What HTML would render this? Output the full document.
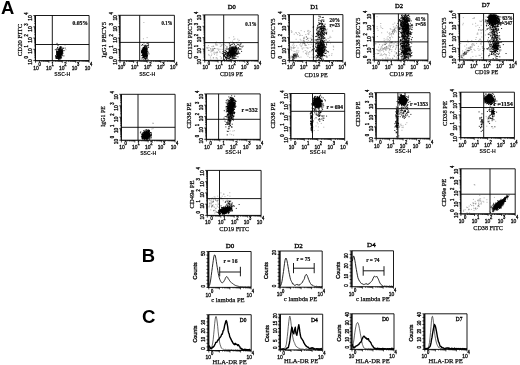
<!DOCTYPE html>
<html lang="en">
<head>
<meta charset="utf-8">
<title>Figure: flow cytometry panels A, B, C</title>
<style>
html,body{margin:0;padding:0;background:#fff}
body{width:520px;height:365px;overflow:hidden}
svg{display:block}
text{fill:#111}
.s{font-family:"Liberation Sans", Arial, Helvetica, sans-serif;stroke:#111;stroke-width:.36}
.sb{font-family:"Liberation Sans", Arial, Helvetica, sans-serif;font-weight:700;fill:#000}
.r{font-family:"Liberation Serif", "Times New Roman", Times, serif;stroke:#111;stroke-width:.25}
.t{font-family:"Liberation Serif", "Times New Roman", Times, serif;stroke:#000;stroke-width:.32;fill:#000}
.rb{font-family:"Liberation Serif", "Times New Roman", Times, serif;font-weight:700;stroke:#111;stroke-width:.22}
.ln{stroke:#000;stroke-width:.9;fill:none}
.tk{stroke:#000;stroke-width:.7;fill:none}
</style>
</head>
<body>
<svg width="520" height="365" viewBox="0 0 520 365">
<rect width="520" height="365" fill="#fff"/>
<g>
<text x="1" y="13.9" class="sb" font-size="18.4">A</text>
<text x="141.8" y="261.9" class="sb" font-size="18.4">B</text>
<text x="142" y="323.4" class="sb" font-size="18.6">C</text>
<path d="M60.2 47.6h.1M62.8 50.9h.1M65 45.2h.1M55.1 44.4h.1M64.5 50.7h.1M63 53.5h.1M60 48.9h.1M65.9 49.7h.1" stroke="#000" stroke-width=".7" stroke-linecap="square" fill="none" stroke-opacity=".4"/>
<path d="M61.8 53.2h.1M58.6 58.4h.1M59.3 55.8h.1M59.9 52.5h.1M58.2 56.7h.1M59.3 56.9h.1M59.3 53.2h.1M56.8 54.9h.1M60.8 48.1h.1M60.2 56.4h.1M58.4 53.6h.1M59.1 49.5h.1M60 49.8h.1M58.9 54.3h.1M58.9 56.7h.1M57.2 55.5h.1M60.1 55.3h.1M59.5 51.8h.1M59.7 51.1h.1M57.1 58h.1M61.7 54.5h.1M59.5 54.4h.1M58.7 58.1h.1M62.2 50.7h.1M59.2 53.6h.1M57.2 58.3h.1M58.7 59.5h.1M56 56.4h.1M60.8 57.9h.1M58.7 53.4h.1M58.2 56h.1M60.9 53.3h.1M56.9 51.9h.1M60.1 54.8h.1M56.3 58.5h.1M58.3 54.7h.1M57.6 55.4h.1M61.4 56.9h.1M61.9 50.1h.1M58.8 51.1h.1M60.5 52.3h.1M59 51.8h.1M60.1 57.5h.1M58.2 56h.1M56.8 53.8h.1M56.7 54.5h.1M62.6 51.3h.1M59.7 52.5h.1M58.5 55.8h.1M62.1 54.7h.1M59.6 55h.1M59.4 52.3h.1M59.7 51.5h.1M59.1 56.2h.1M58.9 54.7h.1M57.2 51.6h.1M60 57.1h.1M59.2 56.6h.1M61 53.1h.1M58.8 54.2h.1M56.5 56.7h.1M59.2 53h.1M61.8 49.9h.1M58.7 55.7h.1M58 51.7h.1M57.6 56.5h.1M57.8 51.8h.1M58.9 54.6h.1M57.6 55.2h.1M61.5 57.9h.1M58.9 52.2h.1M59.5 51h.1M61.4 51.9h.1M61.5 50.6h.1M59 53.3h.1M59.8 55.4h.1M60.4 55.9h.1M59 58.9h.1M56.7 54.2h.1M60.6 58.8h.1M59.9 53.8h.1M58 49.6h.1M59 54.5h.1M58.4 55.2h.1M58.9 49.1h.1M61.2 53.8h.1M61.5 52.9h.1M60.3 52.1h.1M60.1 55.7h.1M60.3 56.6h.1M59.3 53.4h.1M59.2 55.2h.1M58.3 53.5h.1M59.2 52.7h.1M62.6 53h.1M60.6 55.2h.1M58.8 53.5h.1M58.6 49.5h.1M58 56.7h.1M59.8 50.3h.1M59.9 54.6h.1M60 54.2h.1M58.5 52.1h.1M61.4 49.9h.1M59.5 57.4h.1M61.8 53.2h.1M58.6 56.3h.1M58.9 57.1h.1M59.7 54.2h.1M60.8 53h.1M60.1 51.8h.1M57.5 47.9h.1M59.6 50.7h.1M59.3 54.4h.1M58.7 54.5h.1M58.4 56.1h.1M61.8 52.9h.1M58.7 55.3h.1M58.1 57.2h.1M60.2 51.9h.1M59.5 53.8h.1M59.2 50.7h.1M60.4 56.4h.1M60 54.3h.1M59.8 55.5h.1M60.7 57.7h.1M59.7 57.1h.1M58.4 54.9h.1M58.8 56.8h.1M58.5 51.5h.1M59.6 55.5h.1M57.7 55.8h.1M56.6 52h.1M59.4 57.8h.1M57.4 53.9h.1M56.5 57.8h.1M59.8 53.3h.1M58.3 57.6h.1M60 57.5h.1M58.5 53h.1M57.7 51.7h.1M57.5 55.2h.1M58.6 57.1h.1M58.9 53.9h.1M58.1 53.7h.1M58.9 56h.1M57.1 48.9h.1M59.3 52.9h.1M56.7 52.6h.1M59 55.5h.1M60.3 52.2h.1M60.9 51h.1M61.8 52.4h.1M57 52.2h.1M60.4 54h.1M61 52h.1M60.7 52.9h.1M58 53.5h.1M59.9 56.5h.1M62 52.9h.1M57.1 57.1h.1M60 55.4h.1M60.9 51.7h.1M58.3 56.6h.1M60.1 55h.1M57.7 56.2h.1M58.1 54.2h.1M58.1 54.2h.1M59.6 56.4h.1M60.7 51.8h.1M57.9 56.7h.1M59.1 53.8h.1M60.7 55.8h.1M60.1 55.2h.1M57.4 58.3h.1M60.3 47.1h.1M58.6 53.5h.1M59.9 51.8h.1M59.7 54.1h.1M61.1 51.9h.1M59.5 52.9h.1M56.6 57.7h.1M60.4 47h.1M58.9 54h.1M61 54.5h.1M59.7 54.4h.1M58.2 54.3h.1M60.9 50.4h.1M58.1 52.9h.1M56.3 58h.1M62.3 55.7h.1M56.5 56.3h.1M60.2 52h.1M60.7 54.1h.1M59.5 53.9h.1M56.9 57.3h.1M60.8 54.1h.1M57.2 54.2h.1M57.4 56.1h.1M58.8 52h.1M60.4 56h.1M59.7 57.3h.1M60.5 51h.1M58.7 56h.1M59.1 52.3h.1M57.7 58.1h.1M58.8 57.1h.1M60.2 53.6h.1M58.9 57.3h.1M60 53.2h.1M58.5 53.5h.1M58.4 53.7h.1M59.4 54.2h.1M59 53.9h.1M60.2 54.5h.1M59.6 52.9h.1M61.8 55.1h.1M59 57.3h.1M59 53.5h.1M57.8 51.9h.1M59.3 56.4h.1M60.3 56.9h.1M58.2 54.8h.1M59.2 51.4h.1M60.3 54.7h.1M59.1 58.5h.1M58.5 50.4h.1M60.7 55h.1M59.4 53.7h.1M59.9 52.2h.1M61 54.9h.1M61 50.5h.1M58.8 55.6h.1M58.5 58.3h.1M59.7 54.8h.1M59.1 52.5h.1M56.5 51.7h.1M61.1 50.4h.1M59.3 50h.1M60.4 58h.1M57.6 54.9h.1M61.2 51h.1M58.4 51.8h.1M59.1 52h.1M57.3 54.9h.1M59.1 51.5h.1M59 58.9h.1M59 52.9h.1M59.9 52.3h.1M59.4 55.3h.1M60.7 57.4h.1M58.6 58.2h.1M57.9 54.2h.1M59.3 55.2h.1M60.2 54.5h.1M61.1 54.9h.1M60.5 54.6h.1M56.7 53.6h.1M59.8 51.2h.1M61.4 53.9h.1M59.4 51.6h.1M58.6 58.4h.1M59.7 54.5h.1M58.6 52.4h.1M60.2 53.3h.1M58.5 52.7h.1M59.3 55h.1M61.7 54.1h.1M56.4 49.2h.1M55.5 56.3h.1M60.3 54.3h.1M59.2 50h.1M60 53.5h.1M60.6 47.4h.1M59.2 57.5h.1M61.4 50.7h.1M57.6 53.1h.1M59.7 56.4h.1M57.8 52.8h.1M57.1 55.7h.1M61 48.1h.1M60.9 49.8h.1M55.3 49.7h.1M57.1 52.9h.1M60.2 55.6h.1M62 52h.1M58.1 56.2h.1M59.2 49.1h.1M56.5 50.9h.1M65.1 48.1h.1M60.6 53.9h.1M61.6 52.7h.1M61 51.6h.1M61.7 53.5h.1M60.9 51.2h.1M58.9 52.7h.1M61.2 56.1h.1M59.8 50.3h.1M62.5 51.6h.1M58 58.7h.1M58.4 53.3h.1M61.1 54.1h.1M62.4 48.9h.1M59.9 59h.1M58 45.4h.1M59.3 48.6h.1M58.5 49.3h.1M63.8 55.9h.1M61.6 52.6h.1M62.4 50.1h.1M60.3 47.7h.1M58.4 54.3h.1M62.2 51.5h.1M63.2 48.2h.1M60.9 46.6h.1M59.5 48.6h.1M62 52h.1M58.8 53.9h.1M61.3 51.8h.1M58 52.6h.1M57.5 47.4h.1M60.8 52h.1M60.3 48.5h.1M63.8 50.5h.1M59 54.3h.1M59.7 50.1h.1M57.1 50.1h.1M55.5 57.8h.1M55.7 55.5h.1M60.6 49.7h.1M57 43.4h.1M62.1 51h.1M62.7 53h.1M59 56.6h.1M63.2 48.3h.1M60.1 49.9h.1M62.1 49.7h.1M59.1 55.5h.1M61.7 47.3h.1M57.5 53h.1M61 48.5h.1M58.6 53.8h.1M59.3 47.2h.1M61 53h.1M60 50.5h.1" stroke="#000" stroke-width=".8" stroke-linecap="square" fill="none"/>
<path d="M35.5 15.5H89.1V60.6H35.5Z M52.3 15.5V60.6 M35.5 44.5H89.1" class="ln"/>
<path d="M35.5 60.6v2.2M35.5 60.6h-2.2M39.5 60.6v1.2M35.5 57.2h-1.2M41.9 60.6v1.2M35.5 55.2h-1.2M43.6 60.6v1.2M35.5 53.8h-1.2M44.9 60.6v1.2M35.5 52.7h-1.2M45.9 60.6v1.2M35.5 51.8h-1.2M46.8 60.6v1.2M35.5 51.1h-1.2M47.6 60.6v1.2M35.5 50.4h-1.2M48.3 60.6v1.2M35.5 49.8h-1.2M48.9 60.6v2.2M35.5 49.3h-2.2M52.9 60.6v1.2M35.5 45.9h-1.2M55.3 60.6v1.2M35.5 43.9h-1.2M57 60.6v1.2M35.5 42.5h-1.2M58.3 60.6v1.2M35.5 41.4h-1.2M59.3 60.6v1.2M35.5 40.6h-1.2M60.2 60.6v1.2M35.5 39.8h-1.2M61 60.6v1.2M35.5 39.1h-1.2M61.7 60.6v1.2M35.5 38.6h-1.2M62.3 60.6v2.2M35.5 38h-2.2M66.3 60.6v1.2M35.5 34.7h-1.2M68.7 60.6v1.2M35.5 32.7h-1.2M70.4 60.6v1.2M35.5 31.3h-1.2M71.7 60.6v1.2M35.5 30.2h-1.2M72.7 60.6v1.2M35.5 29.3h-1.2M73.6 60.6v1.2M35.5 28.5h-1.2M74.4 60.6v1.2M35.5 27.9h-1.2M75.1 60.6v1.2M35.5 27.3h-1.2M75.7 60.6v2.2M35.5 26.8h-2.2M79.7 60.6v1.2M35.5 23.4h-1.2M82.1 60.6v1.2M35.5 21.4h-1.2M83.8 60.6v1.2M35.5 20h-1.2M85.1 60.6v1.2M35.5 18.9h-1.2M86.1 60.6v1.2M35.5 18h-1.2M87 60.6v1.2M35.5 17.2h-1.2M87.8 60.6v1.2M35.5 16.6h-1.2M88.5 60.6v1.2M35.5 16h-1.2M89.1 60.6v2.2M35.5 15.5h-2.2" class="tk"/>
<path d="M35.3 15.5V61" stroke="#000" stroke-width="1.3" fill="none" stroke-opacity=".6"/>
<path d="M34.9 60.9H89.1" stroke="#000" stroke-width="1.2" fill="none" stroke-opacity=".45"/>
<text x="33.3" y="69.5" class="s" font-size="6.1" textLength="5.5" lengthAdjust="spacingAndGlyphs">10</text>
<text x="38.6" y="65.8" class="s" font-size="4.6" textLength="2.3" lengthAdjust="spacingAndGlyphs">0</text>
<g transform="translate(32.1 60.6) rotate(-90)">
<text x="-4.1" y="0" class="s" font-size="6.1" textLength="5.4" lengthAdjust="spacingAndGlyphs">10</text>
<text x="2" y="-3.7" class="s" font-size="4.6" textLength="2.3" lengthAdjust="spacingAndGlyphs">0</text>
</g>
<text x="46.1" y="69.5" class="s" font-size="6.1" textLength="5.5" lengthAdjust="spacingAndGlyphs">10</text>
<text x="51.4" y="65.8" class="s" font-size="4.6" textLength="2.3" lengthAdjust="spacingAndGlyphs">1</text>
<g transform="translate(32.1 49.3) rotate(-90)">
<text x="-4.4" y="0" class="s" font-size="6.1" textLength="5.4" lengthAdjust="spacingAndGlyphs">10</text>
<text x="1.7" y="-3.7" class="s" font-size="4.6" textLength="2.3" lengthAdjust="spacingAndGlyphs">1</text>
</g>
<text x="59" y="69.5" class="s" font-size="6.1" textLength="5.5" lengthAdjust="spacingAndGlyphs">10</text>
<text x="64.3" y="65.8" class="s" font-size="4.6" textLength="2.3" lengthAdjust="spacingAndGlyphs">2</text>
<g transform="translate(32.1 38) rotate(-90)">
<text x="-4.7" y="0" class="s" font-size="6.1" textLength="5.4" lengthAdjust="spacingAndGlyphs">10</text>
<text x="1.4" y="-3.7" class="s" font-size="4.6" textLength="2.3" lengthAdjust="spacingAndGlyphs">2</text>
</g>
<text x="71.8" y="69.5" class="s" font-size="6.1" textLength="5.5" lengthAdjust="spacingAndGlyphs">10</text>
<text x="77.1" y="65.8" class="s" font-size="4.6" textLength="2.3" lengthAdjust="spacingAndGlyphs">3</text>
<g transform="translate(32.1 26.8) rotate(-90)">
<text x="-5" y="0" class="s" font-size="6.1" textLength="5.4" lengthAdjust="spacingAndGlyphs">10</text>
<text x="1.1" y="-3.7" class="s" font-size="4.6" textLength="2.3" lengthAdjust="spacingAndGlyphs">3</text>
</g>
<text x="84.7" y="69.5" class="s" font-size="6.1" textLength="5.5" lengthAdjust="spacingAndGlyphs">10</text>
<text x="90" y="65.8" class="s" font-size="4.6" textLength="2.3" lengthAdjust="spacingAndGlyphs">4</text>
<g transform="translate(32.1 15.5) rotate(-90)">
<text x="-5.3" y="0" class="s" font-size="6.1" textLength="5.4" lengthAdjust="spacingAndGlyphs">10</text>
<text x=".8" y="-3.7" class="s" font-size="4.6" textLength="2.3" lengthAdjust="spacingAndGlyphs">4</text>
</g>
<text x="62.3" y="75.8" class="sb" font-size="5.9" text-anchor="middle" textLength="16" lengthAdjust="spacingAndGlyphs">SSC-H</text>
<text x="22.2" y="40" class="r" font-size="6.2" text-anchor="middle" textLength="32.5" lengthAdjust="spacingAndGlyphs" transform="rotate(-90 22.2 40)">CD20 FITC</text>
<text x="72.5" y="25.2" class="rb" font-size="5.4" textLength="15.4" lengthAdjust="spacingAndGlyphs">0.05%</text>
<path d="M143.4 38.8h.1M144.1 47.7h.1M145.4 48.5h.1M147.9 44.9h.1M147.6 45.5h.1M147.1 37.6h.1M142.8 51h.1M148.8 42.8h.1M143.8 22.5h.1" stroke="#000" stroke-width=".7" stroke-linecap="square" fill="none" stroke-opacity=".4"/>
<path d="M144 54.3h.1M142.8 49h.1M144.3 54.2h.1M146.6 54.3h.1M142.1 51.2h.1M143.9 50.1h.1M142 52.1h.1M144.7 48.8h.1M145.8 53.3h.1M142.9 53.2h.1M144 49.5h.1M146.4 52.4h.1M144.5 55.4h.1M142.9 55.4h.1M142.8 55.2h.1M141.9 51.9h.1M145.6 51.3h.1M143.6 51.2h.1M146 54h.1M145.8 59.1h.1M143.7 56.4h.1M143.9 56.9h.1M145.7 56.2h.1M144.8 47.6h.1M145 51.7h.1M142.4 51h.1M145.8 55.9h.1M143.4 57.2h.1M141.5 50.4h.1M143.8 52.4h.1M145.2 53.9h.1M147.4 50.9h.1M144.1 50.5h.1M142.8 50.3h.1M147.5 54.9h.1M144.8 49.7h.1M144.2 55.6h.1M143.1 52.6h.1M143.2 54.5h.1M146.6 56.8h.1M144.2 50.4h.1M143.9 49.9h.1M143.9 53.5h.1M146.7 49.3h.1M143.8 50.2h.1M145.4 52h.1M145 52.8h.1M144.9 48.7h.1M143.4 51.2h.1M145.5 54h.1M146.8 56.2h.1M144.5 46.6h.1M143.4 56.1h.1M142.9 54.9h.1M144.9 49.2h.1M144.2 48h.1M144.5 53.5h.1M144.6 51.1h.1M142.6 52.7h.1M145.7 54.8h.1M144.9 51.2h.1M144.5 52.8h.1M144.9 53.7h.1M145.9 54.9h.1M144.7 57.4h.1M143.5 57.2h.1M146.2 53h.1M144 51.6h.1M143.6 59.2h.1M142.5 54.1h.1M144.6 53.5h.1M143.2 49.1h.1M143.9 54.5h.1M145.2 50.1h.1M144.6 51h.1M146 48.4h.1M145 50.8h.1M144.1 52.5h.1M144.2 48h.1M143.9 49.7h.1M145.5 52.1h.1M144.6 48.7h.1M144 48.7h.1M145.7 49.9h.1M144.7 48.2h.1M144 54.1h.1M142.6 49.4h.1M145.2 54.5h.1M144.9 55h.1M144.7 48.8h.1M144 52.4h.1M143.5 50.9h.1M144.3 49h.1M144.9 51.3h.1M144.4 51.6h.1M144.4 54.4h.1M144 55.3h.1M145.1 49.1h.1M144.9 51.1h.1M143.6 53.8h.1M145.6 55.7h.1M145.7 45.2h.1M145.7 56h.1M144.4 51.8h.1M144.3 56.7h.1M143 51.1h.1M145.6 49.9h.1M141.7 52.4h.1M144.1 55.7h.1M144.1 52.4h.1M145.8 45.5h.1M144.6 54.3h.1M143.3 47.6h.1M142.7 49.5h.1M143.6 48.9h.1M144.7 47h.1M144.7 48.7h.1M144.3 49.4h.1M143.7 50.5h.1M144.3 52.1h.1M145.9 51.3h.1M143.1 48h.1M144.6 51.8h.1M146.8 55.1h.1M145.3 55h.1M144 52.7h.1M145.5 54.1h.1M143.6 54.9h.1M144.6 56.2h.1M146.7 57.2h.1M147.2 51.4h.1M142.3 51.5h.1M145.5 56.6h.1M147.2 56.8h.1M143.9 56.8h.1M144.9 45.5h.1M146.6 51.7h.1M143.9 42.9h.1M145.2 54.4h.1M144.5 52.5h.1M142 52.5h.1M145.1 51.9h.1M144.4 56.1h.1M145.9 51.4h.1M147.4 55.3h.1M145.5 53.9h.1M144.1 53.3h.1M145.2 53.6h.1M144.9 52.6h.1M146 49.1h.1M142.7 54.4h.1M143 54.4h.1M141.8 51.9h.1M145.4 54.4h.1M144.6 54.9h.1M143.7 48.6h.1M143.6 51.9h.1M143.8 51h.1M143.3 49.7h.1M144.2 53.2h.1M143.9 49.9h.1M146.5 51h.1M145 53h.1M143.5 53.3h.1M143.8 53.2h.1M146.2 58.8h.1M145.2 50.8h.1M145 53h.1M145.6 48.8h.1M146.7 53.7h.1M143 55.6h.1M143.6 55.8h.1M142.3 50.5h.1M145.3 51.5h.1M144.1 56h.1M143.7 52h.1M143.6 55.1h.1M145.5 49.5h.1M144.4 56.3h.1M143.9 55.3h.1M146.3 53.6h.1M143.2 50h.1M142.9 51.8h.1M148.1 52.7h.1M144.1 53.1h.1M143.9 52h.1M143.6 51.7h.1M144.4 52.9h.1M145.7 56.3h.1M145.6 46.5h.1M145.3 48.3h.1M144.2 47.8h.1M142.6 50.3h.1M145 47.3h.1M146.7 53.9h.1M146 52.6h.1M144.4 51.6h.1M145.7 50.3h.1M144.1 52.8h.1M144.5 52.8h.1M142.9 53.3h.1M144.2 50.2h.1M144.8 54.2h.1M144.4 48h.1M145.6 55.9h.1M147.1 43.4h.1M146.4 50.6h.1M144.2 48.8h.1M143.6 54.6h.1M143.7 48h.1M143.3 57.6h.1M144.6 47.8h.1M145.2 58.2h.1M144.8 53.6h.1M144.9 52.4h.1M144.8 53.6h.1M144.4 58.7h.1M143.6 54.9h.1M146.9 45.8h.1M146 55.8h.1M143.4 53h.1M143.4 47.6h.1M143.8 54.5h.1M144.6 48.8h.1M146.3 52.8h.1M146 53h.1M146 50.4h.1M146.1 54.2h.1M146.1 49.3h.1M145.6 52.9h.1M145.2 50.7h.1M144.4 51.8h.1M142.2 57.9h.1M144.4 52.6h.1M147 49.1h.1M143.9 52h.1M143.8 50.1h.1M146 52.4h.1M144.7 52.8h.1M144 52.5h.1M146.7 52.5h.1M145.4 50.7h.1M145.6 53.6h.1M143.8 55.4h.1M145.3 50.5h.1M145.1 52.1h.1M145.6 52.5h.1M146.2 55.9h.1M146.1 55.4h.1M144.8 50.2h.1M145.1 53.2h.1M142.2 52.8h.1M143.2 55.8h.1M145 50.9h.1M146.2 51h.1M146.8 55.1h.1M144.4 53.9h.1M142.4 57.3h.1M145.8 51.4h.1M144.7 52.1h.1M145.8 47.4h.1M145.3 59.1h.1M146.4 46.4h.1M146.2 53.4h.1M146.6 48.6h.1M144.1 54h.1M146.9 55.8h.1M144 45.3h.1M145.2 51.6h.1M148.5 44.8h.1M145.7 58.7h.1M142.8 50.6h.1M147.8 45.6h.1M146.9 49.4h.1M147.2 58.3h.1M145.4 59h.1M145.7 58.1h.1M144.6 49h.1M143.7 51.8h.1M147.9 59.7h.1M144.3 49.3h.1M144.1 51h.1M144.2 48.3h.1M148.5 47.4h.1M146.7 57.8h.1M144.3 55.3h.1M144.9 54.5h.1M146 55.1h.1M146.7 57h.1M141.9 59.1h.1M146.7 52.5h.1M144.6 51h.1M143.7 48h.1M144.3 57.3h.1M146.5 50.2h.1M148.3 45.9h.1M145.3 51.3h.1M146.1 52.6h.1M143.5 56.2h.1M145.9 56.9h.1M146.6 49.3h.1M142.2 49h.1M144 51.1h.1M146.5 47.2h.1M141.7 52h.1M144.3 54.5h.1M146.1 52.7h.1M141.8 45.4h.1M144.2 47.3h.1M145.1 58.2h.1M146.7 48h.1M142.6 55.7h.1M147.1 55.3h.1M145.6 51.1h.1M147.3 48.1h.1M147.2 53.4h.1M145.6 48.6h.1M145.9 51.7h.1M141.7 53h.1M142.4 49.3h.1M143.1 51.5h.1M144.3 51.1h.1M146.8 47.1h.1M141.6 51.7h.1M144.4 49.7h.1M142.5 44.5h.1M142 51h.1M147.8 51.3h.1M145.2 49.8h.1M148.1 43.4h.1M147.2 55.9h.1M143.2 55.5h.1M141.5 55.4h.1M148.9 53.9h.1M144.2 47h.1M142.8 53h.1M146.3 48.4h.1M143.7 50.2h.1M144.3 55.4h.1" stroke="#000" stroke-width=".8" stroke-linecap="square" fill="none"/>
<path d="M120 15.3H174.4V60.7H120Z M139.7 15.3V60.7 M120 42.4H174.4" class="ln"/>
<path d="M120 60.7v2.2M120 60.7h-2.2M124.1 60.7v1.2M120 57.3h-1.2M126.5 60.7v1.2M120 55.3h-1.2M128.2 60.7v1.2M120 53.9h-1.2M129.5 60.7v1.2M120 52.8h-1.2M130.6 60.7v1.2M120 51.9h-1.2M131.5 60.7v1.2M120 51.1h-1.2M132.3 60.7v1.2M120 50.4h-1.2M133 60.7v1.2M120 49.9h-1.2M133.6 60.7v2.2M120 49.4h-2.2M137.7 60.7v1.2M120 45.9h-1.2M140.1 60.7v1.2M120 43.9h-1.2M141.8 60.7v1.2M120 42.5h-1.2M143.1 60.7v1.2M120 41.4h-1.2M144.2 60.7v1.2M120 40.5h-1.2M145.1 60.7v1.2M120 39.8h-1.2M145.9 60.7v1.2M120 39.1h-1.2M146.6 60.7v1.2M120 38.5h-1.2M147.2 60.7v2.2M120 38h-2.2M151.3 60.7v1.2M120 34.6h-1.2M153.7 60.7v1.2M120 32.6h-1.2M155.4 60.7v1.2M120 31.2h-1.2M156.7 60.7v1.2M120 30.1h-1.2M157.8 60.7v1.2M120 29.2h-1.2M158.7 60.7v1.2M120 28.4h-1.2M159.5 60.7v1.2M120 27.7h-1.2M160.2 60.7v1.2M120 27.2h-1.2M160.8 60.7v2.2M120 26.6h-2.2M164.9 60.7v1.2M120 23.2h-1.2M167.3 60.7v1.2M120 21.2h-1.2M169 60.7v1.2M120 19.8h-1.2M170.3 60.7v1.2M120 18.7h-1.2M171.4 60.7v1.2M120 17.8h-1.2M172.3 60.7v1.2M120 17.1h-1.2M173.1 60.7v1.2M120 16.4h-1.2M173.8 60.7v1.2M120 15.8h-1.2M174.4 60.7v2.2M120 15.3h-2.2" class="tk"/>
<path d="M119.8 15.3V61.1" stroke="#000" stroke-width="1.3" fill="none" stroke-opacity=".6"/>
<path d="M119.4 61H174.4" stroke="#000" stroke-width="1.2" fill="none" stroke-opacity=".45"/>
<text x="117.8" y="69.3" class="s" font-size="6.1" textLength="5.5" lengthAdjust="spacingAndGlyphs">10</text>
<text x="123.1" y="65.6" class="s" font-size="4.6" textLength="2.3" lengthAdjust="spacingAndGlyphs">0</text>
<g transform="translate(116.6 60.7) rotate(-90)">
<text x="-4.1" y="0" class="s" font-size="6.1" textLength="5.4" lengthAdjust="spacingAndGlyphs">10</text>
<text x="2" y="-3.7" class="s" font-size="4.6" textLength="2.3" lengthAdjust="spacingAndGlyphs">0</text>
</g>
<text x="130.9" y="69.3" class="s" font-size="6.1" textLength="5.5" lengthAdjust="spacingAndGlyphs">10</text>
<text x="136.2" y="65.6" class="s" font-size="4.6" textLength="2.3" lengthAdjust="spacingAndGlyphs">1</text>
<g transform="translate(116.6 49.4) rotate(-90)">
<text x="-4.4" y="0" class="s" font-size="6.1" textLength="5.4" lengthAdjust="spacingAndGlyphs">10</text>
<text x="1.7" y="-3.7" class="s" font-size="4.6" textLength="2.3" lengthAdjust="spacingAndGlyphs">1</text>
</g>
<text x="143.9" y="69.3" class="s" font-size="6.1" textLength="5.5" lengthAdjust="spacingAndGlyphs">10</text>
<text x="149.2" y="65.6" class="s" font-size="4.6" textLength="2.3" lengthAdjust="spacingAndGlyphs">2</text>
<g transform="translate(116.6 38) rotate(-90)">
<text x="-4.7" y="0" class="s" font-size="6.1" textLength="5.4" lengthAdjust="spacingAndGlyphs">10</text>
<text x="1.4" y="-3.7" class="s" font-size="4.6" textLength="2.3" lengthAdjust="spacingAndGlyphs">2</text>
</g>
<text x="157" y="69.3" class="s" font-size="6.1" textLength="5.5" lengthAdjust="spacingAndGlyphs">10</text>
<text x="162.2" y="65.6" class="s" font-size="4.6" textLength="2.3" lengthAdjust="spacingAndGlyphs">3</text>
<g transform="translate(116.6 26.6) rotate(-90)">
<text x="-5" y="0" class="s" font-size="6.1" textLength="5.4" lengthAdjust="spacingAndGlyphs">10</text>
<text x="1.1" y="-3.7" class="s" font-size="4.6" textLength="2.3" lengthAdjust="spacingAndGlyphs">3</text>
</g>
<text x="170" y="69.3" class="s" font-size="6.1" textLength="5.5" lengthAdjust="spacingAndGlyphs">10</text>
<text x="175.3" y="65.6" class="s" font-size="4.6" textLength="2.3" lengthAdjust="spacingAndGlyphs">4</text>
<g transform="translate(116.6 15.3) rotate(-90)">
<text x="-5.3" y="0" class="s" font-size="6.1" textLength="5.4" lengthAdjust="spacingAndGlyphs">10</text>
<text x=".8" y="-3.7" class="s" font-size="4.6" textLength="2.3" lengthAdjust="spacingAndGlyphs">4</text>
</g>
<text x="147.2" y="75.6" class="sb" font-size="5.9" text-anchor="middle" textLength="16" lengthAdjust="spacingAndGlyphs">SSC-H</text>
<text x="105.8" y="39.8" class="r" font-size="6.2" text-anchor="middle" textLength="36" lengthAdjust="spacingAndGlyphs" transform="rotate(-90 105.8 39.8)">IgG1 PECY5</text>
<text x="161.5" y="25.1" class="rb" font-size="5.4" textLength="11" lengthAdjust="spacingAndGlyphs">0.1%</text>
<path d="M215.9 44h.1M212.2 48.3h.1M216.8 55h.1M216.8 53.1h.1M208.5 50.3h.1M208.4 45.6h.1M220.1 43.8h.1M213.5 49.6h.1M208.7 54.4h.1M207.4 47.4h.1M213.5 57.9h.1M221.2 53.2h.1M209.7 50.5h.1M223.9 55.5h.1M206.4 47.9h.1M216.7 57.8h.1M218.6 49.1h.1M215.6 43.1h.1M210.7 59.1h.1M211.7 51.2h.1M216 57.9h.1M222.1 44.8h.1M213.6 46.3h.1M212.2 51h.1M213.2 57.8h.1M224 44.5h.1M210.8 51.9h.1M209.1 55.5h.1M222.1 49.4h.1M208.3 50.3h.1M221.1 58.4h.1M217.3 51.9h.1M223.2 54.4h.1M211.7 54.1h.1M221.4 57.8h.1M207.6 48.6h.1M220.1 52h.1M211.9 46.5h.1M214.3 48.5h.1M220.3 56.6h.1M217.4 58.9h.1M214.2 48.4h.1M211.3 55.6h.1M219.6 51.9h.1M214.4 54.4h.1M210.4 49h.1M213.1 48.8h.1M220.3 46.4h.1M210.6 48.7h.1M214 53.2h.1M212 49.9h.1M216.9 44.7h.1M214.5 48.4h.1M225.5 45.6h.1M216.4 42.1h.1M213.2 46.1h.1M216.3 52.3h.1M217.4 48.9h.1M213.5 50.4h.1M208.9 47.6h.1M210.4 57.1h.1M215.3 52.9h.1M218.6 50.3h.1M216.9 45.3h.1M214 52.1h.1M217.3 52.4h.1M212 50.2h.1M215.7 48.6h.1M221.6 45.1h.1M220 49.3h.1M221.2 46h.1M212.6 49.9h.1M215.5 44.9h.1M228.4 42.6h.1M239.3 40.4h.1M233.8 39.4h.1M229.2 37.8h.1M233.6 36.8h.1M234.8 38.9h.1M237.7 39.2h.1M238.2 41.1h.1M230.7 42h.1M236.1 42.4h.1M239.6 42.9h.1M232.5 41.2h.1" stroke="#000" stroke-width=".7" stroke-linecap="square" fill="none" stroke-opacity=".4"/>
<path d="M235 52.9h.1M229.6 45.8h.1M231.9 47.3h.1M228.7 54.4h.1M231.4 52.5h.1M232.1 55.5h.1M232.8 52.9h.1M236.1 47.3h.1M233.5 52.9h.1M232.8 50.2h.1M232.2 51.9h.1M237.9 48.7h.1M230.4 54.3h.1M235.5 47.1h.1M226.4 51.8h.1M229.6 47.4h.1M233.3 58.2h.1M231.6 50h.1M240.8 46.4h.1M239.6 46.1h.1M227.7 52.7h.1M229 52.7h.1M231.7 54.5h.1M237.1 50.9h.1M235.4 52.1h.1M233 50.5h.1M228 54.1h.1M229.7 57.1h.1M224.3 55.9h.1M227.6 55.4h.1M233.3 46.3h.1M234.4 53.1h.1M228.3 54.9h.1M232.4 56.1h.1M236.8 42.8h.1M232.6 52.5h.1M231.2 52.6h.1M233.9 52.1h.1M233.6 50.1h.1M232.3 53.1h.1M230.6 55.2h.1M230.9 53.2h.1M232.4 51.6h.1M230.5 52.6h.1M236 49.8h.1M234.7 51.6h.1M235.3 49.2h.1M238 44.4h.1M236.7 54.4h.1M236.2 45.8h.1M233.2 51.7h.1M231.6 49.1h.1M238.8 48.9h.1M230.2 50.6h.1M230.3 53.2h.1M229.6 51.2h.1M232.7 48.6h.1M233.3 52.9h.1M235.1 55h.1M231.5 53.8h.1M227.1 55h.1M233 49.1h.1M234.9 51.1h.1M232.2 53.7h.1M231.7 50.8h.1M233.7 54.3h.1M236.3 50.6h.1M231.9 53.6h.1M228 52.8h.1M230.5 51.8h.1M231.6 53.3h.1M226.9 55.8h.1M234.3 52.5h.1M229.9 50.5h.1M233.6 49.8h.1M232.7 52.2h.1M231.2 47.6h.1M236.8 53.4h.1M230.5 54.1h.1M230.2 53.4h.1M233 50.1h.1M234.5 53.8h.1M232.1 51.7h.1M229.3 59.1h.1M234.1 52.7h.1M233.9 47.5h.1M238.1 51.9h.1M231.5 51.2h.1M232.7 50.7h.1M230.5 52.5h.1M227.8 53.9h.1M232.3 53.1h.1M234.6 53.6h.1M229.2 55h.1M230.1 51.2h.1M228.7 50.1h.1M236 48.5h.1M230.3 54.3h.1M233.8 54.2h.1M229.6 58.6h.1M232.3 48.5h.1M230.3 53.4h.1M225.3 54.7h.1M232.3 51.2h.1M233.6 52.2h.1M226.1 54.3h.1M231.6 51.9h.1M230.8 51.1h.1M229 54.9h.1M231.4 55.7h.1M226.5 59.5h.1M232.8 50.6h.1M235.5 48h.1M228.4 53.3h.1M231.9 50.1h.1M236.2 53.6h.1M232.5 50h.1M230.6 53.3h.1M229.5 49.7h.1M232.6 51.2h.1M231.7 53.1h.1M233.9 56h.1M227.7 52.3h.1M235.2 52.1h.1M230.9 47h.1M234 48.2h.1M230 51h.1M228.3 52.6h.1M230.5 54.4h.1M229.3 55.4h.1M231 48.3h.1M234 53.1h.1M235.2 47.9h.1M232.7 57.4h.1M230.5 54h.1M230.8 53.4h.1M233.8 51.2h.1M235.4 50.9h.1M231.2 52.8h.1M231.7 50.6h.1M229.9 55.5h.1M232.7 52.9h.1M234.9 53.4h.1M223.7 55.8h.1M232.8 54h.1M230.5 51h.1M233 50h.1M231.8 51.3h.1M233.2 54.7h.1M228.1 57.6h.1M238.3 47.5h.1M232.4 47.6h.1M231.1 48.9h.1M236.5 47.7h.1M234 49.4h.1M234.5 50.9h.1M235.5 53.9h.1M226.1 58.1h.1M236.9 48.6h.1M231.1 54.4h.1M232.9 54.6h.1M234.8 55.3h.1M230 52.8h.1M233 49.9h.1M234.3 53.6h.1M232 56.8h.1M233.5 50.3h.1M228.6 58.8h.1M228.8 53.1h.1M233.2 47.5h.1M243 46.1h.1M232.9 51.1h.1M231.7 54.1h.1M231.9 47.7h.1M235 58.1h.1M234.2 58.2h.1M228.8 51.8h.1M235 45.9h.1M232 52h.1M234.5 52.6h.1M226.3 58.7h.1M227.6 56.4h.1M233.8 51.1h.1M226.9 49h.1M233.2 53.4h.1M233.1 54.4h.1M232.5 51.3h.1M233.1 52.7h.1M232.9 52.6h.1M233.4 51.2h.1M230.9 49.6h.1M232 53.4h.1M240.6 44.7h.1M235.4 55h.1M233.9 49.1h.1M233.2 53.3h.1M230 51.2h.1M232.8 53.2h.1M231.4 52.1h.1M234.8 52.7h.1M229.4 51.3h.1M225.2 50.7h.1M230.5 52.3h.1M234.1 50.5h.1M239.2 45.1h.1M235.1 49.2h.1M229.3 48.8h.1M231.5 53h.1M229.3 52.5h.1M231.6 52.7h.1M227.3 54.9h.1M233.4 52.9h.1M232.7 53.9h.1M231.6 52.2h.1M233.1 50.3h.1M238 52.4h.1M232.4 55.2h.1M231 44.6h.1M234.6 50.9h.1M227.3 53.5h.1M234.3 49.8h.1M229.9 56.9h.1M229.7 51.9h.1M232.4 54.7h.1M236.9 48.8h.1M229.9 52.1h.1M234.9 53.3h.1M233.2 49.8h.1M228.1 53.6h.1M234.8 48.1h.1M229.7 50.9h.1M227.8 56.3h.1M229.8 55h.1M230 50h.1M233.8 48.3h.1M236.4 48.7h.1M232.7 49.6h.1M230 54.7h.1M229.7 51.2h.1M232.8 51.1h.1M226.2 57.4h.1M225.8 57.9h.1M229.5 52.9h.1M233.9 55.4h.1M232.6 51.7h.1M232.2 51.7h.1M231.5 52.6h.1M225.8 54.2h.1M231.2 54.3h.1M227 55.4h.1M234.5 49.1h.1M232.1 52.9h.1M231.8 50.9h.1M233.3 50.2h.1M233 51.6h.1M232.8 55h.1M233.1 52.7h.1M230.4 56.7h.1M228.2 58.5h.1M233.1 51.9h.1M236.3 48.9h.1M235 48.9h.1M231.5 53.4h.1M233.9 54.1h.1M230.8 57.4h.1M233.2 48.2h.1M230.3 55.8h.1M232.5 55.2h.1M237.9 56.8h.1M234.3 52h.1M236.4 50.4h.1M229.9 49h.1M230.1 51h.1M232 49.3h.1M233.7 48.8h.1M231.5 50.1h.1M235 46.8h.1M230.5 52.8h.1M236 51.8h.1M234.9 53.4h.1M228.9 53.5h.1M233.8 54.7h.1M231.5 55.7h.1M235.1 46.8h.1M230.5 52.3h.1M233 48.5h.1M227.3 57.9h.1M232.2 55.1h.1M230.9 50.9h.1M237.6 53.4h.1M240 49h.1M230.6 52.8h.1M230.8 49.3h.1M231.4 52.1h.1M233.8 58.3h.1M228.4 52.3h.1M233.9 43h.1M230.4 59.6h.1M235.9 53.2h.1M237.2 49.5h.1M238.7 53.7h.1M230.8 50.1h.1M225.8 50.8h.1M224.4 59.7h.1M230.2 51.9h.1M225.5 57.6h.1M224.5 55.9h.1M230 57.3h.1M227.3 55.3h.1M234.4 44.4h.1M239.6 53.3h.1M230.5 51.9h.1M232.8 56.5h.1M224.9 56.2h.1M232.2 58.8h.1M228.5 53.2h.1M226.9 47h.1M223.7 54.9h.1M238.2 53.1h.1M224.7 54.5h.1M226.4 53.4h.1M231.5 59.2h.1M232.7 52.4h.1M232.7 57.1h.1M232 53.9h.1M227.8 49.1h.1M234.7 48.6h.1M232.3 51.9h.1M225.4 56.8h.1M238.2 47.9h.1M230.1 48.4h.1M235.5 48h.1M225.4 53.5h.1M226.5 51.7h.1M229.1 52h.1M235.8 53h.1M224.7 52.6h.1M232.2 53.1h.1M233.7 55.2h.1M232.4 52.7h.1M229.2 48.9h.1M240.9 43.4h.1M231.4 52.1h.1M236.2 51.4h.1M226 49h.1M231 48.3h.1M231.9 53.1h.1M232.1 44.5h.1M230.1 47.1h.1M228.1 54.4h.1M229.2 55.5h.1M227.7 58.7h.1M235.2 55.7h.1M240.9 49.1h.1M235.9 58.5h.1M234.2 56.2h.1M234.6 49.1h.1M234.1 54.1h.1M230.5 45.5h.1M230.2 52.6h.1M233 43.1h.1M239.2 49.1h.1M234.9 56.3h.1M238.4 51.1h.1M232.7 53h.1M233.3 53.2h.1M233.8 51.5h.1M225.9 57.5h.1M223.9 56h.1M241.5 51.4h.1M232.6 48.7h.1M226.6 57.4h.1M233.1 58.3h.1M230.4 56.4h.1M232.4 54.3h.1M229.8 57.8h.1M229.4 43.9h.1M234.7 58.4h.1M233 56h.1M236.8 53.5h.1M227.2 52.8h.1M236.1 52.8h.1M232 55.7h.1M232.5 47.3h.1M237 54.5h.1M231.2 53.9h.1M232.8 58.8h.1M234.4 55.1h.1M234.5 51.8h.1M235.2 52.4h.1M237.2 54h.1M234 53.2h.1M229.9 56.2h.1M242.1 47h.1M231.7 48.5h.1M233.4 50.6h.1M228.7 48.9h.1M222.7 53.5h.1M228.6 55.9h.1M232.1 46.9h.1M234.1 47.8h.1M232 56.2h.1M235.2 50.1h.1M236 51.9h.1M236 47.1h.1M231.9 49.3h.1M232.2 52.1h.1M228.2 56.4h.1M237.9 44.7h.1M226.6 57h.1M231.6 57.1h.1M232.8 55.8h.1M222.9 51.7h.1M235 52h.1M232.8 49.4h.1M230.5 55.2h.1M225.4 52.7h.1M232.7 48.1h.1M232.3 51.5h.1M236.1 56h.1M233.9 57.2h.1M224.8 52.4h.1M236.5 49.9h.1M235.2 48.7h.1" stroke="#000" stroke-width=".8" stroke-linecap="square" fill="none"/>
<path d="M204.7 14.9H258.2V60.4H204.7Z M223.7 14.9V60.4 M204.7 42.6H258.2" class="ln"/>
<path d="M204.7 60.4v2.2M204.7 60.4h-2.2M208.7 60.4v1.2M204.7 57h-1.2M211.1 60.4v1.2M204.7 55h-1.2M212.8 60.4v1.2M204.7 53.6h-1.2M214 60.4v1.2M204.7 52.4h-1.2M215.1 60.4v1.2M204.7 51.5h-1.2M216 60.4v1.2M204.7 50.8h-1.2M216.8 60.4v1.2M204.7 50.1h-1.2M217.5 60.4v1.2M204.7 49.5h-1.2M218.1 60.4v2.2M204.7 49h-2.2M222.1 60.4v1.2M204.7 45.6h-1.2M224.5 60.4v1.2M204.7 43.6h-1.2M226.1 60.4v1.2M204.7 42.2h-1.2M227.4 60.4v1.2M204.7 41.1h-1.2M228.5 60.4v1.2M204.7 40.2h-1.2M229.4 60.4v1.2M204.7 39.4h-1.2M230.2 60.4v1.2M204.7 38.8h-1.2M230.8 60.4v1.2M204.7 38.2h-1.2M231.4 60.4v2.2M204.7 37.6h-2.2M235.5 60.4v1.2M204.7 34.2h-1.2M237.8 60.4v1.2M204.7 32.2h-1.2M239.5 60.4v1.2M204.7 30.8h-1.2M240.8 60.4v1.2M204.7 29.7h-1.2M241.9 60.4v1.2M204.7 28.8h-1.2M242.8 60.4v1.2M204.7 28h-1.2M243.5 60.4v1.2M204.7 27.4h-1.2M244.2 60.4v1.2M204.7 26.8h-1.2M244.8 60.4v2.2M204.7 26.3h-2.2M248.9 60.4v1.2M204.7 22.9h-1.2M251.2 60.4v1.2M204.7 20.8h-1.2M252.9 60.4v1.2M204.7 19.4h-1.2M254.2 60.4v1.2M204.7 18.3h-1.2M255.2 60.4v1.2M204.7 17.4h-1.2M256.1 60.4v1.2M204.7 16.7h-1.2M256.9 60.4v1.2M204.7 16h-1.2M257.6 60.4v1.2M204.7 15.4h-1.2M258.2 60.4v2.2M204.7 14.9h-2.2" class="tk"/>
<path d="M204.5 14.9V60.8" stroke="#000" stroke-width="1.3" fill="none" stroke-opacity=".6"/>
<path d="M204.1 60.7H258.2" stroke="#000" stroke-width="1.2" fill="none" stroke-opacity=".45"/>
<text x="202.5" y="69.1" class="s" font-size="6.1" textLength="5.5" lengthAdjust="spacingAndGlyphs">10</text>
<text x="207.8" y="65.4" class="s" font-size="4.6" textLength="2.3" lengthAdjust="spacingAndGlyphs">0</text>
<g transform="translate(201.3 60.4) rotate(-90)">
<text x="-4.1" y="0" class="s" font-size="6.1" textLength="5.4" lengthAdjust="spacingAndGlyphs">10</text>
<text x="2" y="-3.7" class="s" font-size="4.6" textLength="2.3" lengthAdjust="spacingAndGlyphs">0</text>
</g>
<text x="215.3" y="69.1" class="s" font-size="6.1" textLength="5.5" lengthAdjust="spacingAndGlyphs">10</text>
<text x="220.6" y="65.4" class="s" font-size="4.6" textLength="2.3" lengthAdjust="spacingAndGlyphs">1</text>
<g transform="translate(201.3 49) rotate(-90)">
<text x="-4.4" y="0" class="s" font-size="6.1" textLength="5.4" lengthAdjust="spacingAndGlyphs">10</text>
<text x="1.7" y="-3.7" class="s" font-size="4.6" textLength="2.3" lengthAdjust="spacingAndGlyphs">1</text>
</g>
<text x="228.2" y="69.1" class="s" font-size="6.1" textLength="5.5" lengthAdjust="spacingAndGlyphs">10</text>
<text x="233.4" y="65.4" class="s" font-size="4.6" textLength="2.3" lengthAdjust="spacingAndGlyphs">2</text>
<g transform="translate(201.3 37.6) rotate(-90)">
<text x="-4.7" y="0" class="s" font-size="6.1" textLength="5.4" lengthAdjust="spacingAndGlyphs">10</text>
<text x="1.4" y="-3.7" class="s" font-size="4.6" textLength="2.3" lengthAdjust="spacingAndGlyphs">2</text>
</g>
<text x="241" y="69.1" class="s" font-size="6.1" textLength="5.5" lengthAdjust="spacingAndGlyphs">10</text>
<text x="246.3" y="65.4" class="s" font-size="4.6" textLength="2.3" lengthAdjust="spacingAndGlyphs">3</text>
<g transform="translate(201.3 26.3) rotate(-90)">
<text x="-5" y="0" class="s" font-size="6.1" textLength="5.4" lengthAdjust="spacingAndGlyphs">10</text>
<text x="1.1" y="-3.7" class="s" font-size="4.6" textLength="2.3" lengthAdjust="spacingAndGlyphs">3</text>
</g>
<text x="253.8" y="69.1" class="s" font-size="6.1" textLength="5.5" lengthAdjust="spacingAndGlyphs">10</text>
<text x="259.1" y="65.4" class="s" font-size="4.6" textLength="2.3" lengthAdjust="spacingAndGlyphs">4</text>
<g transform="translate(201.3 14.9) rotate(-90)">
<text x="-5.3" y="0" class="s" font-size="6.1" textLength="5.4" lengthAdjust="spacingAndGlyphs">10</text>
<text x=".8" y="-3.7" class="s" font-size="4.6" textLength="2.3" lengthAdjust="spacingAndGlyphs">4</text>
</g>
<text x="231.4" y="76.4" class="r" font-size="6.2" text-anchor="middle" textLength="23" lengthAdjust="spacingAndGlyphs">CD19 PE</text>
<text x="191.6" y="38.6" class="r" font-size="6.2" text-anchor="middle" textLength="40.5" lengthAdjust="spacingAndGlyphs" transform="rotate(-90 191.6 38.6)">CD138 PECY5</text>
<text x="231.8" y="9.1" class="t" font-size="6.6" text-anchor="middle">D0</text>
<text x="245.2" y="25.8" class="rb" font-size="5.4" textLength="11.3" lengthAdjust="spacingAndGlyphs">0.1%</text>
<path d="M293.3 56.9h.1M295.5 53.5h.1M296.4 57.8h.1M296.7 56.9h.1M295.7 57.7h.1M292.5 56.9h.1M296.9 55.3h.1M297.1 53.1h.1M290.4 57.9h.1M293.3 59h.1M293.8 51.2h.1M292.9 59.9h.1M296.7 54.1h.1M295.5 56.8h.1M294.6 54.6h.1M291.9 56.6h.1M290.1 58.9h.1M292.5 56.4h.1M292.6 56.8h.1M291.2 55.9h.1M293.6 55.5h.1M295.2 55.3h.1M293.4 57.4h.1M294 59.4h.1M294.3 56.3h.1M294.3 53.9h.1M297 54.4h.1M292.8 54.1h.1M302.3 49.1h.1M312.4 39.7h.1M299.1 57.5h.1M293.9 47.7h.1M305.6 53.4h.1M309.6 57.6h.1M309 32.6h.1M296.2 52.9h.1M310.7 42.2h.1M293.5 44h.1M293.5 46.8h.1M307.6 47.9h.1M306.6 54.6h.1M302.2 35.5h.1M306.2 47.7h.1M296.9 50.3h.1M311.7 40.4h.1M299.5 33.6h.1M307.9 56.2h.1M310.4 31.5h.1M302 48.1h.1M290.6 47.1h.1M307.9 48.3h.1M311.9 57.2h.1M295.6 58.1h.1M312.6 36.4h.1M291.7 50.6h.1M306.9 53.1h.1M311.1 44.4h.1M312 50.3h.1M291.3 30.7h.1M311.4 42.7h.1M307.1 42.2h.1M309.7 52.1h.1M303.7 38.2h.1M295.6 56.7h.1M305.2 50.5h.1M306.9 51.3h.1M296.7 57.1h.1M302.3 44.9h.1M308.7 44.6h.1M308 30.4h.1M298.8 32.5h.1M306.3 53h.1M310.3 47.6h.1M309.7 51.6h.1M292.2 42.6h.1M297.6 34.6h.1M296.4 33.2h.1M300.9 57.1h.1M294.9 51.4h.1M294.2 34.2h.1M307.5 38.3h.1M300.4 35.1h.1M296.1 39.3h.1M293.8 47.9h.1M298.2 42.1h.1M308.6 54.2h.1M304.4 31.7h.1M308.9 31h.1M308.4 52.8h.1M312.8 54.3h.1M291.3 49h.1M306.4 36.7h.1M295 47.4h.1M295.8 32.5h.1M292.3 45.1h.1M307.5 42.9h.1M291.5 32.2h.1M303.2 51.8h.1M294.6 56.8h.1M307.7 33.8h.1M297.8 55.3h.1M292 31.9h.1M311.5 50.9h.1M295.8 54.3h.1M299.9 44.8h.1M294.6 53.5h.1M295.2 57.1h.1M300.7 46h.1M291.5 47.3h.1M290.7 56.8h.1M303.8 38.2h.1M298.8 50.9h.1M312 50.6h.1M312.1 49.3h.1M290.7 49.2h.1M304.2 37.2h.1M296.4 56h.1M292.2 48h.1M307 39.5h.1M299.6 35.6h.1M296.7 51.1h.1M301.1 30.6h.1M294.1 45.4h.1M302.9 43.2h.1M313.7 33.8h.1M303.3 41.1h.1M317.1 36.3h.1M304.4 41.9h.1M301.5 46.2h.1M305.7 34.6h.1M317 31.7h.1M304.3 41.1h.1M307.6 38.4h.1M293.7 42.9h.1M307.9 38.3h.1M298.2 52.3h.1M304.4 43.4h.1M311.8 35.3h.1M303.8 40.2h.1M308.6 34.6h.1M303.9 43.5h.1M303.3 40.3h.1M306.4 39.5h.1M310.4 41.3h.1M305.5 44.9h.1M304.9 44.2h.1M300.2 39.3h.1M296.6 45.8h.1M305.6 45.6h.1M304.1 38.3h.1M306.3 45.4h.1M310.2 38.2h.1M309.1 42.4h.1M300.6 43.5h.1M306.3 36.8h.1M306.4 37.3h.1M303.8 47.9h.1M293.7 48.6h.1M301 40.3h.1M304.5 45.1h.1M308.7 33.7h.1M303.4 42.4h.1M298 48h.1M311.7 38.2h.1M304.8 43.5h.1M302.7 43.2h.1M307.6 31.3h.1M308.4 40.4h.1M324.4 27.1h.1M327.3 29.1h.1M332.6 31h.1M331.2 27.3h.1M333.3 46.1h.1M324.3 25.3h.1M331.9 53.7h.1M329.3 40.5h.1M333.4 49.6h.1M331.6 55.3h.1M329.2 55.4h.1M330.5 43h.1M333.6 47h.1M324.9 28.5h.1M326.1 31.8h.1M328.1 38.5h.1M327 32.1h.1M329.6 37.8h.1M330 36.3h.1M330.8 37.4h.1M324.1 34.6h.1M332.7 26.4h.1M325.9 47.1h.1M324.9 27.2h.1M332.1 25.1h.1" stroke="#000" stroke-width=".7" stroke-linecap="square" fill="none" stroke-opacity=".4"/>
<path d="M326.1 47.3h.1M321.1 48.7h.1M322.4 49h.1M321.6 48.1h.1M321.9 46.9h.1M319.5 54.8h.1M319 48.1h.1M322.1 45.6h.1M319.5 46.7h.1M322.8 52.4h.1M322.5 41.5h.1M319.7 52.4h.1M321.6 53.3h.1M320.9 55.5h.1M320.4 48.7h.1M323.3 47.2h.1M320.8 51.1h.1M321.3 51h.1M316.3 55.7h.1M322.1 50.7h.1M317.4 48.8h.1M319.8 45.1h.1M324.4 49.6h.1M324.8 50.8h.1M319.8 55.2h.1M317.8 50.9h.1M321.7 55.9h.1M319.8 55.4h.1M321.5 47.4h.1M317.6 45.9h.1M323.3 47.9h.1M324.3 49.5h.1M317.4 47.2h.1M319 53.3h.1M319.1 53.2h.1M322.4 55.3h.1M316.2 51.6h.1M321.2 48.7h.1M320.2 52.1h.1M318.9 46.9h.1M322.4 51.1h.1M316.3 47.4h.1M317.6 55.1h.1M318.9 39.8h.1M322.4 53.9h.1M319.9 54h.1M318.8 50.3h.1M321.9 51.8h.1M319.6 51.3h.1M319.3 55.7h.1M320.1 57.1h.1M321.5 50.5h.1M326.9 57h.1M318.3 47.9h.1M321.4 52.2h.1M320.4 52.3h.1M320.2 45.5h.1M324.3 51.8h.1M322.5 47.8h.1M322.3 53.7h.1M319.7 46.9h.1M318.8 43.4h.1M321.5 45.3h.1M320.1 50.6h.1M319.5 51.7h.1M322.3 51.9h.1M318 47.4h.1M319.1 53.7h.1M322.6 48.3h.1M320.6 49.6h.1M322.3 54.4h.1M318.8 49.9h.1M322.4 43h.1M319.2 53.4h.1M323.9 50.5h.1M322.6 49h.1M321.9 55.6h.1M324.3 48h.1M321.6 53.1h.1M319.4 51h.1M321.6 43.3h.1M323.6 51.3h.1M321.2 51.9h.1M323.5 54.9h.1M318.8 48.8h.1M317.9 48h.1M317.6 56.1h.1M322.6 48.8h.1M316.3 51.6h.1M316.7 50.3h.1M317.6 52h.1M321.4 45.1h.1M321.9 48.3h.1M319 50.3h.1M322.7 50.9h.1M321.6 54.9h.1M323.6 52.5h.1M323 52.8h.1M319.3 50.3h.1M321.3 55.5h.1M320.5 48.1h.1M321.9 50.1h.1M321.3 44.5h.1M320.9 46.3h.1M322.5 53.9h.1M321 50.3h.1M322.6 43.1h.1M321 50.3h.1M320.5 49.5h.1M323 45.9h.1M323.1 51.8h.1M323.7 49.4h.1M322.3 50.5h.1M320.4 54.2h.1M321.3 48h.1M321.2 54.8h.1M316.8 49.4h.1M318.3 49.4h.1M324.4 55.6h.1M320.7 52h.1M314.3 48.8h.1M320.6 50h.1M321.2 51.3h.1M318.1 44.7h.1M326.1 53.1h.1M323.5 50.5h.1M322.7 45.3h.1M320.4 46.7h.1M322 53.9h.1M322.8 45.4h.1M322 59h.1M319.3 46.2h.1M321.3 51.3h.1M321.2 40.3h.1M321.5 50.2h.1M318.5 48.4h.1M321.5 52.4h.1M320.9 51.2h.1M321.4 49.1h.1M321.3 59h.1M317.5 53.5h.1M322.8 47.5h.1M322.6 51.8h.1M317.8 38.9h.1M320.6 48.1h.1M318.9 55.4h.1M319.8 48.2h.1M323.1 50.9h.1M322 45.8h.1M325.4 53.5h.1M321 50.8h.1M318.2 50.3h.1M321.1 54.1h.1M315.2 56.9h.1M324.9 53.5h.1M321.4 43.4h.1M321.8 51.9h.1M321.1 51.4h.1M318.8 45.7h.1M320.5 43.9h.1M319 48.7h.1M319.6 49.1h.1M321.5 50h.1M318 47.4h.1M324.5 50.9h.1M318.3 51.5h.1M322.6 49.1h.1M319.2 51.8h.1M317.8 47.9h.1M321.6 44h.1M321 50.2h.1M320.1 53.8h.1M319.2 41.8h.1M321.6 48.2h.1M319.5 46.8h.1M320.7 51.3h.1M323.1 46.7h.1M317.6 50.8h.1M319.3 54.2h.1M319 47.3h.1M318.8 50h.1M317.5 56.7h.1M319.9 53.8h.1M320.9 43.8h.1M320.3 58.6h.1M316.9 47.6h.1M322.1 51.5h.1M322.2 48.6h.1M320.7 48.5h.1M318.2 47.5h.1M318.6 52.8h.1M325 47.2h.1M324.5 45.3h.1M321.6 48h.1M318.4 50.3h.1M323.4 42.3h.1M320.9 53.5h.1M324.3 47.4h.1M319.2 53.2h.1M321.6 55.8h.1M320 51.6h.1M322.2 52.4h.1M319.1 48.5h.1M322.6 47.6h.1M319.6 42.7h.1M318.5 49.5h.1M321.8 48.1h.1M321 40.8h.1M315.7 51.4h.1M320.4 56.4h.1M320.7 51.9h.1M320.9 55h.1M325.2 49.2h.1M319 46.3h.1M320.5 50.6h.1M316.6 48.9h.1M317.2 45.8h.1M319.2 54.5h.1M320.2 51h.1M320 47.7h.1M322 51.1h.1M322.2 49.7h.1M322.8 52.8h.1M320.1 56.7h.1M321.6 47.9h.1M318.9 45.6h.1M321.3 55.9h.1M321.6 59.9h.1M319.3 47.9h.1M313.1 46.7h.1M319 45.6h.1M326.4 50.3h.1M320.3 50.8h.1M319 49.3h.1M320.7 53.7h.1M323.1 47.1h.1M321.3 48h.1M320 45.3h.1M317.6 55.9h.1M319.8 54.7h.1M317.8 55.6h.1M321.3 47h.1M324 55.7h.1M322.9 51.5h.1M319.1 53.2h.1M318.2 52.7h.1M317.3 49.1h.1M321.5 49.7h.1M321.8 44.2h.1M322.3 48.2h.1M321.3 49.5h.1M317.7 45.8h.1M316.1 50.8h.1M323 55.5h.1M318.6 48.4h.1M324.8 46.6h.1M315.6 47h.1M317.9 51.2h.1M318.3 57.4h.1M321.1 51.1h.1M322 50.6h.1M319.2 45.5h.1M321.8 51.7h.1M317.5 52.9h.1M319.3 48.8h.1M317.7 50.3h.1M319.2 47.8h.1M319 53.4h.1M321.2 55.7h.1M328.4 51.9h.1M317.3 52.4h.1M320 50.6h.1M322 47.9h.1M320.6 47.3h.1M323.7 48.8h.1M318.1 50.9h.1M322.2 50.4h.1M318.7 54.5h.1M322.3 53.4h.1M320.8 56.4h.1M321 53.5h.1M319.1 49.5h.1M316.2 50.8h.1M317.9 44h.1M322.1 57.1h.1M319.8 48.1h.1M322.1 48.8h.1M317.4 57.7h.1M321.9 46.2h.1M322.8 48h.1M315.4 50.2h.1M321.2 48.1h.1M324.9 50.8h.1M318.7 51.4h.1M322.7 53h.1M320.5 50h.1M322.4 53.2h.1M319.6 49.1h.1M322.6 56h.1M324.3 35.1h.1M315.6 46.1h.1M320.1 52.4h.1M321.3 39.1h.1M315.1 40h.1M311.6 39.8h.1M321.7 34.1h.1M318.8 54.6h.1M323.1 44.7h.1M320.7 38.7h.1M320.7 41.8h.1M319.7 47.4h.1M321.1 43.8h.1M318.1 39.9h.1M319.2 49.6h.1M323.1 39.9h.1M320 43.3h.1M322.3 47.2h.1M320.7 41h.1M319.8 46.5h.1M317.9 41.5h.1M318.3 43.1h.1M321.9 50.7h.1M316.1 40h.1M321.6 38.1h.1M321.9 45h.1M318.9 43.5h.1M315.9 43.5h.1M320.3 45.6h.1M321.1 51.9h.1M319.2 59h.1M318.7 59.8h.1M323.5 46.2h.1M320.4 58.4h.1M319.5 57.5h.1M323.3 41.4h.1M320.7 42.3h.1M318.7 45h.1M323.4 59.2h.1M319.7 44.6h.1M323.5 43.9h.1M318.8 55.2h.1M321.7 44.3h.1M324.4 44.5h.1M322.1 49.7h.1M322.3 46.7h.1M322.1 28.8h.1M323.3 36.8h.1M321 50.3h.1M322.1 35.5h.1M320.1 53.9h.1M326.5 44.9h.1M318.2 47.2h.1M323.2 47.4h.1M317.9 33h.1M322.4 40.5h.1M324.7 38.1h.1M317.5 47.1h.1M326 56h.1M317.9 43.9h.1M318.3 45.9h.1M321.7 31.9h.1M317.5 42.8h.1M323.7 43.7h.1M322.2 44.1h.1M312.7 49.6h.1M316.5 55.2h.1M318.6 45.3h.1M322 48.2h.1M317.6 34.6h.1M318.6 49.7h.1M322.6 45.7h.1M317.8 33.3h.1M321.6 47.8h.1M316.7 40.9h.1M323.7 52.5h.1M325 48.7h.1M317.4 46.1h.1M313.7 57.4h.1M315.8 44.4h.1M323.6 43.4h.1M319 45.7h.1M323.8 46.3h.1M316.8 39.6h.1M317.9 49.5h.1M320.4 48.5h.1M323.9 41.9h.1M320.1 34.8h.1M317.7 54h.1M321.6 54.8h.1M321 52h.1M322.2 52.6h.1M320.2 58.3h.1M318.9 48.2h.1M320.8 57.3h.1M313.4 45.1h.1M321.5 40.1h.1M324.4 46.3h.1M322.4 44.1h.1M317.9 49.7h.1M316.2 58.9h.1M324.6 49.2h.1M319.2 53.6h.1M321.4 58.9h.1M319 47.1h.1M320.8 41.8h.1M319.2 39h.1M326.4 33.8h.1M321.9 32.6h.1M321.7 54.6h.1M323.5 36.3h.1M323.4 44.7h.1M323.8 45.6h.1M322.4 55.6h.1M319 37h.1M325.5 46.9h.1M320.3 48.6h.1M318.3 56.4h.1M323.4 44.9h.1M322.7 48.4h.1M320.6 44.6h.1M320.9 54.2h.1M322.5 53.1h.1M326.4 43.9h.1M320.5 50.4h.1M317 36.3h.1M319 47.1h.1M322.2 40.4h.1M320.1 43.7h.1M318.8 53.7h.1M322.9 48.1h.1M320.1 45.7h.1M321.6 44.3h.1M318.8 51.9h.1M318.9 45.4h.1M319.7 53.5h.1M316.7 57.4h.1M321.7 51.1h.1M320.5 44h.1M319.2 52h.1M321 41.9h.1M321.1 34.4h.1M318.5 54.7h.1M318.3 56h.1M320.3 32.4h.1M313.1 27.2h.1M319.4 29.8h.1M322.7 37h.1M320.2 17.1h.1M324.5 40.8h.1M319.2 34.9h.1M322.4 33.1h.1M321.7 23.9h.1M321.8 28.4h.1M317.8 27h.1M320.9 36.5h.1M321.8 36.2h.1M320.2 40.1h.1M318 31.9h.1M320 16.3h.1M318.9 24.2h.1M322 28.6h.1M323.5 33.8h.1M321.9 20.1h.1M322 29.8h.1M320.7 31.8h.1M321.6 26.8h.1M316.5 29.9h.1M321.3 48.3h.1M323.3 31.1h.1M319.9 46h.1M322.8 33h.1M317.5 25.9h.1M321.2 35.4h.1M320.7 28.2h.1M322.3 30.7h.1M326.5 33.8h.1M313.5 26.8h.1M317.6 39.6h.1M319.5 32h.1M321.4 28.3h.1M319.6 23.3h.1M319.5 31.3h.1M317.3 28.3h.1M317.8 25.3h.1M319 45h.1M324.8 30h.1M319.2 37.7h.1M327.8 42h.1M323.7 34.1h.1M320.4 35.7h.1M323.1 34.8h.1M323.6 38.2h.1M318.2 35.3h.1M317.2 34.8h.1M324.7 32.1h.1M318.8 27.4h.1M323.2 27.8h.1M322.8 26.3h.1M317.1 32.5h.1M322.7 40.8h.1M322.5 24h.1M324.2 26.5h.1M321 23.7h.1M322.2 30.6h.1M322 38.6h.1M320.6 28.5h.1M325.1 33.3h.1M324.8 29.9h.1M322 34.6h.1M323.9 26.4h.1M318.8 18.9h.1M319.6 34.4h.1M323.5 30.2h.1M320.6 44.4h.1M320.2 26.7h.1M321.5 29.8h.1M317.3 28.2h.1M321.5 31.7h.1M322.3 17.5h.1M320.4 41.1h.1M318.4 35.7h.1M325.4 29.3h.1M322.2 28.3h.1M318.7 34.8h.1M319.7 33.7h.1M317.2 27.9h.1M316.9 29.8h.1M316.5 33.5h.1M319.1 27.8h.1M322.1 28.6h.1M322.9 27.8h.1M320.8 28.3h.1M323.6 21.4h.1M322.5 24h.1M318.4 33.7h.1M319.1 36.8h.1M321.8 30.6h.1M323.7 20h.1M317.8 34h.1M316.4 43.5h.1M326 40h.1M320.5 29.5h.1M323.5 28.4h.1M321.2 27.8h.1M317.8 43.9h.1M324.5 32.8h.1M322.3 24.2h.1M324.7 38.1h.1M322.6 37.2h.1M318.8 16.1h.1M321.1 26.4h.1M323.6 38.5h.1M319.5 37.8h.1M321.6 21.9h.1M324 31h.1M318.2 37.6h.1M320.3 33.6h.1M321.6 23.3h.1M323.5 29.7h.1M321 36h.1M319.5 34.7h.1M322.6 24h.1M319.7 48.4h.1M322.2 32.8h.1M322.1 20h.1M320.7 28.7h.1M324.1 26.1h.1M318.1 30.8h.1M322.5 49h.1M320.8 32.6h.1M320.5 33.9h.1M321.4 36.8h.1M324.1 32.7h.1M320.9 26.8h.1M320.5 41.2h.1M318.2 35h.1M320.8 42.6h.1M321.2 38.8h.1M318.9 24.3h.1M320.5 27.9h.1M322.4 28.3h.1M324.6 28.4h.1M320.6 34.6h.1M326.1 30h.1M323.7 25.4h.1M323.4 42.1h.1M322.7 41.3h.1M321.5 31.6h.1M319.8 23.5h.1M321.2 26.7h.1M321.5 25.8h.1M321.7 24.7h.1M325 24.2h.1M326.2 33.1h.1M322.6 33.5h.1M323.8 34.5h.1M319.7 24.5h.1M316.6 33.5h.1M321.1 46h.1M322 33.1h.1M324.8 28.5h.1M327.2 51.4h.1M322 33.6h.1M324.5 26.7h.1M324.1 37.8h.1M321.9 26.1h.1M323.4 28.7h.1M322.3 38.8h.1M325.1 26.9h.1M318.9 20.5h.1M315.9 36.6h.1M321.7 37.5h.1M323.7 21.2h.1M324 28.8h.1M320.1 39.4h.1M322.7 33.2h.1M319.9 37.5h.1M323.1 30.5h.1M319.7 26.8h.1M318.9 27.3h.1M323.7 29.2h.1M318.4 32.8h.1M323.3 17.4h.1M321.7 31.5h.1M315.9 36.4h.1M324.3 26.6h.1M318.5 31.6h.1M320.4 23.6h.1M321.2 21.4h.1M326.3 32.7h.1M321.4 31h.1M323.6 27.8h.1M321.1 22h.1M322.7 32h.1M318.1 31.1h.1M321.5 29.6h.1M320 30.6h.1M319 28.8h.1M322.2 35.3h.1M323.9 34.4h.1M322.6 44.5h.1M320.7 41.7h.1M323.2 31.1h.1M318.8 22.4h.1M322.2 36h.1M322.7 27h.1M321.2 42.5h.1M320.8 20.5h.1M293.8 55.1h.1M297.3 54.2h.1M294.6 56h.1M295.8 56.1h.1M295.7 54.6h.1M293.7 56.7h.1M296 55.7h.1M293 58.7h.1M294 57.7h.1M298.3 56.2h.1M294.2 58.3h.1M295.2 55.3h.1M292.7 59.3h.1M296.9 56.1h.1M293 56.2h.1M293.3 57.6h.1M293.5 55h.1M292.9 60h.1M292.1 57.7h.1M294 54.2h.1M293.7 54.9h.1M294.4 55.7h.1" stroke="#000" stroke-width=".8" stroke-linecap="square" fill="none"/>
<path d="M289.3 14.6H342.9V60.6H289.3Z M313.4 14.6V60.6 M289.3 42.3H342.9" class="ln"/>
<path d="M289.3 60.6v2.2M289.3 60.6h-2.2M293.3 60.6v1.2M289.3 57.1h-1.2M295.7 60.6v1.2M289.3 55.1h-1.2M297.4 60.6v1.2M289.3 53.7h-1.2M298.7 60.6v1.2M289.3 52.6h-1.2M299.7 60.6v1.2M289.3 51.7h-1.2M300.6 60.6v1.2M289.3 50.9h-1.2M301.4 60.6v1.2M289.3 50.2h-1.2M302.1 60.6v1.2M289.3 49.6h-1.2M302.7 60.6v2.2M289.3 49.1h-2.2M306.7 60.6v1.2M289.3 45.6h-1.2M309.1 60.6v1.2M289.3 43.6h-1.2M310.8 60.6v1.2M289.3 42.2h-1.2M312.1 60.6v1.2M289.3 41.1h-1.2M313.1 60.6v1.2M289.3 40.2h-1.2M314 60.6v1.2M289.3 39.4h-1.2M314.8 60.6v1.2M289.3 38.7h-1.2M315.5 60.6v1.2M289.3 38.1h-1.2M316.1 60.6v2.2M289.3 37.6h-2.2M320.1 60.6v1.2M289.3 34.1h-1.2M322.5 60.6v1.2M289.3 32.1h-1.2M324.2 60.6v1.2M289.3 30.7h-1.2M325.5 60.6v1.2M289.3 29.6h-1.2M326.5 60.6v1.2M289.3 28.7h-1.2M327.4 60.6v1.2M289.3 27.9h-1.2M328.2 60.6v1.2M289.3 27.2h-1.2M328.9 60.6v1.2M289.3 26.6h-1.2M329.5 60.6v2.2M289.3 26.1h-2.2M333.5 60.6v1.2M289.3 22.6h-1.2M335.9 60.6v1.2M289.3 20.6h-1.2M337.6 60.6v1.2M289.3 19.2h-1.2M338.9 60.6v1.2M289.3 18.1h-1.2M339.9 60.6v1.2M289.3 17.2h-1.2M340.8 60.6v1.2M289.3 16.4h-1.2M341.6 60.6v1.2M289.3 15.7h-1.2M342.3 60.6v1.2M289.3 15.1h-1.2M342.9 60.6v2.2M289.3 14.6h-2.2" class="tk"/>
<path d="M289.1 14.6V61" stroke="#000" stroke-width="1.3" fill="none" stroke-opacity=".6"/>
<path d="M288.7 60.9H342.9" stroke="#000" stroke-width="1.2" fill="none" stroke-opacity=".45"/>
<text x="287.1" y="69.2" class="s" font-size="6.1" textLength="5.5" lengthAdjust="spacingAndGlyphs">10</text>
<text x="292.4" y="65.5" class="s" font-size="4.6" textLength="2.3" lengthAdjust="spacingAndGlyphs">0</text>
<g transform="translate(285.9 60.6) rotate(-90)">
<text x="-4.1" y="0" class="s" font-size="6.1" textLength="5.4" lengthAdjust="spacingAndGlyphs">10</text>
<text x="2" y="-3.7" class="s" font-size="4.6" textLength="2.3" lengthAdjust="spacingAndGlyphs">0</text>
</g>
<text x="299.9" y="69.2" class="s" font-size="6.1" textLength="5.5" lengthAdjust="spacingAndGlyphs">10</text>
<text x="305.2" y="65.5" class="s" font-size="4.6" textLength="2.3" lengthAdjust="spacingAndGlyphs">1</text>
<g transform="translate(285.9 49.1) rotate(-90)">
<text x="-4.4" y="0" class="s" font-size="6.1" textLength="5.4" lengthAdjust="spacingAndGlyphs">10</text>
<text x="1.7" y="-3.7" class="s" font-size="4.6" textLength="2.3" lengthAdjust="spacingAndGlyphs">1</text>
</g>
<text x="312.8" y="69.2" class="s" font-size="6.1" textLength="5.5" lengthAdjust="spacingAndGlyphs">10</text>
<text x="318.1" y="65.5" class="s" font-size="4.6" textLength="2.3" lengthAdjust="spacingAndGlyphs">2</text>
<g transform="translate(285.9 37.6) rotate(-90)">
<text x="-4.7" y="0" class="s" font-size="6.1" textLength="5.4" lengthAdjust="spacingAndGlyphs">10</text>
<text x="1.4" y="-3.7" class="s" font-size="4.6" textLength="2.3" lengthAdjust="spacingAndGlyphs">2</text>
</g>
<text x="325.6" y="69.2" class="s" font-size="6.1" textLength="5.5" lengthAdjust="spacingAndGlyphs">10</text>
<text x="330.9" y="65.5" class="s" font-size="4.6" textLength="2.3" lengthAdjust="spacingAndGlyphs">3</text>
<g transform="translate(285.9 26.1) rotate(-90)">
<text x="-5" y="0" class="s" font-size="6.1" textLength="5.4" lengthAdjust="spacingAndGlyphs">10</text>
<text x="1.1" y="-3.7" class="s" font-size="4.6" textLength="2.3" lengthAdjust="spacingAndGlyphs">3</text>
</g>
<text x="338.5" y="69.2" class="s" font-size="6.1" textLength="5.5" lengthAdjust="spacingAndGlyphs">10</text>
<text x="343.8" y="65.5" class="s" font-size="4.6" textLength="2.3" lengthAdjust="spacingAndGlyphs">4</text>
<g transform="translate(285.9 14.6) rotate(-90)">
<text x="-5.3" y="0" class="s" font-size="6.1" textLength="5.4" lengthAdjust="spacingAndGlyphs">10</text>
<text x=".8" y="-3.7" class="s" font-size="4.6" textLength="2.3" lengthAdjust="spacingAndGlyphs">4</text>
</g>
<text x="316.1" y="76.5" class="r" font-size="6.2" text-anchor="middle" textLength="23" lengthAdjust="spacingAndGlyphs">CD19 PE</text>
<text x="274.8" y="38.6" class="r" font-size="6.2" text-anchor="middle" textLength="40.5" lengthAdjust="spacingAndGlyphs" transform="rotate(-90 274.8 38.6)">CD138 PECY5</text>
<text x="314.3" y="8.5" class="t" font-size="6.6" text-anchor="middle">D1</text>
<text x="329.6" y="21.6" class="rb" font-size="5.4" textLength="10.2" lengthAdjust="spacingAndGlyphs">20%</text>
<text x="329.4" y="27.3" class="rb" font-size="5.4" textLength="10.6" lengthAdjust="spacingAndGlyphs">r=23</text>
<path d="M378.5 47.2h.1M380.4 49h.1M386.9 46.7h.1M382.1 55.6h.1M381.1 54.8h.1M396.7 45.4h.1M381 48.8h.1M396 54h.1M391.8 42.7h.1M382.7 45.4h.1M375.8 43.8h.1M379.8 50.1h.1M388.6 52.2h.1M396.3 57.1h.1M387.7 57.7h.1M392.7 58.2h.1M386.3 43.4h.1M391.6 51.4h.1M376.8 49.5h.1M389.3 55.3h.1M382.7 58.6h.1M394.4 56.5h.1M375.8 53.6h.1M378.7 53.5h.1M395.4 49.4h.1M379.5 44.6h.1M390.1 58.6h.1M397 43.9h.1M389.5 49h.1M385.8 59h.1M385.1 44.4h.1M394.8 51.8h.1M376 58.2h.1M396.2 47.5h.1M390.2 46.2h.1M395.1 42.2h.1M391.3 42.5h.1M385.7 57.8h.1M391.8 49.7h.1M393.6 46.4h.1M375.6 43.8h.1M383.3 54.6h.1M394.1 55.4h.1M392.5 58.4h.1M389.9 46.2h.1M395.7 48.7h.1M378.1 42.2h.1M397.9 43.5h.1M393 45.9h.1M395.9 42.1h.1M397.1 58.9h.1M377.4 50.2h.1M386.1 55.9h.1M380.3 50h.1M390 42.4h.1M389.3 50.2h.1M380 51.8h.1M398 53.9h.1M377.6 53.7h.1M389.6 53.2h.1M382.3 45h.1M392.7 47.5h.1M382.3 49.2h.1M383.5 51.7h.1M387.9 58.6h.1M385.5 44.5h.1M385.2 54.5h.1M386.8 49.1h.1M380.1 55.4h.1M396.3 46.1h.1M381.2 53.9h.1M400.1 40.1h.1M385.5 49.8h.1M390.9 43.6h.1M378.1 53.4h.1M390.4 47.2h.1M390.1 45.6h.1M383.3 48.5h.1M390.1 49.6h.1M384.8 49.3h.1M388.4 45.9h.1M383 50.1h.1M383.3 49.1h.1M378.7 50.2h.1M388.7 48.1h.1M384.8 48.1h.1M381.8 46.6h.1M395.9 45.2h.1M386.2 46.9h.1M385.2 43.9h.1M381.7 50.5h.1M391.6 42.2h.1M387 48h.1M381.1 47.2h.1M384.6 47.6h.1M389.5 40.5h.1M386.7 43.1h.1M393 43.9h.1M392.2 42.3h.1M399.2 44.7h.1M382.2 48h.1M385.8 48.6h.1M384.6 44.7h.1M384.6 53.7h.1M386.5 47.8h.1M384 44.2h.1M391.4 45.3h.1M378.7 50.9h.1M386.4 54.7h.1M389.8 49.1h.1M392.1 41.6h.1M386 50.3h.1M388 48.3h.1M386.4 46.6h.1M389.1 45h.1M385.1 47.7h.1M390.4 42.1h.1M394.2 43.8h.1M398.5 38.5h.1M384.1 48.8h.1M391.4 33.6h.1M390.2 28.7h.1M398.6 26.6h.1M393.4 26.9h.1M394.6 31.1h.1M401 20.8h.1M392.4 31.6h.1M390.3 38h.1M387.1 38.1h.1M388 36.5h.1M394.5 31.2h.1M388.1 39.4h.1M386 39.8h.1M392.6 30.9h.1M392.3 31.4h.1M397.8 26.8h.1M387.9 40.2h.1M395.7 30.8h.1M385.2 42.5h.1M396.5 25.3h.1M393.4 33.7h.1M389.5 43.8h.1M396.4 32h.1M393 29.6h.1M394.4 32.5h.1M392.6 32.5h.1M396.1 27.9h.1M394.6 29.6h.1M389.5 34.9h.1M389.7 32.7h.1M389.9 37.7h.1M395 27.1h.1M394.5 29h.1M393.4 30.8h.1M391.8 34.2h.1M390.7 34.3h.1M393.6 31.2h.1M395.1 28.4h.1M395 30.4h.1M397.7 27.1h.1M398 29.6h.1M391.4 36h.1M400.5 20.9h.1M397.3 28.1h.1M393.5 34.1h.1M393.7 30h.1M394.3 29.2h.1M390.9 29.3h.1M390.4 39.7h.1M392.7 33.2h.1M384.1 38.8h.1M389.7 37.8h.1M377.4 36.5h.1M377 16.7h.1M392.6 37.2h.1M377.1 26.7h.1M397.7 41.4h.1M380.6 26h.1M387.4 32.1h.1M384.2 40.7h.1M389.1 33.6h.1M378 30.3h.1M393 24.3h.1M381.6 32.8h.1M381.1 27.7h.1M396.6 25.8h.1M382.6 28.5h.1M377.2 28.6h.1M380.7 23.5h.1M394.7 23h.1" stroke="#000" stroke-width=".7" stroke-linecap="square" fill="none" stroke-opacity=".4"/>
<path d="M405.8 39.8h.1M405.4 41.3h.1M404.9 33.1h.1M402.7 23.6h.1M402.8 29.2h.1M408.1 25.6h.1M406.9 29.1h.1M406.2 29.1h.1M403.2 31.2h.1M404.3 18.8h.1M402 30.1h.1M400.9 21.2h.1M404 23.7h.1M403.7 31.4h.1M402.1 22.7h.1M402.2 27.9h.1M406 28.1h.1M404 26.5h.1M401.3 17.3h.1M410 29.2h.1M401 27.1h.1M405.6 41.5h.1M402.7 18.6h.1M406.8 33.3h.1M405.3 22.9h.1M407.6 23.8h.1M405 37.9h.1M403.3 25h.1M408.6 31.5h.1M405 26.8h.1M404.6 19.6h.1M404.8 24.4h.1M403.4 22.9h.1M406 24.4h.1M409.2 39h.1M408.7 29.2h.1M406.7 39.1h.1M406.9 28.6h.1M403.6 32.2h.1M408.7 36.9h.1M405.7 20.2h.1M400.8 28.3h.1M406.6 25h.1M402.9 23.5h.1M405.8 23.9h.1M406.7 26.7h.1M404.4 34.2h.1M405.8 31.4h.1M408.4 28h.1M401.8 34.4h.1M404.8 26.3h.1M404.5 28.5h.1M410.1 28.2h.1M407.5 36h.1M406.4 27.2h.1M404.9 35.7h.1M400.5 24.8h.1M401.9 30.9h.1M404.3 26.8h.1M405.5 24.3h.1M404.1 29.7h.1M405.4 30.1h.1M406.8 19.8h.1M403.4 32.7h.1M404.1 24.3h.1M402.8 26.8h.1M400.2 25.9h.1M406.9 32.1h.1M400.2 20.6h.1M403.9 23h.1M407.7 24.9h.1M402.9 16.8h.1M403.7 26.3h.1M405 17.5h.1M408.2 24.6h.1M406.5 32.1h.1M403.4 35.1h.1M401.7 36.1h.1M401.4 24.5h.1M405.8 19.4h.1M399.8 29.5h.1M403.6 37h.1M406.5 19.9h.1M402.1 35.6h.1M404.3 25.1h.1M406.8 26.6h.1M401.8 39.2h.1M405.2 31.1h.1M404.9 33.5h.1M405.3 28.9h.1M403 18.6h.1M404.7 23.4h.1M403 19h.1M409.7 20.4h.1M405.2 31.5h.1M410.2 36.3h.1M404.4 18.6h.1M408.6 25.4h.1M404.2 24.6h.1M407.8 46.7h.1M404.1 31h.1M403.4 28.6h.1M407.5 28.1h.1M406.1 17.8h.1M408.1 29.6h.1M404.4 28.1h.1M403.9 26.3h.1M402.3 29.1h.1M404.3 21.9h.1M403.6 27.3h.1M402.8 31.2h.1M403.3 24.7h.1M404.3 43.8h.1M407.4 26.8h.1M403.7 36.8h.1M407.5 20.9h.1M408.3 18.1h.1M404.3 25.7h.1M404.4 35.1h.1M400.7 39.7h.1M401.3 23.3h.1M404.9 27.6h.1M408.4 27.6h.1M409.5 21.4h.1M407 22.5h.1M403.9 25h.1M406.3 25.6h.1M401.5 33.5h.1M402.2 29.4h.1M405.1 28.6h.1M408.5 35.7h.1M410.3 23.3h.1M405.6 23.4h.1M406 26.7h.1M401.1 22h.1M403.5 21.8h.1M408.7 21.3h.1M407.8 21.3h.1M407.1 18.8h.1M406.1 21.7h.1M409 20.5h.1M404.5 20.8h.1M404.6 16.5h.1M411.8 32.6h.1M403 28.1h.1M406.1 25.6h.1M404.2 18.3h.1M408.7 30.4h.1M404.4 24.2h.1M404.2 25.2h.1M404.3 26.5h.1M407 25.1h.1M402.7 32.8h.1M401.5 20.3h.1M404.8 21.3h.1M404.2 27h.1M406.4 24.5h.1M404.2 29.8h.1M403.6 32.4h.1M405.8 35.6h.1M406.1 32.6h.1M407.5 24h.1M405.2 24.8h.1M400.7 23.3h.1M405 34h.1M405.1 24.3h.1M404.8 20h.1M406.4 18.7h.1M404.4 31.2h.1M407.7 19.8h.1M408.4 30.9h.1M402.4 28.3h.1M399.4 31.3h.1M402.8 32.9h.1M411.9 29.6h.1M404.5 28.7h.1M404.8 26.4h.1M405.7 20.5h.1M405.4 28.6h.1M410.1 31.6h.1M408 26.3h.1M405.8 20.7h.1M406.8 30.5h.1M406.6 25.8h.1M402.5 26.1h.1M407.8 23.5h.1M403.6 17.8h.1M407 19h.1M405.5 28.7h.1M407.3 37.4h.1M408.6 38.4h.1M406.5 24.8h.1M404 29.2h.1M404.4 25.5h.1M406.5 27.1h.1M404.1 29h.1M404.2 32.4h.1M404.9 18.1h.1M404.3 38.5h.1M406.4 25.2h.1M404.1 19.2h.1M405.4 42.3h.1M403.4 19.9h.1M401 25.8h.1M407.1 21h.1M407.5 34.4h.1M407.1 28.5h.1M405.9 15h.1M402.4 37h.1M408 40.8h.1M400.4 32.1h.1M405 20.6h.1M406.9 34.3h.1M402.5 41.5h.1M409 27.9h.1M403.7 23.5h.1M408.2 36.4h.1M404.7 16.8h.1M406.8 24.1h.1M405 25.7h.1M410.9 27h.1M406.2 33.8h.1M407.7 25.1h.1M406.9 18.4h.1M405.7 16.3h.1M404.6 25.1h.1M406.2 29.3h.1M407.6 32.8h.1M407.4 30.4h.1M406.5 16.4h.1M404.9 30.1h.1M407 21.4h.1M402.9 35.2h.1M405.2 24h.1M400.4 24.1h.1M403.6 22.2h.1M404.9 33h.1M401.9 25.3h.1M402.5 45.4h.1M407.5 34.3h.1M406.5 17.9h.1M407.9 25.9h.1M408.1 33.4h.1M406.9 31.7h.1M407.2 30.4h.1M406 27.9h.1M408.4 15.3h.1M401.7 15.6h.1M404.9 31.8h.1M407.8 21.7h.1M407.4 26.3h.1M405.5 30.6h.1M404.9 29.9h.1M402.7 22h.1M408.1 23.7h.1M404.4 34.1h.1M405.8 24.2h.1M401.5 25.7h.1M399.2 28.1h.1M409.3 38.3h.1M399.9 29h.1M404.1 22.3h.1M406.7 34.1h.1M405.8 19.6h.1M405.5 21.3h.1M405.3 17.4h.1M403 24.5h.1M408 20.8h.1M407.7 27.9h.1M406.2 21.4h.1M399.8 27.9h.1M409.4 29.1h.1M405.2 28.8h.1M406.6 28.7h.1M410 26.6h.1M408.5 20.3h.1M407.9 28.5h.1M406.8 16.2h.1M404 28.4h.1M405.7 25.7h.1M401.1 25.7h.1M401.6 26.1h.1M405.8 30h.1M408.8 19.2h.1M403 28.2h.1M408.2 33.6h.1M405.7 31.5h.1M409.7 33.7h.1M404.5 24.1h.1M412.5 25.4h.1M406.5 39.1h.1M404.8 29.5h.1M406 27.8h.1M401 33h.1M406.2 19.9h.1M404.6 25.1h.1M406.6 29.1h.1M404.6 25.6h.1M398.8 36.6h.1M399.1 29.1h.1M403.8 32.2h.1M402.3 20.2h.1M407.5 25.9h.1M402.7 25.8h.1M406.4 29.6h.1M404.9 29.4h.1M409.1 26h.1M405.5 30.1h.1M405.8 40.7h.1M402.9 26.2h.1M406.2 21.5h.1M406.9 34.5h.1M405 36.4h.1M407 27.3h.1M402.8 32.8h.1M406.3 29.4h.1M404.6 24.8h.1M408.3 41.5h.1M406.9 27.7h.1M403.8 38.9h.1M403.1 24.8h.1M405.3 24.2h.1M403.6 22.4h.1M404.4 17.9h.1M402.6 22.1h.1M407.2 33.8h.1M405.7 15.4h.1M406 26.8h.1M407.3 33.9h.1M399.8 27.9h.1M405.4 29.7h.1M404.7 28.5h.1M407 29.8h.1M406.6 36.6h.1M408.4 28.6h.1M400.8 22.3h.1M402.8 24.1h.1M408.2 25.2h.1M408.8 30.9h.1M403.4 18h.1M408 17.4h.1M407.4 17.1h.1M402 32.4h.1M403.9 19.8h.1M406.1 27.1h.1M405.1 18.2h.1M409.7 25.7h.1M406.8 22.7h.1M407.5 21.1h.1M403.7 34h.1M402.4 26.9h.1M403.9 19.6h.1M408.7 42.9h.1M409.8 19.7h.1M403.4 18.1h.1M399.3 37.5h.1M408.4 27.7h.1M402.3 28.6h.1M407.5 33.9h.1M408.4 27.1h.1M402.1 31.3h.1M403.2 38h.1M407 28.1h.1M408.6 31.9h.1M404 27.8h.1M402.8 27.3h.1M406.1 36.3h.1M408.4 30.4h.1M402.6 28.3h.1M408.1 20.1h.1M405.8 21.6h.1M403.3 26.2h.1M405.3 29h.1M406.5 27.5h.1M407.8 25.2h.1M406 28.8h.1M405.3 28.8h.1M401.3 32.6h.1M406.5 33.5h.1M405.8 40h.1M405.3 34.3h.1M405.6 23.4h.1M407.6 20.1h.1M404.4 25.9h.1M402.4 35.7h.1M407.5 28.3h.1M406.3 27.7h.1M404.7 42.9h.1M405.1 15.2h.1M402.6 21.8h.1M408.4 26.4h.1M402.1 28.4h.1M408.5 32.3h.1M402.2 15h.1M403.6 26.9h.1M404.3 21.5h.1M407.4 31.9h.1M405.8 28.8h.1M404.2 33.8h.1M402.3 17.5h.1M407.7 18.3h.1M405.4 21h.1M406.3 22.7h.1M404.8 21h.1M404.1 17.2h.1M406.9 21.9h.1M408 32.8h.1M405.8 22.5h.1M401.9 17h.1M407.1 27.1h.1M405.4 14.6h.1M404.7 28.4h.1M397.8 23.4h.1M403.2 37.9h.1M405.7 29.6h.1M403.8 20.4h.1M405.9 32.1h.1M406.7 26.7h.1M405.2 30.5h.1M406.3 22.7h.1M406.2 22.7h.1M404.7 34.8h.1M400.7 18.3h.1M402.3 28.3h.1M407.2 24.6h.1M404.7 16.1h.1M401 21.9h.1M404.8 29.6h.1M405.4 24.4h.1M406.8 24.6h.1M406.3 25.3h.1M406.2 26.4h.1M403.4 28h.1M401.2 25.2h.1M403.8 15.5h.1M408.6 24.3h.1M401.6 26.4h.1M407.4 37.2h.1M401.6 18.7h.1M402.1 36.7h.1M405.5 22h.1M403.3 36.9h.1M402.5 23.7h.1M407.3 15.5h.1M401.7 22.6h.1M406.5 29h.1M406.1 20.2h.1M407.1 27.3h.1M399.7 19.9h.1M407.4 36.9h.1M402.4 21.6h.1M404.6 39.3h.1M404.1 38.2h.1M402.8 19.3h.1M403.1 29.3h.1M403.5 22.4h.1M405.6 35.9h.1M407 27.9h.1M404.5 38.4h.1M407.1 24.4h.1M405.6 23.6h.1M408 20.2h.1M402 26.6h.1M405.5 28.5h.1M405.1 26.1h.1M405.5 27.7h.1M406 30.9h.1M407.1 25.1h.1M405.5 21.2h.1M406.4 18.6h.1M404.5 21.7h.1M404.8 23.3h.1M403.7 32.8h.1M407.8 32.1h.1M407.1 20.6h.1M408.3 29.9h.1M404.1 19.4h.1M404.8 31.5h.1M407.8 32.6h.1M401.7 24.5h.1M407 27.4h.1M406 25h.1M404.4 18.4h.1M404.5 26.6h.1M403.2 25.8h.1M403.9 31h.1M403.3 30.1h.1M402.4 34.4h.1M404.3 29.7h.1M403.1 17.8h.1M406.9 31.2h.1M407.7 17.4h.1M404.8 20.8h.1M404.4 26.3h.1M406.7 20h.1M404.9 23.1h.1M410 32.9h.1M398.9 21.6h.1M399.6 19.5h.1M402.5 16.8h.1M406.3 45.6h.1M407.1 22.7h.1M404.1 26.1h.1M405.2 26.2h.1M404.5 33.6h.1M406.4 21.9h.1M402.9 52.7h.1M404.4 38.8h.1M403.3 41.5h.1M401.4 50.9h.1M400.1 49.2h.1M404.3 44.4h.1M409.6 48.3h.1M404 49.5h.1M404.5 50.9h.1M400.7 49h.1M407.8 40.2h.1M403.2 58.7h.1M402.3 52h.1M406.6 40.8h.1M405.9 45.6h.1M402.3 47.7h.1M406.3 50.3h.1M410 54.3h.1M407.9 48.1h.1M405.9 46.5h.1M403.9 43.9h.1M405.3 48.6h.1M406.9 50h.1M404.9 52.3h.1M406.9 36.9h.1M408.4 44.3h.1M401.3 52.3h.1M406 59.4h.1M407 54.9h.1M404.8 36.2h.1M403.7 38.2h.1M409.9 52.8h.1M405.3 49.8h.1M405.3 49.9h.1M404.7 43.3h.1M404.7 56.6h.1M405.3 50.2h.1M401.2 46.1h.1M400.9 37.3h.1M403.7 42.6h.1M404.6 58.5h.1M403.9 50.1h.1M407.6 54.3h.1M405.4 52.9h.1M407.6 48.6h.1M406.2 54.5h.1M399.1 51.4h.1M406.9 48.4h.1M409.7 47.6h.1M406 45.3h.1M405.4 51.2h.1M402.2 48.4h.1M406.2 56h.1M402.5 47.7h.1M400.5 44.2h.1M406.2 38.6h.1M407.9 54h.1M405 49.3h.1M403.6 36.5h.1M410.1 55h.1M406.6 45.6h.1M404.5 53.6h.1M404.7 51.7h.1M405.9 53.7h.1M408.7 50.2h.1M404 47.9h.1M403 55.8h.1M406.4 47.8h.1M405.2 56.4h.1M401.3 46h.1M405.1 50.4h.1M404.6 45.1h.1M404.3 55h.1M405.9 45.6h.1M406.2 44.7h.1M410.3 55.1h.1M407.3 51.5h.1M407.9 49h.1M404.2 43.7h.1M405.5 49.2h.1M403.6 51.8h.1M403.5 53.4h.1M407.9 45.3h.1M411.8 52.4h.1M407.5 38.4h.1M406.7 49.8h.1M407 44.1h.1M407.8 53.7h.1M405.3 47h.1M407.3 50.4h.1M410.1 51.4h.1M405.7 36.2h.1M400.7 41.3h.1M407.8 55.4h.1M406.1 45.5h.1M403.2 56h.1M403.1 45.2h.1M396.4 53h.1M403.3 44.7h.1M404.9 52h.1M407 53.3h.1M405.4 54.7h.1M402.7 45.1h.1M404.3 41.8h.1M405.6 52.7h.1M407.2 50.7h.1M406.3 53.3h.1M408 42.3h.1M400 53.8h.1M406.1 48.4h.1M406.4 43.1h.1M402.8 46.7h.1M406.1 54.8h.1M404 50.4h.1M402 50.3h.1M401.8 49.9h.1M407.1 47.1h.1M407.2 56.6h.1M408.7 49.6h.1M407.7 41h.1M406.9 41h.1M402.5 46.2h.1M405 47.2h.1M404.8 53.8h.1M411.3 34.1h.1M403.1 54h.1M401.9 56.4h.1M402.7 46.7h.1M408.5 56.8h.1M403.7 45.5h.1M407.7 48.5h.1M404.1 46.6h.1M408.5 58.9h.1M401.1 56.3h.1M404.3 56h.1M407.3 42.8h.1M404.9 50.1h.1M403 42.8h.1M409.7 50.4h.1M401.5 52.8h.1M403.1 57.6h.1M408.8 48.7h.1M410.5 50.9h.1M405.6 48.7h.1M402 43.2h.1M401.9 59.4h.1M403.1 51.8h.1M405.3 58.1h.1M409.4 54.5h.1M408.2 42h.1M408.3 45.8h.1M404.2 53.6h.1M407.7 54.6h.1M407.9 53.6h.1M408 49.6h.1M405.5 54.7h.1M404.4 43.7h.1M408.8 48.1h.1M410.1 42.6h.1M405 55.4h.1M406.6 51.8h.1M408.7 53.7h.1M410 48h.1M410.7 34.4h.1M405.7 44.8h.1M409.3 50.4h.1M402.2 49.8h.1M399.3 55h.1M404.4 56.2h.1M406.6 46.2h.1M401.3 54.2h.1M405.2 39.2h.1M406.1 53.5h.1M405.5 36.9h.1M406.4 52.5h.1M408.8 35.9h.1M404.9 52.5h.1M404.3 59h.1M407.2 48.5h.1M408.7 53.7h.1M404.4 56.2h.1M409.5 33.3h.1M407.7 37.9h.1M404.5 49.6h.1M405.5 42.9h.1M403.4 47.1h.1M411.3 53.4h.1M398.2 45.5h.1M402.1 52.9h.1M404.1 51.7h.1M407.1 48.6h.1M403.6 38h.1M406.8 59.2h.1M404.4 47.1h.1M406.3 57.6h.1M408.2 48.8h.1M408.4 46.2h.1M401.2 45.6h.1M403.5 51.2h.1M406.9 51.8h.1M403.4 59.3h.1M407.3 49.4h.1M405.9 42.3h.1M406.9 50.3h.1M408.2 53.2h.1M404.5 39.3h.1M408.5 49.7h.1M406.1 57.6h.1M406.4 46.9h.1M408.6 39.9h.1M401 54.3h.1M402.4 48.5h.1M408.1 50.7h.1M406 56.9h.1M404 53h.1M402.7 45.5h.1M400.8 47.7h.1M406.5 49.3h.1M405.6 49.8h.1M406.7 56.9h.1M408.2 43.5h.1M406.4 52.2h.1M409.5 48.9h.1M404.5 37.1h.1M409.9 54.3h.1M406.8 50.7h.1M404.1 41.9h.1M406.1 38.9h.1M411.8 55.6h.1M403.9 50.3h.1M404.4 48.4h.1M406.1 54.2h.1M405.8 45.8h.1M410.9 46.6h.1M405 55.6h.1M407.5 42.8h.1M404.2 56.8h.1M402.5 51.6h.1M405.2 57.8h.1M404.9 38.4h.1M407.5 57.7h.1M409.3 49.2h.1M404.3 53.7h.1M408.7 44.8h.1M402.7 43.5h.1M410.5 56.9h.1M401.4 52.7h.1M404.1 53.2h.1M406.3 54h.1M404.5 53.5h.1M402.4 40.1h.1M407.6 47.9h.1M402.7 47.7h.1M401.4 58h.1M408.5 44.4h.1M407.9 40.7h.1M407 54.2h.1M408.5 53.4h.1M405 58.3h.1M405.4 42.7h.1M402.6 51.1h.1M404.8 57.8h.1M404.9 51.6h.1M404.9 47.3h.1M404.8 45h.1M398.6 58.3h.1M405.5 30.1h.1M406.3 56.6h.1M409 54.1h.1M407.7 45.6h.1M403.8 54.6h.1M404.7 49.1h.1M402.9 41.9h.1M404.5 48.1h.1M403.8 53.4h.1M408.6 50.1h.1M406.6 45.1h.1M407.2 54h.1M404.4 54.4h.1M405 57.3h.1M406.9 51.1h.1M403.2 59h.1M407 45.3h.1M408 47h.1M403.9 40.9h.1M405.5 49.3h.1M403.1 50h.1M410.2 49.5h.1M406.8 41.7h.1M408.6 55.9h.1M404.9 39.1h.1M403.1 43.8h.1M405.3 31.3h.1M409.4 56h.1M410.1 54.5h.1M407.8 48.3h.1M405.5 51.6h.1M406.7 41.9h.1M408.6 42.8h.1M402.7 43.5h.1M408.1 51.5h.1M403.3 47.1h.1M406.3 50.6h.1M407.7 42.9h.1M406.4 41.1h.1M405.9 52.1h.1M409.3 51.3h.1M404.5 52.2h.1M404.7 45.6h.1M403 51.2h.1M406.2 39.9h.1M407.8 42.7h.1M405.3 51.5h.1M400.3 43.6h.1M406.9 41.9h.1M407.4 43.7h.1M405 46.9h.1M405.7 51.4h.1M403.5 48.5h.1M405.9 48.9h.1M402.4 56.1h.1M397.9 55.5h.1M403 52.3h.1M409.6 49.7h.1M409 40.3h.1M404.7 53.2h.1M409.7 53.1h.1M409.1 54.3h.1M410.8 55.5h.1M406.9 46.9h.1M405.9 49h.1M403.5 52.8h.1M406 56.8h.1M402.8 43.5h.1M408.6 41h.1M405 49.1h.1M410.1 49.1h.1M404.6 52.7h.1M403.4 46.3h.1M403.3 53.3h.1M409.3 50h.1M400.4 24.3h.1M411.3 25.2h.1M412.2 37.5h.1M407.8 26.1h.1M404.7 37.3h.1M403.4 30.6h.1M401.2 43.8h.1M401.5 15.3h.1M403.2 19.4h.1M404.1 34.3h.1M407.8 52.2h.1M410.5 33.3h.1M405.4 29.2h.1M408.8 38.4h.1M405 15.4h.1M407.2 43.8h.1M403.9 45.3h.1M406.9 42.6h.1M404.4 36.7h.1M403.1 40.8h.1M411.2 20.9h.1M406.9 29.9h.1M404.5 47.5h.1M406.6 37.5h.1M403.4 35.4h.1M404.4 20.4h.1M404.8 36.6h.1M400.3 40h.1M405.4 42.5h.1M407.4 33.4h.1M405.5 20.1h.1M409.5 46.8h.1M403.2 18.7h.1M409.7 18.7h.1M409.2 44.5h.1M406.7 30.1h.1M411.1 25.6h.1M403.3 35.9h.1M405.5 27.6h.1M403.4 31.2h.1M404.9 51.5h.1M407.3 28.3h.1M408.1 19h.1M403.7 32.8h.1M405.6 48.3h.1M405.6 32.7h.1M403.8 29.2h.1M405.9 17.3h.1M398.8 33.9h.1M402.1 46.8h.1M404.3 32.2h.1M404.7 22.7h.1M408.1 52.9h.1M404.1 46.6h.1M411.6 43.1h.1M401.1 32.7h.1M412.1 24.4h.1M402.8 50.4h.1M402.1 36.4h.1M403.5 30.6h.1M403.9 33.2h.1M405 40.5h.1M404.4 46.5h.1M407.4 35.2h.1M408.5 30.5h.1M402.4 20.8h.1M410 31.9h.1M406.8 32.7h.1M405.9 39.6h.1M408.7 35.2h.1M405.6 28.5h.1M410.7 33.9h.1M401.9 43.5h.1M410 34.1h.1M404.4 33.1h.1M408.4 32.2h.1M404.4 31.1h.1M411.5 39.8h.1M407.2 43.4h.1M408.4 31.7h.1M402.4 33h.1M401 40.4h.1M406.7 45.2h.1M411 53.1h.1M406.5 18.3h.1M401.1 46.4h.1M411.6 29.2h.1M404.3 43.5h.1M408.5 47.3h.1M403.2 59.2h.1M403.6 29h.1M406.9 48.6h.1M402.6 36.2h.1M404.6 26.3h.1M400.5 21h.1M409.5 16.8h.1M405.2 35.2h.1M405.3 21.3h.1M399.6 20.6h.1M405.5 25.2h.1M407.9 28.6h.1M408.6 42h.1M407.8 29.6h.1M405.5 23.4h.1M406.3 42.7h.1M407.9 39h.1M405 43.2h.1M405 26.7h.1M407 50.8h.1M404.9 42.4h.1M406.2 30.6h.1M402.7 46.1h.1M410.7 56.2h.1M407.9 32.4h.1M402.7 35h.1M402.6 29h.1M404.1 31.9h.1M403.7 45.7h.1M402.5 38h.1M406.4 21.9h.1M402.6 26.3h.1M410.7 50.4h.1M404.5 36.2h.1M406.7 44.3h.1M401.3 43h.1M402 45.9h.1M402.3 45.9h.1M408.7 57.8h.1M408 26.9h.1M404.9 18.8h.1M402.8 42.1h.1M408.7 14.9h.1M402.7 38.7h.1M407.7 31.8h.1M405.3 36.7h.1M405.1 19h.1M408.4 15.6h.1M408.4 35h.1M407.4 34.8h.1M400.3 40.4h.1M406 51h.1M402.3 28.5h.1M400.6 44.3h.1M404.9 47h.1M408.2 33.9h.1M401.4 22.5h.1M406.7 46.5h.1M404.7 46.9h.1M405.5 42.5h.1M406.9 26.1h.1M403.7 22h.1M406.1 50.9h.1M410.6 50.7h.1M407.6 22.3h.1M407.9 38.7h.1M402.6 52.2h.1M403.9 52.6h.1M401.3 23.5h.1M408.6 33.1h.1M408.9 34.6h.1M407 21.2h.1M408.2 58h.1M404.4 40.8h.1M409.6 48.8h.1M404.4 41.4h.1M409 45.2h.1M401.9 36.3h.1M402.8 39.5h.1M411.2 39.3h.1M408.9 18.6h.1M410.8 32.6h.1M411.2 25h.1M404.7 53.7h.1M412.3 27.2h.1M410.2 34h.1M409.1 33.4h.1M406.8 33h.1M404.6 57.7h.1M403.3 54.6h.1M401.1 40.7h.1" stroke="#000" stroke-width=".8" stroke-linecap="square" fill="none"/>
<path d="M374.3 13.8H427.9V60.1H374.3Z M398.4 13.8V60.1 M374.3 41.9H427.9" class="ln"/>
<path d="M374.3 60.1v2.2M374.3 60.1h-2.2M378.3 60.1v1.2M374.3 56.6h-1.2M380.7 60.1v1.2M374.3 54.6h-1.2M382.4 60.1v1.2M374.3 53.1h-1.2M383.7 60.1v1.2M374.3 52h-1.2M384.7 60.1v1.2M374.3 51.1h-1.2M385.6 60.1v1.2M374.3 50.3h-1.2M386.4 60.1v1.2M374.3 49.6h-1.2M387.1 60.1v1.2M374.3 49.1h-1.2M387.7 60.1v2.2M374.3 48.5h-2.2M391.7 60.1v1.2M374.3 45h-1.2M394.1 60.1v1.2M374.3 43h-1.2M395.8 60.1v1.2M374.3 41.6h-1.2M397.1 60.1v1.2M374.3 40.4h-1.2M398.1 60.1v1.2M374.3 39.5h-1.2M399 60.1v1.2M374.3 38.7h-1.2M399.8 60.1v1.2M374.3 38.1h-1.2M400.5 60.1v1.2M374.3 37.5h-1.2M401.1 60.1v2.2M374.3 37h-2.2M405.1 60.1v1.2M374.3 33.5h-1.2M407.5 60.1v1.2M374.3 31.4h-1.2M409.2 60.1v1.2M374.3 30h-1.2M410.5 60.1v1.2M374.3 28.9h-1.2M411.5 60.1v1.2M374.3 27.9h-1.2M412.4 60.1v1.2M374.3 27.2h-1.2M413.2 60.1v1.2M374.3 26.5h-1.2M413.9 60.1v1.2M374.3 25.9h-1.2M414.5 60.1v2.2M374.3 25.4h-2.2M418.5 60.1v1.2M374.3 21.9h-1.2M420.9 60.1v1.2M374.3 19.9h-1.2M422.6 60.1v1.2M374.3 18.4h-1.2M423.9 60.1v1.2M374.3 17.3h-1.2M424.9 60.1v1.2M374.3 16.4h-1.2M425.8 60.1v1.2M374.3 15.6h-1.2M426.6 60.1v1.2M374.3 14.9h-1.2M427.3 60.1v1.2M374.3 14.3h-1.2M427.9 60.1v2.2M374.3 13.8h-2.2" class="tk"/>
<path d="M374.1 13.8V60.5" stroke="#000" stroke-width="1.3" fill="none" stroke-opacity=".6"/>
<path d="M373.7 60.4H427.9" stroke="#000" stroke-width="1.2" fill="none" stroke-opacity=".45"/>
<text x="372.1" y="68.8" class="s" font-size="6.1" textLength="5.5" lengthAdjust="spacingAndGlyphs">10</text>
<text x="377.4" y="65.1" class="s" font-size="4.6" textLength="2.3" lengthAdjust="spacingAndGlyphs">0</text>
<g transform="translate(370.9 60.1) rotate(-90)">
<text x="-4.1" y="0" class="s" font-size="6.1" textLength="5.4" lengthAdjust="spacingAndGlyphs">10</text>
<text x="2" y="-3.7" class="s" font-size="4.6" textLength="2.3" lengthAdjust="spacingAndGlyphs">0</text>
</g>
<text x="384.9" y="68.8" class="s" font-size="6.1" textLength="5.5" lengthAdjust="spacingAndGlyphs">10</text>
<text x="390.2" y="65.1" class="s" font-size="4.6" textLength="2.3" lengthAdjust="spacingAndGlyphs">1</text>
<g transform="translate(370.9 48.5) rotate(-90)">
<text x="-4.4" y="0" class="s" font-size="6.1" textLength="5.4" lengthAdjust="spacingAndGlyphs">10</text>
<text x="1.7" y="-3.7" class="s" font-size="4.6" textLength="2.3" lengthAdjust="spacingAndGlyphs">1</text>
</g>
<text x="397.8" y="68.8" class="s" font-size="6.1" textLength="5.5" lengthAdjust="spacingAndGlyphs">10</text>
<text x="403.1" y="65.1" class="s" font-size="4.6" textLength="2.3" lengthAdjust="spacingAndGlyphs">2</text>
<g transform="translate(370.9 37) rotate(-90)">
<text x="-4.7" y="0" class="s" font-size="6.1" textLength="5.4" lengthAdjust="spacingAndGlyphs">10</text>
<text x="1.4" y="-3.7" class="s" font-size="4.6" textLength="2.3" lengthAdjust="spacingAndGlyphs">2</text>
</g>
<text x="410.6" y="68.8" class="s" font-size="6.1" textLength="5.5" lengthAdjust="spacingAndGlyphs">10</text>
<text x="415.9" y="65.1" class="s" font-size="4.6" textLength="2.3" lengthAdjust="spacingAndGlyphs">3</text>
<g transform="translate(370.9 25.4) rotate(-90)">
<text x="-5" y="0" class="s" font-size="6.1" textLength="5.4" lengthAdjust="spacingAndGlyphs">10</text>
<text x="1.1" y="-3.7" class="s" font-size="4.6" textLength="2.3" lengthAdjust="spacingAndGlyphs">3</text>
</g>
<text x="423.5" y="68.8" class="s" font-size="6.1" textLength="5.5" lengthAdjust="spacingAndGlyphs">10</text>
<text x="428.8" y="65.1" class="s" font-size="4.6" textLength="2.3" lengthAdjust="spacingAndGlyphs">4</text>
<g transform="translate(370.9 13.8) rotate(-90)">
<text x="-5.3" y="0" class="s" font-size="6.1" textLength="5.4" lengthAdjust="spacingAndGlyphs">10</text>
<text x=".8" y="-3.7" class="s" font-size="4.6" textLength="2.3" lengthAdjust="spacingAndGlyphs">4</text>
</g>
<text x="401.1" y="76.1" class="r" font-size="6.2" text-anchor="middle" textLength="23" lengthAdjust="spacingAndGlyphs">CD19 PE</text>
<text x="360.2" y="38" class="r" font-size="6.2" text-anchor="middle" textLength="40.5" lengthAdjust="spacingAndGlyphs" transform="rotate(-90 360.2 38)">CD138 PECY5</text>
<text x="399" y="8" class="t" font-size="6.6" text-anchor="middle">D2</text>
<text x="415.2" y="20.8" class="rb" font-size="5.4" textLength="10.4" lengthAdjust="spacingAndGlyphs">41%</text>
<text x="415.4" y="26.2" class="rb" font-size="5.4" textLength="10.4" lengthAdjust="spacingAndGlyphs">r=58</text>
<path d="M490.7 19.1h.1M487 24.4h.1M495.2 56.4h.1M494.5 29.8h.1M499.4 21.8h.1M489.4 55h.1M490.5 16h.1M488.8 57h.1M491.3 23.3h.1M490.5 33.7h.1M489.4 53.4h.1M497.8 47.4h.1M495.9 37.7h.1M493.9 36.3h.1M485.4 35h.1M489.3 33.9h.1M493.2 54.2h.1M488.5 19.6h.1M497.5 23.1h.1M496.5 23.2h.1M495 42.3h.1M494.8 20h.1M488.5 42.8h.1M496.6 48.8h.1M493.6 47.2h.1M493.1 38.3h.1M493.2 35.4h.1M486.4 23.8h.1M490.8 17.7h.1M499.2 52.1h.1M498.6 18.2h.1M487 20.9h.1M497.5 17.8h.1M496.9 46.2h.1M492.1 17.2h.1M497.3 27.4h.1M494.9 23.8h.1M492.6 29.8h.1M491.6 32.4h.1M497.3 20.8h.1M493.4 51.2h.1M486.7 48.5h.1M492.3 32.2h.1M499 37.9h.1M489.8 26.4h.1M489.5 28.7h.1M496.6 56.2h.1M499.3 45h.1M499.9 51.5h.1M485.7 30.6h.1M487 16.7h.1M498.3 18.2h.1M494.9 42.2h.1M485.9 17h.1M497 48.9h.1M494 50.7h.1M487.7 49.2h.1M488.6 33.6h.1M490.9 48.5h.1M489.7 45.4h.1M478.9 50.4h.1M480.1 55.5h.1M468.1 47.8h.1M470.3 47.7h.1M468.1 42.1h.1M469.1 48.8h.1M482.6 50.5h.1M462.3 58.1h.1M465.1 53.7h.1M471.6 44.8h.1M464.3 55h.1M467.7 50.2h.1M460.6 43.5h.1M472 52h.1M474.9 50.5h.1M476.5 43.4h.1M462.5 50.9h.1M481.9 57.8h.1M482.6 48.5h.1M466.4 48h.1M463.8 58.4h.1M481.8 42.4h.1M472.2 46h.1M477.9 48.7h.1M473.7 43.8h.1M468.2 48.4h.1M470.9 47.9h.1M475.9 56.2h.1M471 46.9h.1M478.4 46.4h.1M464.7 46.1h.1M480.4 43.9h.1M465.8 49.7h.1M463.9 55.7h.1M472.3 43.5h.1M466.5 44.9h.1M481.4 57.7h.1M473.7 44.9h.1M482.4 47h.1M470.8 58h.1M472.8 56.6h.1M474 49.3h.1M481.7 53.9h.1M467 50.7h.1M479.1 55.3h.1M471.1 49.6h.1M462.9 56.4h.1M466.3 52.4h.1M469.7 50.5h.1M467.7 52.4h.1M464.7 52.2h.1M471.9 47.2h.1M474.4 45.4h.1M470.4 49h.1M470.6 46.7h.1M466 52.3h.1M463.4 53.6h.1M461.3 56.4h.1M469 50.2h.1M465.2 54.2h.1M471 49.5h.1M466.9 52h.1M462.1 54.4h.1M463.3 55.3h.1M469.7 48.5h.1M462.7 53.2h.1M464.5 53.1h.1M461.6 57.4h.1M465.6 54.5h.1M464 54.4h.1M468.9 47.8h.1M462.9 55.5h.1M464.5 52.9h.1M469.7 47.2h.1M469.4 50.7h.1M465 53.2h.1M466.3 53h.1M467.2 50.4h.1M469 50.6h.1M460.9 57.4h.1M463.1 55.1h.1M472.6 44.8h.1M475.8 26.1h.1M477 34.1h.1M478.7 30h.1M471.7 40.6h.1M476.2 37.5h.1M467.6 40.3h.1M477.8 34.1h.1M463.3 17.6h.1M481.2 30.2h.1M477.8 25.3h.1M477.6 33h.1M474.2 17.5h.1M482 30.2h.1M479.4 27.5h.1M472.6 24.2h.1M478.5 29.9h.1M463.3 23.3h.1M472.9 18.5h.1M474.1 18.5h.1M475.7 39.5h.1M475.5 23.3h.1M462.7 24.8h.1M479.7 39.3h.1M480.2 39.2h.1M481.2 25.3h.1M481.3 21.2h.1M482.3 20.1h.1M480.8 21.6h.1M478.8 40.5h.1M480.9 43h.1M482.1 46.8h.1M479.8 21h.1M481.2 33h.1M481.3 44.1h.1M480 49.2h.1M480.8 30.1h.1M480 29.7h.1M482.5 29.6h.1M481.7 37h.1M481.1 40.3h.1" stroke="#000" stroke-width=".7" stroke-linecap="square" fill="none" stroke-opacity=".4"/>
<path d="M493.6 20.2h.1M494.3 26.9h.1M499.1 19.8h.1M491.1 16.3h.1M491.4 16.9h.1M493.7 19.7h.1M496.1 21.4h.1M492.4 17.1h.1M485.6 20h.1M495.4 19h.1M492.4 18h.1M497.4 17.5h.1M498.1 22.4h.1M498.3 19.4h.1M494.3 16.2h.1M495.5 17.1h.1M489.3 17.9h.1M494.2 15.9h.1M492.1 17.9h.1M495.9 22.3h.1M491.6 21.2h.1M492.4 21.6h.1M490.8 21.4h.1M498.1 20.1h.1M493.4 20.2h.1M490.3 14.9h.1M492 21h.1M489.5 20.5h.1M496.4 20.2h.1M496.4 20.1h.1M493.5 16.7h.1M493.9 18.2h.1M489 15.1h.1M497.4 18.5h.1M492.9 18.7h.1M498.7 18.2h.1M491.4 21.9h.1M494.3 17.4h.1M495.5 20.3h.1M495.2 20h.1M492.7 18.8h.1M496 20.9h.1M494.1 20.3h.1M493.1 18.4h.1M490.2 22.2h.1M496.6 19.3h.1M493.1 20.8h.1M494.4 16.9h.1M492.9 17.1h.1M494 19.8h.1M492 24.8h.1M500.2 16.9h.1M498.1 16.9h.1M494.9 17.6h.1M493.8 18.3h.1M494.9 19.6h.1M490.7 21.6h.1M494.7 19h.1M492.8 20.7h.1M491.9 19.3h.1M491.1 17.8h.1M491.2 18h.1M494.4 20.6h.1M493.1 19.8h.1M490.8 22.3h.1M494.2 19.9h.1M493.4 19.1h.1M492.8 16.6h.1M497 17.9h.1M492.3 20.2h.1M489.3 19.8h.1M493.4 23.3h.1M490.3 17.6h.1M495.3 21.1h.1M494.6 19.3h.1M492.2 14.3h.1M494.4 16.7h.1M491.9 19.9h.1M491.8 18.4h.1M488.1 17.3h.1M487.3 21.5h.1M491.9 18.7h.1M497.9 20.5h.1M489.7 20.9h.1M492.8 18.2h.1M491.2 20.8h.1M494.4 17.1h.1M490.7 16.1h.1M492.7 22h.1M494.1 22.6h.1M491.6 21h.1M492.6 17.5h.1M492.4 18.5h.1M494.4 17.2h.1M494.7 17.3h.1M495 19.9h.1M494.2 18.3h.1M490.3 21.9h.1M491.9 15.5h.1M494.4 18.2h.1M493.1 16.4h.1M495.4 16.4h.1M489.5 23.5h.1M490.6 22.9h.1M490.7 20.1h.1M493.8 20.7h.1M491.3 20.6h.1M490.6 19.2h.1M490 20.4h.1M492.7 22.7h.1M494.3 21.4h.1M494.5 20.2h.1M491.3 20h.1M492.2 20.9h.1M492.6 17.8h.1M494.8 23.9h.1M492.9 18.6h.1M495.8 17.3h.1M491.5 23.6h.1M493 19.6h.1M496.5 20.4h.1M489.2 21.8h.1M489.6 24.3h.1M494.8 19.4h.1M495 19.7h.1M495.6 16.1h.1M495.2 19.5h.1M495.7 23.6h.1M491.6 17.3h.1M493 17.1h.1M494.5 15.3h.1M489.7 15.9h.1M489.6 15.8h.1M491.4 19.2h.1M495.6 20.2h.1M495 14.5h.1M489.5 20h.1M491.4 22.3h.1M491.5 21.2h.1M493.1 17.4h.1M493.5 21.3h.1M493 18h.1M490.5 16.3h.1M495.9 16.1h.1M495.7 15.9h.1M490.1 18.2h.1M492.5 20.7h.1M495.8 15.1h.1M493.9 14.4h.1M494.2 22.2h.1M491.8 16.8h.1M496.8 25h.1M490.1 20h.1M495.4 16h.1M497.7 22h.1M491 21.6h.1M496.5 15.4h.1M495.2 18.8h.1M491.3 22.5h.1M493.4 15.6h.1M496.8 20.6h.1M491.8 20h.1M491.8 23.9h.1M485.3 21.8h.1M488.5 17.9h.1M492 15.7h.1M492.6 18.4h.1M494.6 19.6h.1M495.3 19.4h.1M498.2 18.7h.1M494.9 17.1h.1M500.8 23.1h.1M495 18.5h.1M496.6 17.8h.1M490.9 19.6h.1M494.2 19.7h.1M495.6 19.5h.1M495.6 22.4h.1M491.8 16.7h.1M492.9 19.9h.1M489.7 21.5h.1M493.9 18.2h.1M490.2 19.4h.1M495.6 21.1h.1M493.7 20.6h.1M494.9 19.5h.1M494.6 16.4h.1M494.2 17.2h.1M495.2 19.5h.1M493.2 18.6h.1M488.7 18.2h.1M496.4 18.3h.1M491.1 14.9h.1M495.5 21h.1M494.5 16.8h.1M494.1 23.2h.1M493.5 26.1h.1M493.8 21.3h.1M493.6 20.5h.1M493.1 17.8h.1M492.7 16.9h.1M493.8 18.4h.1M494.6 21.9h.1M491.9 19.3h.1M493.7 15.4h.1M489.4 20.9h.1M490.8 17.9h.1M488.4 20.9h.1M492.3 19.3h.1M494 17.5h.1M494.9 18.3h.1M489.4 20.8h.1M495.2 18.1h.1M490.3 22.3h.1M491.9 17.3h.1M491.7 22.7h.1M497.2 16.4h.1M493.5 16.7h.1M498.6 21.3h.1M495.6 23.2h.1M492.3 18.5h.1M494.1 21.3h.1M496.6 17.4h.1M490.7 16.6h.1M491.7 19.2h.1M492.9 24.5h.1M492.2 18.6h.1M492.3 15.3h.1M493.4 19.1h.1M492.2 20.7h.1M492 18.3h.1M489.4 19.3h.1M495.2 17.5h.1M491.4 22.2h.1M502.5 21.3h.1M494.3 15.9h.1M491.5 17.6h.1M489.8 21.9h.1M491.8 19h.1M491.5 18.1h.1M494.7 18.1h.1M494.5 20.4h.1M494.4 22.7h.1M493.1 17.8h.1M491.3 16.8h.1M489.7 18.3h.1M488.7 17.6h.1M491.8 18.8h.1M494.8 20.6h.1M493 15.2h.1M490.3 18h.1M495.4 24h.1M490.4 18.5h.1M489.9 19.1h.1M490.4 19.7h.1M491.2 16.9h.1M492.8 15.6h.1M489.7 24.4h.1M488.7 18.8h.1M494.1 16.7h.1M493.7 21.3h.1M494.2 18.2h.1M495 17h.1M493.1 17.8h.1M497.7 16.1h.1M492.4 16.5h.1M492.8 21.3h.1M496.4 19.6h.1M494 18.5h.1M492.6 22.2h.1M493 20.8h.1M489.9 17.8h.1M494.7 15.6h.1M492.4 17.7h.1M494.2 22.3h.1M496.5 17.1h.1M495 24.5h.1M493.7 18.6h.1M494 15.8h.1M493.3 18h.1M497.5 23h.1M488 17.1h.1M491.8 20.1h.1M490.8 20.7h.1M494.1 17.8h.1M492.5 21.6h.1M493.3 22.6h.1M498.1 21.5h.1M493.7 14.8h.1M495.3 20h.1M491.9 20.8h.1M491.2 21.1h.1M490.3 23.4h.1M496.8 20.2h.1M490.1 19h.1M499.1 16.8h.1M494 22h.1M493.1 16.3h.1M492.4 18.5h.1M490 14.7h.1M494 18.5h.1M495.7 16.3h.1M490.7 20h.1M491.7 18.8h.1M497.4 20.3h.1M492.1 15.2h.1M495 18.8h.1M499.1 21.7h.1M492.8 17.5h.1M490.6 18.6h.1M487.1 20.6h.1M496.5 20.8h.1M494.6 20.8h.1M492.3 19.8h.1M494.2 21.1h.1M491.5 18.5h.1M489.2 18.5h.1M491.3 16h.1M491 18.4h.1M490.4 18.2h.1M495.8 23.2h.1M490.8 16.1h.1M490.1 19.5h.1M493.5 18.4h.1M494.2 19.3h.1M497.4 22.2h.1M493.7 19h.1M489.4 16.5h.1M490.6 19.2h.1M495.5 21.7h.1M491.2 19.8h.1M494.3 21h.1M497.9 16.2h.1M489.1 21.1h.1M489 17.6h.1M492.4 16.1h.1M492.9 19.9h.1M495.3 15.8h.1M488.7 19.5h.1M494.6 23.2h.1M492.3 17.7h.1M488.5 16.6h.1M492.3 21.9h.1M494.3 20.9h.1M497.7 21.7h.1M494.9 17.3h.1M489.4 23.4h.1M495.8 17.4h.1M493.2 18.1h.1M497.2 19.9h.1M489.4 19.4h.1M489.9 18.4h.1M497.7 20.9h.1M491.7 16.2h.1M488.1 21.1h.1M491 22.1h.1M495.2 16.7h.1M494.7 19.7h.1M494.1 23.3h.1M489.4 23.1h.1M492.5 21.5h.1M487.7 17.5h.1M488.9 19.9h.1M494.6 17h.1M495.3 23.2h.1M492.3 20h.1M488.1 22.2h.1M491.9 17.7h.1M497.2 18.3h.1M491.2 18.1h.1M489 15.8h.1M489.8 20.1h.1M490.6 16.8h.1M491.5 23.7h.1M492.3 18.2h.1M498.3 18.5h.1M491.4 17.3h.1M487.2 20.1h.1M495.7 20.3h.1M490.9 16.6h.1M491.4 18.2h.1M493.8 17.2h.1M493.3 19.2h.1M494.2 17.1h.1M492 19.9h.1M493.1 16.4h.1M490 19.6h.1M490.1 18.4h.1M491.3 21.4h.1M491.7 18.7h.1M488.3 20.4h.1M489.7 18.2h.1M496.3 19h.1M496.1 17.8h.1M497.3 16.4h.1M496 19.9h.1M495.3 19.4h.1M497.6 23.5h.1M494.7 20.5h.1M492 23.7h.1M492.1 24h.1M493.8 20h.1M494.1 16.8h.1M492.6 18.7h.1M492 21.7h.1M492.8 19.1h.1M490.8 21.8h.1M499 18.9h.1M494.4 19.6h.1M487.6 21.1h.1M495.3 21.1h.1M490.8 19.9h.1M492.4 19.9h.1M493 20.7h.1M495.4 19.3h.1M492.9 21.8h.1M493.8 17.9h.1M492.6 26.8h.1M499.3 20.4h.1M492.9 17.2h.1M490.6 15.1h.1M489.5 16.7h.1M493 20.3h.1M491.8 18h.1M493.5 22.2h.1M494.2 18.5h.1M489.9 16.4h.1M493.2 18.5h.1M491 17.8h.1M491.1 18.6h.1M490.4 16.2h.1M492.4 18.9h.1M491.1 14.4h.1M491.1 19.4h.1M492 18.9h.1M489.5 18.6h.1M496.6 17.6h.1M494.7 19.3h.1M492 19.7h.1M493.8 15h.1M490.5 21.5h.1M493.3 18.9h.1M488.9 20.1h.1M492.8 23.1h.1M493.3 16.2h.1M492 16.7h.1M495 17.1h.1M490.8 19.2h.1M493.3 16.8h.1M494.5 17.3h.1M494.4 23.8h.1M492.9 18.7h.1M497.5 20.7h.1M495.1 22h.1M494.8 23.1h.1M491 15.6h.1M493.2 20.3h.1M491.5 21.1h.1M498.5 22.6h.1M494 17.7h.1M490.9 18.1h.1M495.3 20h.1M496 19.7h.1M491.4 18.4h.1M493.5 17.8h.1M499.7 19.6h.1M493.1 18.6h.1M494.3 23.3h.1M491.5 15.5h.1M490.3 21.1h.1M492.1 27h.1M492.8 24.2h.1M496.9 21.5h.1M492.3 25.7h.1M486.8 22.2h.1M500.6 25.2h.1M497.4 26.5h.1M495.4 18h.1M495.1 28.6h.1M493.7 21.4h.1M499.2 22.2h.1M489.6 22.7h.1M496 20.8h.1M496 20.2h.1M501.2 24.1h.1M493.3 19.5h.1M498.5 23.9h.1M495 24.9h.1M490.4 19.7h.1M490 20.6h.1M497.5 24.1h.1M489.8 21.8h.1M492.6 24.5h.1M499 21.7h.1M490.5 20.6h.1M495.4 21.1h.1M499.9 23.2h.1M498.6 26.6h.1M496.2 15.2h.1M491.3 20h.1M499.5 20.4h.1M495.2 18.7h.1M493.8 20h.1M490.1 26.6h.1M486.6 26h.1M494.9 19.5h.1M492.1 16.2h.1M488.1 23.6h.1M496.5 23.8h.1M494.4 17.2h.1M491.6 22.7h.1M492.3 23.6h.1M495.4 24.6h.1M495.3 19.9h.1M490.7 23.9h.1M496.6 21.3h.1M493 25.3h.1M490.4 22.9h.1M493.2 24.4h.1M493.7 22h.1M497.4 20.9h.1M495.8 22.9h.1M486.4 25.4h.1M489.7 20.5h.1M496.2 23.4h.1M494.5 31.7h.1M490.5 19.4h.1M492 16.7h.1M498.8 18.2h.1M486 20.8h.1M497.6 22h.1M492.7 25.1h.1M494.8 16.4h.1M493.9 24.7h.1M495 26.8h.1M491.6 24.2h.1M493.6 22.1h.1M495.1 20.6h.1M492.2 23.5h.1M493.5 21.7h.1M498.3 24.1h.1M487 29.2h.1M494.5 23.2h.1M491.9 17.1h.1M490 27.5h.1M492.9 26.4h.1M494.8 27.7h.1M496.3 23.5h.1M491.2 25.5h.1M495.7 29.8h.1M498.3 21.7h.1M494.2 19.5h.1M495.9 27.7h.1M495.1 20.6h.1M495.8 26.6h.1M490.6 19.9h.1M497.5 20.1h.1M495.1 23.2h.1M499.5 23.3h.1M496.3 19h.1M490.8 28.5h.1M497.4 20.4h.1M498.1 24.8h.1M497.1 18.5h.1M492.7 19.7h.1M492.4 19.8h.1M498 22.7h.1M491.2 22.7h.1M496.5 22.9h.1M494.1 22.1h.1M491.6 25.7h.1M492.5 25.7h.1M492 20.4h.1M495.3 22.6h.1M491.6 23.9h.1M493.4 24.9h.1M492.9 24.1h.1M494.9 20.8h.1M496.9 20.8h.1M488.9 22.4h.1M495 24h.1M491.5 17.9h.1M493 18.2h.1M493.3 20.5h.1M498.7 22.4h.1M498.5 19.5h.1M492.9 20.4h.1M492.9 18.9h.1M498.3 24.1h.1M499.7 22h.1M491.5 19.4h.1M497.3 22.2h.1M492.1 22.8h.1M496.1 26.5h.1M490.6 24.9h.1M496 28.3h.1M492.7 25.1h.1M497.7 25.7h.1M489.3 24.2h.1M488.7 28.3h.1M498.5 16.8h.1M497.2 21.7h.1M494 18.5h.1M488.5 25.5h.1M496.4 23.1h.1M501.5 28.5h.1M492.5 22.6h.1M492.4 21.4h.1M491 21.4h.1M495.1 19.1h.1M488.7 21.9h.1M491.3 20.4h.1M496.7 20.3h.1M490 17.6h.1M494.4 22.4h.1M496.9 18h.1M496 23.1h.1M487.9 21.1h.1M495.4 20.8h.1M490 15.8h.1M487.1 23.4h.1M496.8 37.6h.1M494.2 34.1h.1M493 29.4h.1M496.1 29.4h.1M496.5 32.7h.1M493.4 21.6h.1M501.5 42.1h.1M497.7 26.2h.1M498.4 29h.1M495.6 29h.1M495.6 31.1h.1M492 35.5h.1M493.9 40.8h.1M494.7 34.5h.1M496.3 43.2h.1M493.2 30.6h.1M492.4 37.5h.1M497.5 38.2h.1M494.8 34h.1M497 37.4h.1M494.8 26.5h.1M493 41.7h.1M494.5 38.3h.1M488.2 34.2h.1M497 30.8h.1M496 38.5h.1M497.5 26h.1M494 37.9h.1M499.6 39.1h.1M497.7 49.4h.1M490 32.5h.1M490 41.9h.1M495.2 37.1h.1M491 22.7h.1M494.1 24.7h.1M494.1 29.7h.1M493.7 40.7h.1M498.4 42.5h.1M496 31.5h.1M496.2 35.9h.1M495.1 34.6h.1M502.2 17h.1M497.9 40.2h.1M492.7 42.3h.1M496 18.6h.1M492.6 27h.1M494.1 32.6h.1M494.3 32.6h.1M490.9 39.9h.1M489.7 40.7h.1M491.4 29.5h.1M495.9 37.5h.1M487.4 28.9h.1M496.1 31.1h.1M489 34.6h.1M492.5 36.6h.1M493.1 29h.1M496.4 45.5h.1M494.5 34.4h.1M491.7 33.1h.1M493 38.1h.1M495.1 29h.1M497.3 35.1h.1M495.2 17.2h.1M494.2 22h.1M493.8 30.7h.1M498.6 30.1h.1M492.4 30.8h.1M493.3 28.9h.1M495.4 36.9h.1M497.8 41h.1M490.1 29.8h.1M497 39.8h.1M497.5 35.6h.1M495.2 25.3h.1M489.6 24.3h.1M492.6 33.4h.1M494.1 40.1h.1M495.2 27.1h.1M491.3 19.5h.1M493.9 39.4h.1M496.3 40.6h.1M493.1 31.6h.1M493.7 40.2h.1M493.3 46.3h.1M490.8 27.6h.1M493.6 30.6h.1M493.9 30.7h.1M496.4 40.2h.1M492.4 27.6h.1M491.1 31.1h.1M493.2 41.4h.1M492.2 39.7h.1M495.9 40h.1M493 27.2h.1M490.4 36h.1M496 29.4h.1M494.3 39.2h.1M494.9 36.5h.1M495.5 37.8h.1M497.2 32.1h.1M492.1 34.2h.1M496.1 35.7h.1M494.7 31.9h.1M494.6 35.3h.1M494.2 27h.1M493.3 25.6h.1M495 22.2h.1M494.6 32.3h.1M496.2 38.7h.1M498.3 36h.1M491.9 20.5h.1M499.5 35.8h.1M497.3 33.5h.1M491.5 32.2h.1M494.1 34.7h.1M494.5 37h.1M497.5 42.1h.1M492 41.3h.1M498.9 45.6h.1M491.7 37.1h.1M493.5 29.5h.1M492.9 41.9h.1M491.3 25.5h.1M491.6 38.7h.1M493 26.8h.1M493.8 29.6h.1M492.9 41.2h.1M492.1 29.4h.1M487.8 40.2h.1M493.8 37.4h.1M499.3 32.5h.1M498.8 38.1h.1M497.5 37.3h.1M493.5 34.3h.1M495.8 29.3h.1M493.1 38.7h.1M493.3 31.3h.1M494.9 33h.1M497.1 36.2h.1M493.2 32.7h.1M492.8 35h.1M494.4 35.3h.1M490.6 35.2h.1M496.7 34.3h.1M497.1 42.2h.1M497.6 30.3h.1M496.5 30.6h.1M493 25.4h.1M493.9 18.4h.1M492.1 37.6h.1M495.3 36.4h.1M500.1 42.5h.1M492 24.1h.1M496.2 28.5h.1M498.1 29.7h.1M491.8 45.8h.1M500 39.2h.1M492.8 32.2h.1M494.2 33.2h.1M495.6 35.3h.1M496.9 26.2h.1M496.6 35.5h.1M493.9 26.4h.1M492.8 33.9h.1M488.5 37.7h.1M493.2 35.1h.1M497.8 28.8h.1M492.5 31.5h.1M496.1 38.3h.1M495 51.6h.1M493.4 46.7h.1M495.4 45.5h.1M495 49.1h.1M495.6 51h.1M495.9 45.8h.1M495.3 45.6h.1M495.3 50.9h.1M497.6 48.5h.1M497 39.5h.1M497.7 46h.1M496.1 44.4h.1M495.2 44.9h.1M496.5 46.6h.1M493.2 45.2h.1M493.8 45.4h.1M497.5 51.4h.1M495 42.4h.1M494.7 46.7h.1M493.9 47.8h.1M496.7 42.8h.1M493.7 43.6h.1M498.2 43.6h.1M496.3 48.4h.1M492.6 43.7h.1M494.9 47.5h.1M494 43.4h.1M496.9 43.3h.1M496.9 47.4h.1M495 48.3h.1M494.7 43h.1M496.7 43.8h.1M494.7 46.9h.1M498.4 43.9h.1M494.7 43.5h.1M496.5 43.7h.1M492.2 47h.1M496.6 39.9h.1M494.7 50.6h.1M496.4 50.2h.1M497.9 49.3h.1M495.5 45.8h.1M491.2 44.6h.1M492 47.6h.1M496 43.6h.1M494.2 51.5h.1M493.7 44.8h.1M497.7 49.2h.1M495.4 48.2h.1M497.6 45.2h.1M497.5 45.7h.1M495.1 44.2h.1M496.1 46.5h.1M493.6 47.7h.1M496.6 46.3h.1M495.7 45.4h.1M498.7 46.3h.1M497.4 49.3h.1M495.5 48.5h.1M494.5 47.5h.1M495.4 44.7h.1M495.8 45.1h.1M497.2 47.5h.1M497.7 45.3h.1M493.5 44.6h.1M493.8 49.6h.1M496.4 46.5h.1M493.5 46.8h.1M495.6 44.8h.1M492.5 47h.1M495.2 48.3h.1M494.9 46.9h.1M495.2 42.6h.1M494.6 45.1h.1M496.7 47.6h.1M497.4 46.8h.1M497.1 48.7h.1M495.3 45.5h.1M495.2 46.1h.1M494.5 48.5h.1M494.4 46.1h.1M495.4 48.3h.1M495.4 41.9h.1M495.4 43.9h.1M496.2 48.5h.1M497.3 48.2h.1M494.6 48.1h.1M495.3 48.5h.1M496.8 48.5h.1M496.1 43.5h.1M494.3 50.1h.1M493.6 48.3h.1M497 43.3h.1M493.8 43h.1M496.5 47.2h.1M493.9 44.5h.1M499 47.5h.1M493.8 45.5h.1M499.1 42.5h.1M497.2 44.1h.1M498.4 45.3h.1M498.1 46.2h.1M496.8 48.1h.1M495.3 44.6h.1M500.4 47.3h.1M495.1 45.6h.1M496.2 45.9h.1M493.4 40.5h.1M495.8 44.9h.1M496.9 42.6h.1M494.6 47.8h.1M496.1 48.8h.1M495.3 47.2h.1M495.2 51.3h.1M497 46.8h.1M497.5 48.2h.1M494.5 45.3h.1M492.7 47.1h.1M496.7 43.7h.1M493.9 45.4h.1M495 48.7h.1M494.4 46.2h.1M497.7 45.4h.1M499.9 45.9h.1M494.8 47.4h.1M498.5 48.9h.1M488.4 41.9h.1M493.6 41.6h.1M493.2 58.6h.1M492.8 49.2h.1M493.6 44.8h.1M495.5 46.7h.1M497.8 43.9h.1M487.6 48.9h.1M489.5 46h.1M494.1 51.6h.1M488.5 55.8h.1M495.3 51.2h.1M490.6 49.2h.1M493.2 49.1h.1M489.5 55.2h.1M490.4 42.9h.1M503.3 44.6h.1M492.4 46.4h.1M498.7 43.5h.1M493.5 51.3h.1M495.9 47.2h.1M490.7 44.6h.1M495.4 51.5h.1M491.7 48.6h.1M483.5 50.8h.1M484.2 48.9h.1M493.1 46.6h.1M495.9 44.1h.1M490.8 51.1h.1M489.8 44.8h.1M491.5 53.7h.1M499.4 50.1h.1M487 48.8h.1M495.9 45.3h.1M497.6 56.5h.1M488.7 47.8h.1M490.2 51.5h.1M492.1 46.1h.1M491.1 54.3h.1M496.9 51h.1M493.8 53.7h.1M491.6 52.8h.1M494.8 48.5h.1M497.9 45.1h.1M492.2 49.3h.1M490.6 46.2h.1M496.8 47.4h.1M499.7 56.8h.1M499.1 53.4h.1M496.5 50.6h.1M493 52.2h.1M496.6 53.3h.1M495.7 50.3h.1M495.9 49h.1M493.6 49.8h.1M497.4 51.5h.1M496.9 58.6h.1M489.3 44.1h.1M496.3 49.6h.1M490.3 46.9h.1M493.3 47h.1M495.6 55.1h.1M492.1 52.2h.1M492.6 51.6h.1M492 54.3h.1M492.1 51.3h.1M488.8 48.1h.1M495.7 58h.1M491.8 44.2h.1M495.1 41.1h.1M493.8 46h.1M495.4 52.6h.1M496 46.4h.1M489.3 49.9h.1M493.5 53.7h.1M494.6 52.6h.1M491.4 51.4h.1M491.6 54.5h.1M495.2 49.8h.1M498.5 54.4h.1M495.9 50.5h.1M496.4 56.4h.1M495.1 54.6h.1M500.7 50h.1M494.1 54.9h.1M497.2 53.9h.1M506 53.5h.1M495.3 51.3h.1M463.9 53.5h.1M461.2 55.9h.1M466.1 53.7h.1M464.4 52.3h.1M468 50.8h.1M462 57.7h.1M468.2 50.7h.1M465.9 54h.1M464.1 54.3h.1M466 52h.1" stroke="#000" stroke-width=".8" stroke-linecap="square" fill="none"/>
<path d="M459.6 13.5H513.5V59.9H459.6Z M483.6 13.5V59.9 M459.6 41.6H513.5" class="ln"/>
<path d="M459.6 59.9v2.2M459.6 59.9h-2.2M463.7 59.9v1.2M459.6 56.4h-1.2M466 59.9v1.2M459.6 54.4h-1.2M467.7 59.9v1.2M459.6 52.9h-1.2M469 59.9v1.2M459.6 51.8h-1.2M470.1 59.9v1.2M459.6 50.9h-1.2M471 59.9v1.2M459.6 50.1h-1.2M471.8 59.9v1.2M459.6 49.4h-1.2M472.5 59.9v1.2M459.6 48.8h-1.2M473.1 59.9v2.2M459.6 48.3h-2.2M477.1 59.9v1.2M459.6 44.8h-1.2M479.5 59.9v1.2M459.6 42.8h-1.2M481.2 59.9v1.2M459.6 41.3h-1.2M482.5 59.9v1.2M459.6 40.2h-1.2M483.6 59.9v1.2M459.6 39.3h-1.2M484.5 59.9v1.2M459.6 38.5h-1.2M485.2 59.9v1.2M459.6 37.8h-1.2M485.9 59.9v1.2M459.6 37.2h-1.2M486.6 59.9v2.2M459.6 36.7h-2.2M490.6 59.9v1.2M459.6 33.2h-1.2M493 59.9v1.2M459.6 31.2h-1.2M494.7 59.9v1.2M459.6 29.7h-1.2M496 59.9v1.2M459.6 28.6h-1.2M497 59.9v1.2M459.6 27.7h-1.2M497.9 59.9v1.2M459.6 26.9h-1.2M498.7 59.9v1.2M459.6 26.2h-1.2M499.4 59.9v1.2M459.6 25.6h-1.2M500 59.9v2.2M459.6 25.1h-2.2M504.1 59.9v1.2M459.6 21.6h-1.2M506.5 59.9v1.2M459.6 19.6h-1.2M508.1 59.9v1.2M459.6 18.1h-1.2M509.4 59.9v1.2M459.6 17h-1.2M510.5 59.9v1.2M459.6 16.1h-1.2M511.4 59.9v1.2M459.6 15.3h-1.2M512.2 59.9v1.2M459.6 14.6h-1.2M512.9 59.9v1.2M459.6 14h-1.2M513.5 59.9v2.2M459.6 13.5h-2.2" class="tk"/>
<path d="M459.4 13.5V60.3" stroke="#000" stroke-width="1.3" fill="none" stroke-opacity=".6"/>
<path d="M459 60.2H513.5" stroke="#000" stroke-width="1.2" fill="none" stroke-opacity=".45"/>
<text x="457.4" y="68.4" class="s" font-size="6.1" textLength="5.5" lengthAdjust="spacingAndGlyphs">10</text>
<text x="462.7" y="64.7" class="s" font-size="4.6" textLength="2.3" lengthAdjust="spacingAndGlyphs">0</text>
<g transform="translate(456.2 59.9) rotate(-90)">
<text x="-4.1" y="0" class="s" font-size="6.1" textLength="5.4" lengthAdjust="spacingAndGlyphs">10</text>
<text x="2" y="-3.7" class="s" font-size="4.6" textLength="2.3" lengthAdjust="spacingAndGlyphs">0</text>
</g>
<text x="470.3" y="68.4" class="s" font-size="6.1" textLength="5.5" lengthAdjust="spacingAndGlyphs">10</text>
<text x="475.6" y="64.7" class="s" font-size="4.6" textLength="2.3" lengthAdjust="spacingAndGlyphs">1</text>
<g transform="translate(456.2 48.3) rotate(-90)">
<text x="-4.4" y="0" class="s" font-size="6.1" textLength="5.4" lengthAdjust="spacingAndGlyphs">10</text>
<text x="1.7" y="-3.7" class="s" font-size="4.6" textLength="2.3" lengthAdjust="spacingAndGlyphs">1</text>
</g>
<text x="483.2" y="68.4" class="s" font-size="6.1" textLength="5.5" lengthAdjust="spacingAndGlyphs">10</text>
<text x="488.6" y="64.7" class="s" font-size="4.6" textLength="2.3" lengthAdjust="spacingAndGlyphs">2</text>
<g transform="translate(456.2 36.7) rotate(-90)">
<text x="-4.7" y="0" class="s" font-size="6.1" textLength="5.4" lengthAdjust="spacingAndGlyphs">10</text>
<text x="1.4" y="-3.7" class="s" font-size="4.6" textLength="2.3" lengthAdjust="spacingAndGlyphs">2</text>
</g>
<text x="496.2" y="68.4" class="s" font-size="6.1" textLength="5.5" lengthAdjust="spacingAndGlyphs">10</text>
<text x="501.5" y="64.7" class="s" font-size="4.6" textLength="2.3" lengthAdjust="spacingAndGlyphs">3</text>
<g transform="translate(456.2 25.1) rotate(-90)">
<text x="-5" y="0" class="s" font-size="6.1" textLength="5.4" lengthAdjust="spacingAndGlyphs">10</text>
<text x="1.1" y="-3.7" class="s" font-size="4.6" textLength="2.3" lengthAdjust="spacingAndGlyphs">3</text>
</g>
<text x="509.1" y="68.4" class="s" font-size="6.1" textLength="5.5" lengthAdjust="spacingAndGlyphs">10</text>
<text x="514.4" y="64.7" class="s" font-size="4.6" textLength="2.3" lengthAdjust="spacingAndGlyphs">4</text>
<g transform="translate(456.2 13.5) rotate(-90)">
<text x="-5.3" y="0" class="s" font-size="6.1" textLength="5.4" lengthAdjust="spacingAndGlyphs">10</text>
<text x=".8" y="-3.7" class="s" font-size="4.6" textLength="2.3" lengthAdjust="spacingAndGlyphs">4</text>
</g>
<text x="486.6" y="74.4" class="r" font-size="6.2" text-anchor="middle" textLength="23.5" lengthAdjust="spacingAndGlyphs">CD19 PE</text>
<text x="445.6" y="37.6" class="r" font-size="6.2" text-anchor="middle" textLength="40.5" lengthAdjust="spacingAndGlyphs" transform="rotate(-90 445.6 37.6)">CD138 PECY5</text>
<text x="485.7" y="6.5" class="t" font-size="6.6" text-anchor="middle">D7</text>
<text x="502.4" y="19.7" class="rb" font-size="5.4" textLength="10.2" lengthAdjust="spacingAndGlyphs">63%</text>
<text x="499.2" y="25.4" class="rb" font-size="5.4" textLength="13.3" lengthAdjust="spacingAndGlyphs">r=347</text>
<path d="M152.6 123.2h.1M153.4 123.3h.1M151.8 129h.1M153 128.6h.1" stroke="#000" stroke-width=".7" stroke-linecap="square" fill="none" stroke-opacity=".4"/>
<path d="M148 134.7h.1M145.3 137.5h.1M148.9 132.2h.1M144.2 131.2h.1M147.3 138.3h.1M148.7 134.2h.1M148.3 134h.1M147 137.7h.1M145.4 137h.1M146 135.7h.1M144.8 136.3h.1M144.8 137.1h.1M144.3 134.3h.1M148.3 134.9h.1M144.8 136.8h.1M148.7 135.1h.1M146.9 138.8h.1M149.5 134.8h.1M149.1 137.5h.1M147 135.7h.1M148.3 134.4h.1M144 136.8h.1M146.7 135.8h.1M149.5 131.8h.1M147.1 138.9h.1M146.8 136.2h.1M151.4 137.8h.1M147.8 133.6h.1M143.5 135.5h.1M148.4 132.4h.1M141.4 136.6h.1M147.2 136.3h.1M147 139h.1M145.4 134.8h.1M144.8 135.2h.1M145.4 137.4h.1M151.4 134.7h.1M144.2 134.8h.1M144.7 135h.1M145.9 134.3h.1M145.5 137.8h.1M149.5 133.3h.1M146.9 134.6h.1M146 137.6h.1M147.7 133.9h.1M146.9 137.1h.1M145.9 132.9h.1M145.7 134.4h.1M146 138h.1M146 136.5h.1M145.5 133.9h.1M146.2 133.2h.1M148.7 131.6h.1M143.9 136.7h.1M147 134.6h.1M147.7 135.5h.1M146.1 135.2h.1M148.4 137h.1M145.5 132.8h.1M147.4 135.5h.1M147.3 132.7h.1M146.7 135.6h.1M146.7 134.7h.1M147.9 135.3h.1M149.1 133.8h.1M144.2 132.1h.1M148.3 135.8h.1M145 132.3h.1M144.6 134.1h.1M146.6 133.8h.1M146.6 135.5h.1M143 134.1h.1M149.4 134.1h.1M145.4 135.7h.1M147.6 138.5h.1M147 133.9h.1M147.4 135.4h.1M146.4 136.5h.1M146.9 134.8h.1M146.4 135.6h.1M145.6 137.3h.1M148.4 133.5h.1M146.6 129.9h.1M146.9 134.6h.1M145.2 136.2h.1M145.1 136.6h.1M146.6 136.1h.1M143.6 138.3h.1M149 134.6h.1M145.6 134.5h.1M145.7 133.4h.1M145.3 133.2h.1M146.5 137h.1M147.3 133.9h.1M147.6 133.4h.1M145 138.5h.1M144.2 133.5h.1M146 137h.1M146 133.5h.1M144.9 134.8h.1M148.6 133.6h.1M144.3 136.6h.1M144.6 135.1h.1M148 136.5h.1M145.5 134.4h.1M145.9 138.9h.1M144.6 135.1h.1M143.9 132.6h.1M144.8 133.9h.1M143 134.5h.1M147.6 135.4h.1M146.8 132.6h.1M149.8 136.3h.1M146.1 133.6h.1M145.2 134.6h.1M148.1 136.7h.1M145.2 131.6h.1M148.1 138.6h.1M145.3 133.9h.1M142.8 132.7h.1M145.6 138.3h.1M145.6 135.1h.1M147.2 131.6h.1M145.4 136.7h.1M146.7 138.2h.1M146.7 138.2h.1M144.6 136.9h.1M144.1 134.1h.1M144.8 134.7h.1M143.1 137.8h.1M146.3 136.1h.1M147.4 134.4h.1M145.6 138.2h.1M145 133.3h.1M144 139.1h.1M147.4 132.9h.1M148.1 133.7h.1M142.1 136.4h.1M150 135.6h.1M149 136.7h.1M145.2 132.7h.1M146.1 133.5h.1M146.5 133.9h.1M146.9 134.8h.1M145.5 134h.1M146.9 133h.1M147.4 137.8h.1M150.7 135.3h.1M146 135.4h.1M145 137.4h.1M148 134.3h.1M146.1 132.4h.1M146.4 131.7h.1M146.3 136.4h.1M145.5 135.4h.1M145.3 135.4h.1M145.3 133.7h.1M144.7 136h.1M145.3 136h.1M149.6 136.9h.1M146 137.8h.1M144.7 134.6h.1M144.3 139.4h.1M148.4 136.4h.1M145 138.6h.1M146.5 134.9h.1M143 138.3h.1M142.3 133.5h.1M146.6 137.5h.1M143 134.9h.1M146.5 136h.1M147.7 133.6h.1M144.6 135.9h.1M145.2 135.8h.1M145.3 133.1h.1M144.8 136h.1M145.4 137.5h.1M145.3 135.8h.1M145.7 137.7h.1M147.1 135.3h.1M147 137.8h.1M146.2 135.7h.1M144.7 133.7h.1M147 136.6h.1M147.6 132.6h.1M146.4 135.4h.1M150 132.8h.1M142 134.5h.1M147.3 134.3h.1M146.5 136.1h.1M148.9 136.2h.1M149.5 133.2h.1M147.3 133.8h.1M145.3 136.8h.1M147.2 134.9h.1M144 138h.1M146.3 133.8h.1M144.7 138.5h.1M147 135.6h.1M142.9 136.3h.1M145.5 132.5h.1M146.5 134.6h.1M145.7 135.3h.1M145.5 137.7h.1M144.8 136.1h.1M145.7 133.6h.1M148.8 131.9h.1M145.1 137.4h.1M143.8 133.9h.1M144.3 139.3h.1M145.4 136.1h.1M147.4 134h.1M145.7 133.9h.1M147.6 137.6h.1M148.7 134.3h.1M144.5 136.2h.1M146.6 131.4h.1M145.6 135.8h.1M147.8 132.9h.1M147.6 130.5h.1M146.8 134.7h.1M144.1 135.7h.1M145.5 133.2h.1M146 133.1h.1M145 134h.1M146.6 135.7h.1M146.9 135.7h.1M146.7 135.7h.1M144.7 135.3h.1M145.4 138.5h.1M144 134.4h.1M144.8 132.2h.1M147.2 133h.1M145.7 135.2h.1M145.8 135.6h.1M148.1 138.6h.1M145.1 135.5h.1M146.1 134.4h.1M143.4 135.1h.1M147.8 133.2h.1M145.8 136.8h.1M147.6 132.6h.1M147.5 137.5h.1M146 133.5h.1M147.1 133.7h.1M143.5 136.2h.1M145.1 132.5h.1M142.7 136.6h.1M147.9 134.7h.1M147.2 137.6h.1M148.7 135.9h.1M148.6 129.9h.1M149 135.2h.1M145.8 133.5h.1M143.4 134.3h.1M145.4 133.9h.1M149.9 138h.1M147.1 134.2h.1M148.3 134.7h.1M147.5 136.6h.1M147.2 138.5h.1M145.6 134.7h.1M144.1 136.2h.1M147.8 135.3h.1M144.5 136h.1M149.2 134h.1M147.2 132.8h.1M147.4 133.9h.1M146.2 133.7h.1M143 134.3h.1M144.5 134.7h.1M147.9 134.6h.1M143.8 134.7h.1M143.9 135.2h.1M148.9 136.2h.1M142.3 137.9h.1M146 133.5h.1M146.8 131.6h.1M149.7 139h.1M148.1 134.3h.1M147 138.4h.1M142.9 136.2h.1M145.7 138.8h.1M143 137.1h.1M146.6 135h.1M143.6 135h.1M148 134.4h.1M147.3 133.2h.1M145.1 136.2h.1M146.9 135h.1M146.5 136.2h.1M146.3 136.3h.1M146.2 133.2h.1M147.5 135.5h.1M146.3 135.3h.1M145.5 137.6h.1M146.8 138.2h.1M144.9 134.9h.1M148.4 130.6h.1M147.7 134.7h.1M142.4 136.3h.1M145.6 133.5h.1M145.9 136.1h.1M146 134.9h.1M147.1 136.3h.1M148.6 132.1h.1M148.9 135h.1M142.6 136h.1M147.8 134.4h.1M142.7 138.2h.1M148.1 133.5h.1M147 134.2h.1M144.7 137.2h.1M145.3 132.6h.1M145.3 136.9h.1M148.4 133.2h.1M145.1 131.2h.1M145.4 138.2h.1M146.9 138.2h.1M149.2 134.5h.1M145.1 133.6h.1M146.6 131.7h.1M144.8 136.2h.1M148 137.6h.1M144 133h.1M146.8 134.9h.1M146.9 138h.1M145.4 136.9h.1M148.3 134.2h.1M149.6 138.1h.1M146.2 132.7h.1M146.8 136h.1M146.5 137.1h.1M148.3 131.9h.1M147.6 133.8h.1M146.3 134.3h.1M144.8 135.5h.1M145.6 135.1h.1M146.2 134.1h.1M149.2 139.2h.1M147.7 138.6h.1M142.2 134.8h.1M145.2 134.1h.1M148.4 135.7h.1M148.2 135h.1M142.9 137h.1M145.9 133.9h.1M149 130.9h.1M144.8 135.9h.1M145.4 133.7h.1M144.2 136.2h.1M148.1 135.2h.1M146.5 136h.1M146.5 134h.1M144.9 136.1h.1M148.1 132.6h.1M145.5 135.5h.1M144.7 136.7h.1M145.8 135.5h.1M143.7 130.7h.1M145.1 136.7h.1M150.4 132.5h.1M144.7 137.6h.1M144.5 136h.1M146.1 135.3h.1M146.7 136h.1M146.9 133.8h.1M146.6 135.3h.1M143 135.6h.1M145.2 136.6h.1M142 138.3h.1M147.4 133.3h.1M146.9 134.2h.1M147.6 133.3h.1M142.3 135h.1M146.2 135.1h.1M144.3 135.4h.1M143.9 134.2h.1M144.6 136.8h.1M143.2 135.7h.1M142.7 138.4h.1M146.7 133.4h.1M146.6 135.8h.1M147.5 139.1h.1M146.7 136.9h.1M146.2 135.3h.1M146.9 136.8h.1M145.5 133.2h.1M146.3 136.2h.1M145.8 136.2h.1M141.9 137.6h.1M146.8 136.2h.1M149.3 135.7h.1M148.9 133.3h.1M145.7 134.5h.1M146.7 133.2h.1M146.5 136.2h.1M149.3 130.9h.1M149.2 134.2h.1M144.7 134.2h.1M144.6 136.1h.1M145 134.6h.1M148.9 136.5h.1M142.5 139.1h.1M144 133.8h.1M143.5 135.8h.1M144.8 136.2h.1M147.2 133.4h.1M144.1 135.1h.1M147.6 134.4h.1M149.2 134.7h.1M146.4 134.2h.1M148.3 136.8h.1M145.7 136.5h.1M146.8 135h.1M145.6 136h.1M148.2 131.5h.1M146.7 132.3h.1M147.3 132.4h.1M147.8 135.2h.1M148 137.5h.1M144.3 134.9h.1M146.6 133h.1M144.8 134h.1M145.4 135.9h.1M146.1 132.9h.1M147.2 133.3h.1M146.1 136.6h.1M145.7 137.7h.1M148.5 134.8h.1M147 135h.1M142.2 135.9h.1M146.8 136.1h.1M145.3 130.1h.1M147.3 135.3h.1M147.5 135.2h.1M149.2 133.7h.1M145.5 134.8h.1M147.7 135.5h.1M145.8 134.5h.1M144.9 136.9h.1M143.2 134.7h.1M146.6 135.9h.1M148.8 136.1h.1M145.7 133.5h.1M148.1 136.5h.1M146.3 136h.1M147.6 135.3h.1M145.8 137.8h.1M147.1 135.8h.1M144.3 134.2h.1M147.5 136.1h.1M149.6 136.4h.1M148.1 134h.1M145.1 135.1h.1M142.6 135.9h.1M146.5 134.3h.1M144 134.4h.1M145.9 136.8h.1M148 136.8h.1M141.9 134.1h.1M145.6 135.2h.1M145.8 134.8h.1M147.5 136.2h.1M146.9 137.1h.1M149.3 135.1h.1M147 137.2h.1M147.4 136.6h.1M142.4 137.7h.1M146.1 136.3h.1M145.5 137.5h.1M145.3 136.2h.1M143.6 134.9h.1M149.2 130.4h.1M149.4 135.5h.1M151.4 135.1h.1M146.5 132.5h.1M143.6 132.5h.1M147.9 136.2h.1M150.8 135.1h.1M145.1 136.9h.1M146.4 133.9h.1M145.2 137.1h.1M150.1 135.4h.1M145.6 136.6h.1M151.3 136.1h.1M145.6 136.1h.1M141.9 136h.1M144.1 136.2h.1M144 137.8h.1M144.8 136h.1M146.1 136.5h.1M145.7 134h.1M151.3 133.2h.1M140.4 132.8h.1M143.9 137.6h.1M147 135.4h.1M148.8 131.6h.1M147 135.7h.1M146.6 132.7h.1M148.2 135.5h.1M146.2 139.5h.1M145.9 135.2h.1M147.7 132.6h.1M142.6 134.6h.1M146.7 135.2h.1M144.5 134.2h.1M147.4 136h.1M146.1 130.2h.1M150.2 137h.1M148.2 133.8h.1M147.5 134.2h.1M144.5 138.3h.1M148.2 136.5h.1M140.7 131.9h.1M149.1 130.5h.1M149 136h.1M147.2 133.4h.1M148.6 131.8h.1M142.8 137.5h.1M145.3 134.5h.1M144.2 136.1h.1M148.3 132h.1M148.3 132.9h.1M151.1 132.8h.1M143.8 135.9h.1M144.2 137.6h.1M147.9 130.2h.1M145 132.9h.1M144.8 133.1h.1M148.4 134.2h.1M146.7 132.6h.1M145.1 135h.1M149.7 136.2h.1M146.4 134.8h.1M142.8 138.4h.1M146.1 134.5h.1M146.7 130h.1M144.8 134.8h.1M149.5 134.3h.1M147.5 132.6h.1M148.6 133.5h.1M149.1 136.8h.1M146 135.7h.1M146.1 131.9h.1M147 131.2h.1M145.7 136.2h.1M150.7 134.7h.1M144.4 132.1h.1M143.1 134.9h.1" stroke="#000" stroke-width=".8" stroke-linecap="square" fill="none"/>
<path d="M121.4 94.3H175.1V140.2H121.4Z M138 94.3V140.2 M121.4 127.3H175.1" class="ln"/>
<path d="M121.4 140.2v2.2M121.4 140.2h-2.2M125.4 140.2v1.2M121.4 136.7h-1.2M127.8 140.2v1.2M121.4 134.7h-1.2M129.5 140.2v1.2M121.4 133.3h-1.2M130.8 140.2v1.2M121.4 132.2h-1.2M131.8 140.2v1.2M121.4 131.3h-1.2M132.7 140.2v1.2M121.4 130.5h-1.2M133.5 140.2v1.2M121.4 129.8h-1.2M134.2 140.2v1.2M121.4 129.3h-1.2M134.8 140.2v2.2M121.4 128.7h-2.2M138.9 140.2v1.2M121.4 125.3h-1.2M141.2 140.2v1.2M121.4 123.3h-1.2M142.9 140.2v1.2M121.4 121.8h-1.2M144.2 140.2v1.2M121.4 120.7h-1.2M145.3 140.2v1.2M121.4 119.8h-1.2M146.2 140.2v1.2M121.4 119h-1.2M146.9 140.2v1.2M121.4 118.4h-1.2M147.6 140.2v1.2M121.4 117.8h-1.2M148.2 140.2v2.2M121.4 117.2h-2.2M152.3 140.2v1.2M121.4 113.8h-1.2M154.7 140.2v1.2M121.4 111.8h-1.2M156.3 140.2v1.2M121.4 110.3h-1.2M157.6 140.2v1.2M121.4 109.2h-1.2M158.7 140.2v1.2M121.4 108.3h-1.2M159.6 140.2v1.2M121.4 107.6h-1.2M160.4 140.2v1.2M121.4 106.9h-1.2M161.1 140.2v1.2M121.4 106.3h-1.2M161.7 140.2v2.2M121.4 105.8h-2.2M165.7 140.2v1.2M121.4 102.3h-1.2M168.1 140.2v1.2M121.4 100.3h-1.2M169.8 140.2v1.2M121.4 98.9h-1.2M171.1 140.2v1.2M121.4 97.8h-1.2M172.1 140.2v1.2M121.4 96.8h-1.2M173 140.2v1.2M121.4 96.1h-1.2M173.8 140.2v1.2M121.4 95.4h-1.2M174.5 140.2v1.2M121.4 94.8h-1.2M175.1 140.2v2.2M121.4 94.3h-2.2" class="tk"/>
<path d="M121.2 94.3V140.6" stroke="#000" stroke-width="1.3" fill="none" stroke-opacity=".6"/>
<path d="M120.8 140.5H175.1" stroke="#000" stroke-width="1.2" fill="none" stroke-opacity=".45"/>
<text x="119.2" y="148.9" class="s" font-size="6.1" textLength="5.5" lengthAdjust="spacingAndGlyphs">10</text>
<text x="124.5" y="145.2" class="s" font-size="4.6" textLength="2.3" lengthAdjust="spacingAndGlyphs">0</text>
<g transform="translate(118 140.2) rotate(-90)">
<text x="-4.1" y="0" class="s" font-size="6.1" textLength="5.4" lengthAdjust="spacingAndGlyphs">10</text>
<text x="2" y="-3.7" class="s" font-size="4.6" textLength="2.3" lengthAdjust="spacingAndGlyphs">0</text>
</g>
<text x="132.1" y="148.9" class="s" font-size="6.1" textLength="5.5" lengthAdjust="spacingAndGlyphs">10</text>
<text x="137.4" y="145.2" class="s" font-size="4.6" textLength="2.3" lengthAdjust="spacingAndGlyphs">1</text>
<g transform="translate(118 128.7) rotate(-90)">
<text x="-4.4" y="0" class="s" font-size="6.1" textLength="5.4" lengthAdjust="spacingAndGlyphs">10</text>
<text x="1.7" y="-3.7" class="s" font-size="4.6" textLength="2.3" lengthAdjust="spacingAndGlyphs">1</text>
</g>
<text x="145" y="148.9" class="s" font-size="6.1" textLength="5.5" lengthAdjust="spacingAndGlyphs">10</text>
<text x="150.2" y="145.2" class="s" font-size="4.6" textLength="2.3" lengthAdjust="spacingAndGlyphs">2</text>
<g transform="translate(118 117.2) rotate(-90)">
<text x="-4.7" y="0" class="s" font-size="6.1" textLength="5.4" lengthAdjust="spacingAndGlyphs">10</text>
<text x="1.4" y="-3.7" class="s" font-size="4.6" textLength="2.3" lengthAdjust="spacingAndGlyphs">2</text>
</g>
<text x="157.8" y="148.9" class="s" font-size="6.1" textLength="5.5" lengthAdjust="spacingAndGlyphs">10</text>
<text x="163.1" y="145.2" class="s" font-size="4.6" textLength="2.3" lengthAdjust="spacingAndGlyphs">3</text>
<g transform="translate(118 105.8) rotate(-90)">
<text x="-5" y="0" class="s" font-size="6.1" textLength="5.4" lengthAdjust="spacingAndGlyphs">10</text>
<text x="1.1" y="-3.7" class="s" font-size="4.6" textLength="2.3" lengthAdjust="spacingAndGlyphs">3</text>
</g>
<text x="170.7" y="148.9" class="s" font-size="6.1" textLength="5.5" lengthAdjust="spacingAndGlyphs">10</text>
<text x="176" y="145.2" class="s" font-size="4.6" textLength="2.3" lengthAdjust="spacingAndGlyphs">4</text>
<g transform="translate(118 94.3) rotate(-90)">
<text x="-5.3" y="0" class="s" font-size="6.1" textLength="5.4" lengthAdjust="spacingAndGlyphs">10</text>
<text x=".8" y="-3.7" class="s" font-size="4.6" textLength="2.3" lengthAdjust="spacingAndGlyphs">4</text>
</g>
<text x="148.2" y="154.5" class="sb" font-size="5.9" text-anchor="middle" textLength="16" lengthAdjust="spacingAndGlyphs">SSC-H</text>
<text x="104.8" y="116.4" class="r" font-size="6.2" text-anchor="middle" textLength="20.5" lengthAdjust="spacingAndGlyphs" transform="rotate(-90 104.8 116.4)">IgG1 PE</text>
<path d="M231.6 134.7h.1M226.8 131.1h.1M233.5 135.2h.1M230 130.9h.1M229.9 134h.1M229.9 122.7h.1M228.9 128.7h.1M230.2 119.4h.1M234.3 130.7h.1M232.8 131.1h.1M228.6 123.4h.1M228.3 122.7h.1" stroke="#000" stroke-width=".7" stroke-linecap="square" fill="none" stroke-opacity=".4"/>
<path d="M231.2 107.5h.1M232.9 105h.1M232.6 98.9h.1M235.3 103.8h.1M229.9 108.7h.1M227.9 109.2h.1M230.9 105.5h.1M232.9 108h.1M229.1 105.6h.1M229.2 102h.1M231.5 111.9h.1M231.2 100.9h.1M233.4 106h.1M230.2 113.7h.1M235.9 101.5h.1M232.7 110h.1M232.7 104.6h.1M228.7 107h.1M232 99.2h.1M234.5 106.8h.1M230.6 104.4h.1M234.4 107.2h.1M232.6 102.2h.1M233.4 105.5h.1M231.9 106.5h.1M233 110.3h.1M227.9 111.7h.1M230.9 102.2h.1M230.3 110.6h.1M231.3 105.9h.1M230.3 104.4h.1M228.8 106.2h.1M231.9 109.6h.1M231.7 100h.1M231.1 104.6h.1M232.8 101.2h.1M230.4 106.9h.1M232.8 104.3h.1M232.5 101.1h.1M229.5 106.5h.1M232.6 104.7h.1M230.6 105.4h.1M231.8 106.3h.1M230.4 111.3h.1M233.5 104.7h.1M232 106h.1M226.3 111.9h.1M229.4 106.6h.1M228.8 107h.1M230.6 104.4h.1M232.4 103h.1M231.2 103.5h.1M227.9 109h.1M227.2 99.9h.1M231.1 104.5h.1M230.6 107.3h.1M232.6 109.1h.1M232.1 111.1h.1M231.5 100.1h.1M233.7 102h.1M231.7 105.3h.1M232.4 98.7h.1M230.2 104h.1M231.8 106.2h.1M234.2 103.2h.1M229 100.5h.1M228.8 110.4h.1M230.2 103.3h.1M233.1 104.9h.1M231.2 99.7h.1M229.7 106.7h.1M232.2 108.7h.1M231 109.7h.1M231.1 109.5h.1M228.7 109.7h.1M227.7 105h.1M231.9 100.3h.1M230.1 112.1h.1M232.4 100.6h.1M234.8 100.3h.1M232.6 107.9h.1M228.9 107.9h.1M231.6 110.8h.1M230 105.2h.1M231.7 109.8h.1M232.8 116h.1M230.5 104.3h.1M232.2 105.3h.1M231.4 103.9h.1M232 105h.1M232.7 103.5h.1M231 109h.1M233.2 108.3h.1M233.5 105.6h.1M229.5 110.4h.1M230.8 102.8h.1M231.1 107.9h.1M227.6 106.4h.1M229.5 111.4h.1M233.5 106.2h.1M232.2 98.4h.1M231.3 106.1h.1M231.5 101.1h.1M232.9 104h.1M229 111.5h.1M233.9 112.2h.1M230.1 108.7h.1M230.4 108.6h.1M229.2 109.5h.1M231.7 105.1h.1M229.5 100.2h.1M230.9 109.6h.1M229.4 108.3h.1M233.2 105h.1M233.5 106h.1M229.7 109h.1M228.6 108.4h.1M228.7 111.7h.1M232.5 105.3h.1M228.7 112.2h.1M229.4 106.2h.1M230.9 105.1h.1M233.8 100.6h.1M231.2 103.2h.1M230.6 97.3h.1M232.3 100.8h.1M228 107.4h.1M229.1 111.1h.1M232.8 101.9h.1M233.1 103.7h.1M232.1 105h.1M231.8 105.7h.1M230.5 99.4h.1M230.6 104.6h.1M234.3 112.2h.1M229.3 111.1h.1M233.4 102.3h.1M231 107.1h.1M228.2 111.9h.1M232.1 104.9h.1M229.6 109.5h.1M231.8 106.4h.1M231.8 102.9h.1M235.3 103.8h.1M230 102.7h.1M227.5 108.4h.1M231.9 107.1h.1M232.3 103.5h.1M230.6 108.4h.1M229.7 108.1h.1M232 105.9h.1M232.4 103.8h.1M230.3 103.8h.1M232.6 105.9h.1M231.2 106.8h.1M231 110.1h.1M228.9 101h.1M229.9 108.2h.1M232.3 104.4h.1M233.4 103.2h.1M233.2 100.3h.1M230.9 114.8h.1M230.8 109.1h.1M229.5 107.5h.1M229.7 109.1h.1M230.4 100.8h.1M232.9 104.7h.1M233.3 105.7h.1M231.8 105.8h.1M232.1 100.6h.1M229.4 106.1h.1M230.8 112.8h.1M232.4 109.2h.1M231.2 107.8h.1M232.2 107.9h.1M228.7 117.7h.1M233.9 106.5h.1M230.5 104.6h.1M229.9 100.9h.1M231.3 106.7h.1M224.3 110.7h.1M230.5 99.6h.1M234.8 102.2h.1M230 106.7h.1M232.8 103.8h.1M228 99.9h.1M228.5 103.4h.1M228.2 103.5h.1M233.6 109.1h.1M227.6 107.7h.1M231.6 101.7h.1M229.6 109.5h.1M232.3 98.7h.1M229.1 105.7h.1M229.8 108.9h.1M231.8 102h.1M227.9 104.4h.1M227.3 102.1h.1M234.8 100.5h.1M231.2 108.8h.1M232 106.8h.1M231.1 109.7h.1M231.8 103.3h.1M231.1 115.5h.1M231.9 99.1h.1M228.8 103.8h.1M226.3 100.7h.1M229.9 108.5h.1M234 105.1h.1M229.9 114.8h.1M227.7 106.3h.1M233.9 102.6h.1M230 97.9h.1M232.5 105.1h.1M232.1 102.5h.1M228.8 109.4h.1M233.4 100.6h.1M232.3 106.3h.1M232 106h.1M233.2 98.2h.1M227.6 110.6h.1M230.9 110.3h.1M234 104.4h.1M233.5 107.3h.1M228.4 110.1h.1M232.3 104.2h.1M229.9 109.3h.1M231.8 112.4h.1M229.7 102.9h.1M233.7 105.8h.1M235 101.9h.1M233.1 104.6h.1M233.2 103.2h.1M231.6 104.3h.1M230.9 106.6h.1M234 102h.1M232.8 106.1h.1M231.8 97.7h.1M230.1 109.9h.1M229.2 105h.1M232.9 102.4h.1M232.8 109h.1M231.3 108.9h.1M231.4 108.3h.1M228.6 110h.1M229.9 107.7h.1M229.5 103.5h.1M232.3 107.6h.1M230.9 107.8h.1M231.2 108.4h.1M229.9 106.2h.1M231.4 105.1h.1M228.2 105.2h.1M234.5 109.1h.1M231.3 103.2h.1M232.2 107.5h.1M232.1 103.8h.1M229.7 102.7h.1M233.8 103.4h.1M231.6 100.4h.1M231 105h.1M233.2 104.6h.1M229.6 103.8h.1M232.5 103.8h.1M234.5 104.3h.1M230.4 106.5h.1M232.1 101h.1M228.8 108h.1M231.7 102.9h.1M231.8 102.2h.1M228.3 107h.1M234.3 102.5h.1M235.1 106.5h.1M227.8 108.8h.1M232.1 103.6h.1M230.5 114.4h.1M230.8 110.9h.1M232 97.5h.1M231.4 100.3h.1M230.9 102.3h.1M231.8 110h.1M230.5 102.1h.1M231.7 105.5h.1M230 105.7h.1M232.9 109.3h.1M235 102.1h.1M231.3 107.7h.1M230.7 105.7h.1M233.8 109.4h.1M227.6 110.3h.1M230.9 109.1h.1M229.2 106.3h.1M230.2 106.3h.1M229.3 111.3h.1M230.7 113.6h.1M233.5 104.3h.1M229.7 109h.1M230.8 102.7h.1M233.3 110.6h.1M232.2 101.4h.1M232.6 107h.1M231 108.1h.1M230.3 103.9h.1M230.4 102.4h.1M230.5 106.2h.1M228.8 111.5h.1M226.9 103.8h.1M230.2 105.3h.1M231.6 95.8h.1M230.1 106.2h.1M233.2 100.4h.1M233.3 102.7h.1M231.3 106h.1M230.6 103.8h.1M232 108.5h.1M230.2 111.1h.1M230.8 111h.1M229.6 106.8h.1M230 105.1h.1M232.2 108.3h.1M230.4 110.5h.1M232.1 103.6h.1M231.2 106h.1M231.3 105.2h.1M231.8 108.7h.1M227.1 106.8h.1M230.4 97.9h.1M231.7 108h.1M233.8 108h.1M232.1 106.3h.1M235.9 106.3h.1M233.6 104.4h.1M231.5 101.2h.1M228.8 109.1h.1M230.6 104.7h.1M230.8 101.7h.1M231.4 110.2h.1M231.9 105.5h.1M228.8 96.9h.1M232.1 107.7h.1M230.7 106.7h.1M230 105h.1M228.8 106h.1M231.6 107.8h.1M230.2 109.2h.1M227 111.5h.1M231.3 110.5h.1M230.8 104h.1M228.1 114.3h.1M232.3 115.7h.1M230.6 107.1h.1M231.9 107.6h.1M228.9 109.8h.1M230.1 111.8h.1M231.8 101h.1M232.4 109.7h.1M229.9 105.1h.1M226.3 109.7h.1M231.5 107.7h.1M230.7 109h.1M233.7 104h.1M229.2 109.3h.1M232 110.2h.1M228.4 109.1h.1M231.7 110.9h.1M230.4 105.9h.1M231.5 98.6h.1M231 105.9h.1M230.8 106.3h.1M234 104.2h.1M233.3 98.9h.1M231.1 101.1h.1M229.4 105.6h.1M229.6 107.2h.1M233.1 104h.1M231.2 110.7h.1M229.8 109h.1M229.9 108h.1M233.6 103.6h.1M231.3 100.2h.1M229.5 108.6h.1M233.9 103.3h.1M231.8 107.1h.1M228.6 114.9h.1M228.8 107.7h.1M231.7 113.6h.1M229.7 104.9h.1M230.3 104.5h.1M234.5 100.2h.1M234.7 104.4h.1M234.5 96.2h.1M232 106.6h.1M231.6 107.5h.1M229 110.4h.1M229 108.9h.1M231.3 109h.1M231.4 108.6h.1M232.9 105.3h.1M232.7 106.3h.1M232 103.7h.1M232.3 104.7h.1M231.6 111.5h.1M233.6 100.2h.1M229.1 111.8h.1M234.8 106.8h.1M232.3 99.6h.1M228.7 101.7h.1M231.7 103.7h.1M234.4 105.5h.1M230.1 105.4h.1M232.2 108.3h.1M231 105.5h.1M233.9 99.3h.1M231.6 107.8h.1M230 109.9h.1M232 104.6h.1M232.1 104.7h.1M231.4 100.8h.1M230.2 109.9h.1M228.6 114.2h.1M231.1 106.5h.1M228.2 102.8h.1M229.6 102h.1M231.3 105.8h.1M233.2 99.9h.1M232.8 102.9h.1M227.9 103.7h.1M233 105.5h.1M227.3 104.1h.1M231.6 109.5h.1M231.4 111.8h.1M232.8 110.8h.1M231.5 100.1h.1M233.1 109.6h.1M230.1 108.5h.1M231 108.7h.1M232.8 107.1h.1M230.2 109.6h.1M230.2 108.6h.1M231.3 107h.1M228.3 107.9h.1M230.7 104.2h.1M229.3 111.6h.1M233.9 104.1h.1M233.5 103.4h.1M232.5 108.7h.1M235.2 105.4h.1M231.6 105.5h.1M230.5 106.6h.1M231.8 98.6h.1M231.8 101.5h.1M230.7 105.1h.1M231.9 106.8h.1M229 109.1h.1M229.4 102.7h.1M231.7 104h.1M228.9 108.4h.1M233.2 108.1h.1M232 102.8h.1M230.1 103.6h.1M233.2 99.9h.1M231.6 105.6h.1M234.2 105.3h.1M230.8 110.1h.1M230.2 105.8h.1M232 109.1h.1M229.3 107.6h.1M233.1 105.8h.1M231.9 101h.1M225.2 116.5h.1M231.1 105.4h.1M231.5 110.5h.1M228.9 110.2h.1M230.6 105.4h.1M230.5 104.3h.1M227.5 111.4h.1M231.6 103.7h.1M231 103.2h.1M229.9 104h.1M230.4 103.6h.1M231.2 103.5h.1M233.1 110.3h.1M232 105.9h.1M230.7 110.7h.1M230.5 108.2h.1M230.2 106.3h.1M232.9 103.6h.1M231.8 101.7h.1M230.2 107.9h.1M233.6 104.7h.1M232.6 105.3h.1M229.6 106.7h.1M232.1 107.5h.1M231.5 103.9h.1M231.9 100.9h.1M232.5 102.9h.1M230.5 99.8h.1M230.2 107.6h.1M229.1 113.4h.1M229.4 102.2h.1M232.3 113.6h.1M234.4 109.6h.1M229.8 107.1h.1M231.4 108.3h.1M231.8 115.6h.1M233.7 113h.1M231.2 112.1h.1M228.9 102.1h.1M229.2 117.4h.1M228.4 108.1h.1M230 114.9h.1M231.7 114h.1M231.6 101.6h.1M229.3 104h.1M231.5 102.5h.1M226.8 106.7h.1M230.2 115.2h.1M233.1 117.3h.1M230.1 112.9h.1M229.5 110.6h.1M232.9 106.6h.1M233.2 119.2h.1M230.5 111.3h.1M226.1 107.9h.1M231.9 111.2h.1M234.3 113.6h.1M228.6 109.5h.1M235.2 107.5h.1M228.6 103.3h.1M232.7 113.7h.1M232.5 106.7h.1M232.1 114.5h.1M228.9 112.6h.1M232.1 112.1h.1M227.5 108.5h.1M230.4 113.9h.1M230.4 104.9h.1M230.6 112.3h.1M228.1 120.7h.1M228.9 124.5h.1M226.7 106.4h.1M234.2 113.2h.1M230.9 111.6h.1M229 109.8h.1M231 115.8h.1M230.4 104.1h.1M233.8 113.9h.1M229.2 106.7h.1M232.8 118.5h.1M227.4 114h.1M230.2 125.6h.1M231.5 118.3h.1M230 112.8h.1M232.5 103.5h.1M230.8 97.6h.1M229.2 113h.1M229.4 110h.1M233.2 116.3h.1M230.4 106.6h.1M229.8 112.2h.1M227.1 108.5h.1M227.4 114.5h.1M228.5 114.1h.1M231.7 102.9h.1M232.8 110.9h.1M229 118h.1M234.7 112.5h.1M230.9 118.5h.1M230.7 106.8h.1M230.9 101.6h.1M228.7 107.5h.1M232.5 104.2h.1M230.8 120.8h.1M231.8 111.9h.1M227.1 117.5h.1M227.6 121.1h.1M232.1 112.4h.1M233.5 98.8h.1M230 98.6h.1M229.9 115.7h.1M230.3 116.3h.1M229.4 105.5h.1M228.1 114.8h.1M228.2 115.3h.1M233.2 111.4h.1M229.3 104.4h.1M232.1 117.7h.1M227.3 106.6h.1M231.7 113.9h.1M233.1 102.5h.1M229.8 106.5h.1M232.6 115.5h.1M231.1 105.4h.1M235.6 101.1h.1M230 110.8h.1M230 110.5h.1M228.3 105.4h.1M230.3 113.4h.1M232 114.2h.1M228.9 113h.1M233.3 120.2h.1M229.4 108.4h.1M231 118.6h.1M233.3 109.9h.1M229.3 103.8h.1M230.9 103.7h.1M230 102.4h.1M228.9 100.4h.1M231.7 112.8h.1M226 102.7h.1M228.3 109.8h.1M230.2 111.7h.1M231.1 109.6h.1M228.7 116.6h.1M227.8 105.1h.1M233.8 104.9h.1M231.7 116.8h.1M231.7 116.6h.1M230.8 110.5h.1M232.9 104.6h.1M231.2 106.5h.1M227.8 116h.1M230.5 121.1h.1M232.6 106.7h.1M227.1 110.9h.1M229.3 105.8h.1M230.6 117h.1M230.5 111.4h.1M229.2 113.9h.1M230.9 107.1h.1M231.2 117.7h.1M234.3 112.9h.1M228.8 117.1h.1M230.4 109.4h.1M228.2 108.1h.1M232.8 112.5h.1M231.3 112.4h.1M231.7 117.7h.1M231.5 117.6h.1M234.2 102.8h.1M229.8 100.6h.1M231 117.9h.1M231.6 108.4h.1M228.2 109.2h.1M227.2 115.9h.1M232.2 111.4h.1M230.7 111.3h.1M232.1 113.2h.1M230.4 109.3h.1M230 110.6h.1M230 108.7h.1M230.9 112.8h.1M229.7 108.2h.1M229.6 119.8h.1M233.1 113h.1M232.7 110.1h.1M230.4 116.8h.1M233.9 112.2h.1M229.4 116.3h.1M232.4 114.1h.1M232.8 103.3h.1M230 118.1h.1M234 116h.1M228.2 109.9h.1M230.4 125.7h.1M229.4 104.4h.1M233.5 116.5h.1M231.2 109.6h.1M229 111.5h.1M230.2 116.6h.1M229 117.8h.1M232.8 115.5h.1M228.9 104.1h.1M228.9 118.1h.1M231.3 107.5h.1M229.5 110.8h.1M231 112.4h.1M230.8 103.6h.1M229.4 118.2h.1M227.4 111.2h.1M226.1 106.4h.1M230.7 107.8h.1M229.8 104.4h.1M231.6 104.5h.1M230.8 113.5h.1M230.3 114.4h.1M229.7 119.1h.1M232.2 124.2h.1M224 118.2h.1M225 121.2h.1M229.7 123.9h.1M229 122.1h.1M229.6 124.1h.1M230 122.4h.1M228.9 121.8h.1M230 120.9h.1M229.7 123.4h.1M231.8 127.5h.1M227.7 122.5h.1M227.2 115.8h.1M228.3 119.7h.1M232.4 119.5h.1M225.6 124.5h.1M228.3 128.8h.1M226.9 110.3h.1M228.5 120.2h.1M229.2 120.4h.1M227.2 134.9h.1M230.5 120.4h.1M231.7 126.5h.1M227.9 131.5h.1M229.9 121.5h.1M227.3 123.1h.1M227 123.6h.1M229.8 124.9h.1M229.8 119.9h.1M227 124.5h.1M229.6 121.2h.1M230.8 120.3h.1M227.8 131.3h.1M226.3 116.5h.1M229.1 128.7h.1M230.2 122.9h.1M228.6 123.6h.1M229.5 120.7h.1M227.8 124.6h.1M229 126.9h.1M228.2 118.6h.1M228.9 126.7h.1M229.7 113.4h.1M228.5 119.6h.1M228.4 117.2h.1M226.3 122.4h.1M225.8 126.9h.1" stroke="#000" stroke-width=".8" stroke-linecap="square" fill="none"/>
<path d="M206.4 93.9H260.2V139.3H206.4Z M218.6 93.9V139.3 M206.4 119.3H260.2" class="ln"/>
<path d="M206.4 139.3v2.2M206.4 139.3h-2.2M210.4 139.3v1.2M206.4 135.9h-1.2M212.8 139.3v1.2M206.4 133.9h-1.2M214.5 139.3v1.2M206.4 132.5h-1.2M215.8 139.3v1.2M206.4 131.4h-1.2M216.9 139.3v1.2M206.4 130.5h-1.2M217.8 139.3v1.2M206.4 129.7h-1.2M218.5 139.3v1.2M206.4 129h-1.2M219.2 139.3v1.2M206.4 128.5h-1.2M219.8 139.3v2.2M206.4 128h-2.2M223.9 139.3v1.2M206.4 124.5h-1.2M226.3 139.3v1.2M206.4 122.5h-1.2M227.9 139.3v1.2M206.4 121.1h-1.2M229.3 139.3v1.2M206.4 120h-1.2M230.3 139.3v1.2M206.4 119.1h-1.2M231.2 139.3v1.2M206.4 118.4h-1.2M232 139.3v1.2M206.4 117.7h-1.2M232.7 139.3v1.2M206.4 117.1h-1.2M233.3 139.3v2.2M206.4 116.6h-2.2M237.3 139.3v1.2M206.4 113.2h-1.2M239.7 139.3v1.2M206.4 111.2h-1.2M241.4 139.3v1.2M206.4 109.8h-1.2M242.7 139.3v1.2M206.4 108.7h-1.2M243.8 139.3v1.2M206.4 107.8h-1.2M244.7 139.3v1.2M206.4 107h-1.2M245.4 139.3v1.2M206.4 106.3h-1.2M246.1 139.3v1.2M206.4 105.8h-1.2M246.8 139.3v2.2M206.4 105.2h-2.2M250.8 139.3v1.2M206.4 101.8h-1.2M253.2 139.3v1.2M206.4 99.8h-1.2M254.8 139.3v1.2M206.4 98.4h-1.2M256.2 139.3v1.2M206.4 97.3h-1.2M257.2 139.3v1.2M206.4 96.4h-1.2M258.1 139.3v1.2M206.4 95.7h-1.2M258.9 139.3v1.2M206.4 95h-1.2M259.6 139.3v1.2M206.4 94.4h-1.2M260.2 139.3v2.2M206.4 93.9h-2.2" class="tk"/>
<path d="M206.2 93.9V139.7" stroke="#000" stroke-width="1.3" fill="none" stroke-opacity=".6"/>
<path d="M205.8 139.6H260.2" stroke="#000" stroke-width="1.2" fill="none" stroke-opacity=".45"/>
<text x="204.2" y="148.6" class="s" font-size="6.1" textLength="5.5" lengthAdjust="spacingAndGlyphs">10</text>
<text x="209.5" y="144.9" class="s" font-size="4.6" textLength="2.3" lengthAdjust="spacingAndGlyphs">0</text>
<g transform="translate(203 139.3) rotate(-90)">
<text x="-4.1" y="0" class="s" font-size="6.1" textLength="5.4" lengthAdjust="spacingAndGlyphs">10</text>
<text x="2" y="-3.7" class="s" font-size="4.6" textLength="2.3" lengthAdjust="spacingAndGlyphs">0</text>
</g>
<text x="217.1" y="148.6" class="s" font-size="6.1" textLength="5.5" lengthAdjust="spacingAndGlyphs">10</text>
<text x="222.4" y="144.9" class="s" font-size="4.6" textLength="2.3" lengthAdjust="spacingAndGlyphs">1</text>
<g transform="translate(203 128) rotate(-90)">
<text x="-4.4" y="0" class="s" font-size="6.1" textLength="5.4" lengthAdjust="spacingAndGlyphs">10</text>
<text x="1.7" y="-3.7" class="s" font-size="4.6" textLength="2.3" lengthAdjust="spacingAndGlyphs">1</text>
</g>
<text x="230" y="148.6" class="s" font-size="6.1" textLength="5.5" lengthAdjust="spacingAndGlyphs">10</text>
<text x="235.3" y="144.9" class="s" font-size="4.6" textLength="2.3" lengthAdjust="spacingAndGlyphs">2</text>
<g transform="translate(203 116.6) rotate(-90)">
<text x="-4.7" y="0" class="s" font-size="6.1" textLength="5.4" lengthAdjust="spacingAndGlyphs">10</text>
<text x="1.4" y="-3.7" class="s" font-size="4.6" textLength="2.3" lengthAdjust="spacingAndGlyphs">2</text>
</g>
<text x="242.9" y="148.6" class="s" font-size="6.1" textLength="5.5" lengthAdjust="spacingAndGlyphs">10</text>
<text x="248.2" y="144.9" class="s" font-size="4.6" textLength="2.3" lengthAdjust="spacingAndGlyphs">3</text>
<g transform="translate(203 105.2) rotate(-90)">
<text x="-5" y="0" class="s" font-size="6.1" textLength="5.4" lengthAdjust="spacingAndGlyphs">10</text>
<text x="1.1" y="-3.7" class="s" font-size="4.6" textLength="2.3" lengthAdjust="spacingAndGlyphs">3</text>
</g>
<text x="255.8" y="148.6" class="s" font-size="6.1" textLength="5.5" lengthAdjust="spacingAndGlyphs">10</text>
<text x="261.1" y="144.9" class="s" font-size="4.6" textLength="2.3" lengthAdjust="spacingAndGlyphs">4</text>
<g transform="translate(203 93.9) rotate(-90)">
<text x="-5.3" y="0" class="s" font-size="6.1" textLength="5.4" lengthAdjust="spacingAndGlyphs">10</text>
<text x=".8" y="-3.7" class="s" font-size="4.6" textLength="2.3" lengthAdjust="spacingAndGlyphs">4</text>
</g>
<text x="233.3" y="153.9" class="sb" font-size="5.9" text-anchor="middle" textLength="16" lengthAdjust="spacingAndGlyphs">SSC-H</text>
<text x="191.3" y="115.5" class="r" font-size="6.2" text-anchor="middle" textLength="26" lengthAdjust="spacingAndGlyphs" transform="rotate(-90 191.3 115.5)">CD38 PE</text>
<text x="241.4" y="111.5" class="rb" font-size="5.4" textLength="16.2" lengthAdjust="spacingAndGlyphs">r =332</text>
<path d="M321.3 123.4h.1M315.3 114.7h.1M316 126h.1M317.2 122.4h.1M314.6 118.9h.1M314.2 130.5h.1M323.7 127.2h.1M317.9 123.8h.1M318.3 119.2h.1M320.4 119.5h.1M318 130.4h.1M318.4 126.9h.1M322.8 119.9h.1M322.8 116.6h.1" stroke="#000" stroke-width=".7" stroke-linecap="square" fill="none" stroke-opacity=".4"/>
<path d="M315.5 98.3h.1M317.5 102.9h.1M317.9 102.7h.1M314.7 96.9h.1M314.7 97.7h.1M317.4 99.8h.1M313.6 101.1h.1M318.9 103.1h.1M317 101.6h.1M315.4 100.1h.1M319 103.7h.1M317 103.3h.1M315.8 102.2h.1M321.4 101.5h.1M317 99.6h.1M317.2 101.9h.1M317.7 105.8h.1M316.9 103.5h.1M318.2 104.9h.1M316.2 99h.1M318.8 103h.1M317.5 99.6h.1M317.4 103.5h.1M319.1 103.3h.1M314.9 103.1h.1M317.1 105.2h.1M318.4 101.6h.1M319 105.2h.1M316.7 102.7h.1M315.9 100.9h.1M318.8 101.8h.1M313.7 103.9h.1M319.2 101.2h.1M313.7 103.8h.1M315.1 102.9h.1M318.9 101.1h.1M317 96.7h.1M315.4 102.3h.1M319.5 104.6h.1M317.7 101.3h.1M316 104.1h.1M318.3 100.5h.1M317.9 105.1h.1M316.7 106.2h.1M318.6 103.2h.1M318.1 103.7h.1M314.5 99.3h.1M317.6 105.9h.1M317.7 101h.1M318.1 104h.1M315.4 107.1h.1M319 103.5h.1M314.2 103.1h.1M316.2 103.6h.1M316.5 101.2h.1M317.3 101.2h.1M316.8 105.3h.1M317.5 100.9h.1M318.2 101.9h.1M320.9 99.7h.1M316.4 103h.1M318.4 100.3h.1M316.7 102.1h.1M317.1 101.9h.1M315.7 102.3h.1M316.3 100.9h.1M319.7 102.1h.1M317 105.1h.1M317.8 104.7h.1M314.8 103.8h.1M318.2 103.8h.1M318.2 99h.1M317.9 102.1h.1M319.3 103.3h.1M317.2 103.2h.1M316.1 103.8h.1M318.1 99.7h.1M318 103.6h.1M320.6 101.5h.1M316.4 103.2h.1M317.5 106.4h.1M319.8 104h.1M317 102.5h.1M321.6 100.9h.1M321.5 105h.1M317.4 98.2h.1M318.6 100.9h.1M319.1 97.2h.1M316.1 102.1h.1M315.7 100.7h.1M319.6 101.5h.1M319.1 100.4h.1M316.5 106.9h.1M316.1 104.3h.1M315 104.1h.1M314.5 100.8h.1M319 104.4h.1M318 102.5h.1M317 101.7h.1M314.5 98.9h.1M315.6 102.6h.1M317.5 96.7h.1M314.8 100.6h.1M317.3 97.4h.1M316.1 103.3h.1M313.8 103.5h.1M318.2 104.5h.1M315.7 99.3h.1M313.1 104.6h.1M316.6 106.9h.1M314.3 101.1h.1M318.8 100.5h.1M316.3 101.1h.1M316.9 101.1h.1M319.1 104.5h.1M313.8 100.9h.1M317.4 103.4h.1M319 102.5h.1M318.1 100.4h.1M315.2 102.4h.1M317.9 102.6h.1M320.4 103h.1M315.4 103h.1M316.1 101.7h.1M318.4 103.5h.1M317.1 98.6h.1M316.8 101.3h.1M320.5 105.5h.1M315.8 103.1h.1M318.9 101.9h.1M314.7 100.6h.1M314.5 100.7h.1M317.1 102.1h.1M318.6 98.4h.1M316.3 101.6h.1M320.4 102.1h.1M317.2 97.6h.1M318.3 98.6h.1M317.7 102.2h.1M315.2 101.5h.1M319.6 106.7h.1M319.9 107.1h.1M319.9 95.9h.1M319.6 101h.1M319.7 105.2h.1M319 103.3h.1M319.7 105.8h.1M317.8 105.3h.1M315.8 102.1h.1M318.2 105h.1M319.1 102.4h.1M315.8 99.6h.1M317.1 102.8h.1M319.4 105.5h.1M316.5 104.3h.1M322.3 101.9h.1M318.4 105.8h.1M319.8 105.7h.1M319 105.7h.1M319.5 98.4h.1M317.7 100.7h.1M315.9 101h.1M314.7 100.8h.1M314.3 97.6h.1M315.6 101.1h.1M313.6 104.8h.1M316.6 100.2h.1M315.3 107.2h.1M315.9 100.2h.1M315.6 103.3h.1M318.7 102.1h.1M315.9 99.7h.1M315.7 102.9h.1M320.3 103h.1M316.6 102.3h.1M320 105.3h.1M316.4 104.2h.1M316.8 99h.1M317.7 105.5h.1M314.5 100.3h.1M320.2 98.4h.1M320.6 104.5h.1M316.4 105h.1M319.4 100.6h.1M317.7 102.6h.1M316.3 100.9h.1M320.4 104.1h.1M315.2 101.3h.1M317.1 103.1h.1M319.1 99.8h.1M316.8 103.7h.1M318.1 102.7h.1M314.7 108.1h.1M316.8 105.5h.1M317.4 101.3h.1M314.7 99.5h.1M315.6 104h.1M316 100.5h.1M316.7 104.2h.1M317.6 104.9h.1M316.5 105.8h.1M314 105.7h.1M317.3 105.2h.1M319.7 102.6h.1M317.2 102.4h.1M316.4 102.9h.1M317.2 106.1h.1M318.4 101.8h.1M314.5 102.4h.1M320.3 104.6h.1M316.6 99.8h.1M320.9 101.9h.1M315.9 102.5h.1M315.3 101.5h.1M317.6 101.3h.1M319.1 103.5h.1M318.2 100.5h.1M317.6 103.8h.1M317.8 101.8h.1M317.6 99h.1M319.4 96.4h.1M317.1 100.1h.1M318.6 103.6h.1M316.1 102h.1M316.9 101.1h.1M315.8 102.2h.1M316.7 103.3h.1M316.2 101.8h.1M314.3 100h.1M319.1 105.5h.1M318 102.4h.1M318.3 103.5h.1M321.7 101.3h.1M313.3 102.6h.1M318 104.8h.1M317.5 100.4h.1M319.4 102.1h.1M316.1 101.6h.1M316.3 99.8h.1M315.1 106.2h.1M318.6 99.9h.1M320.9 103.8h.1M315.8 100.7h.1M317.5 102.1h.1M317.7 101.4h.1M316 100.9h.1M313.4 102.1h.1M319 97.3h.1M314 100.2h.1M319.3 102.9h.1M314.7 105.9h.1M319.1 102.5h.1M319.7 100.5h.1M316.2 104.3h.1M315 103.2h.1M316.9 99.8h.1M317.2 100.7h.1M314.9 99.5h.1M316.6 104.7h.1M318.9 99.9h.1M318.4 99.7h.1M319.5 102.8h.1M314.3 104.3h.1M315.5 100.8h.1M317 103.9h.1M316.9 99.2h.1M318.8 104h.1M314.7 102.5h.1M320.2 102.5h.1M319.3 97.5h.1M318.6 104.5h.1M316.6 102.3h.1M314.1 102.5h.1M314.4 99.7h.1M319 105.5h.1M316.8 101.3h.1M320.7 103.3h.1M317.7 101.9h.1M314.5 101.5h.1M319.4 103.9h.1M316.7 103.4h.1M317.3 105.2h.1M318.5 101.2h.1M314.4 103.9h.1M314.9 100h.1M319.9 102.7h.1M314.4 98.4h.1M314.9 102.2h.1M314.6 101.8h.1M314.7 100.6h.1M316.3 100.7h.1M316.1 101.8h.1M315 104.7h.1M316 102h.1M317.7 102.5h.1M312.9 103h.1M316.3 105.4h.1M316.7 104.8h.1M313.6 103.4h.1M319.4 98.7h.1M317.4 103.8h.1M316.8 101h.1M318.1 103.5h.1M317.7 100.8h.1M316.5 103.7h.1M316.5 101.5h.1M314.7 101.3h.1M317.8 103h.1M317.4 99.3h.1M315 104.9h.1M318.3 102.4h.1M320 102.3h.1M314.6 100.2h.1M320.6 104.1h.1M319.5 100.2h.1M319.1 105h.1M316.8 100.5h.1M320.5 102.8h.1M316.6 100.7h.1M318.3 102.6h.1M316.1 104.1h.1M314.7 100.9h.1M318.4 99.9h.1M319.8 102.1h.1M314.6 100.5h.1M317.1 102.9h.1M315.8 99.6h.1M315.3 101.1h.1M316.4 104h.1M319.1 102.9h.1M320 100.3h.1M318.1 101.7h.1M317.4 102.8h.1M318.6 104.2h.1M315.4 100.2h.1M317.6 102.7h.1M316.2 100.3h.1M317.7 98.9h.1M313.9 104.5h.1M318.1 103.8h.1M316.6 103.9h.1M317.6 104.4h.1M317.6 101.9h.1M319.9 105.5h.1M316.6 104.3h.1M314.1 100.7h.1M319.2 101.6h.1M318.9 98.9h.1M316.1 97.9h.1M319.2 104h.1M319.3 103.8h.1M314.9 100.5h.1M315.4 103.7h.1M314.8 102.2h.1M320.3 99.4h.1M313.7 103.5h.1M315.2 103.5h.1M317.9 103.7h.1M319.4 100.9h.1M319.4 99.4h.1M317.9 103.3h.1M318.4 105h.1M319.3 110.1h.1M318.1 98h.1M316.8 101.5h.1M317.7 104.6h.1M318.3 103.9h.1M318.4 104.9h.1M317.6 99.6h.1M315.6 99.6h.1M317.4 104h.1M318.5 97.9h.1M315.1 101.2h.1M315.8 98.8h.1M318 102.8h.1M318.5 102h.1M316.8 105.8h.1M316.8 101.8h.1M317.4 105.5h.1M316.3 103.2h.1M316.3 101.7h.1M313.7 99h.1M316.7 103.8h.1M320.4 101.3h.1M315.9 106.4h.1M316.1 102.2h.1M318.1 103.8h.1M318.7 104.1h.1M321.6 97.1h.1M316.3 101h.1M318.2 103h.1M315.2 103.5h.1M315.6 102.3h.1M315.9 105.8h.1M317 104.7h.1M318.1 104.7h.1M317.7 105.5h.1M315.6 99.3h.1M317.2 104.7h.1M315 102.1h.1M316 99.3h.1M314.9 104.2h.1M316.7 105.7h.1M317.9 104.9h.1M321.3 104.2h.1M315.8 101.6h.1M318.3 107.1h.1M317.7 104h.1M316.6 101.7h.1M315.9 100.2h.1M315 102.4h.1M317.5 98.9h.1M315.9 104.7h.1M317.1 104.9h.1M318.9 102h.1M314.2 99h.1M320 101.2h.1M315.8 106.4h.1M318.4 106.3h.1M317.9 104.1h.1M316.9 106.2h.1M318.1 104.9h.1M319.7 101.7h.1M317.3 101.1h.1M319.3 104.3h.1M320.9 105.5h.1M317.4 97.9h.1M315.6 102.6h.1M316.4 100.3h.1M317.9 98.5h.1M319.1 101.3h.1M313.5 102.5h.1M316.9 103.3h.1M316 102.9h.1M320.5 104.2h.1M315.4 101.7h.1M318.3 100.2h.1M317.3 107.3h.1M318.9 107.6h.1M320.5 100.1h.1M316.7 100.3h.1M314.7 99.6h.1M319.8 103h.1M315.9 102.5h.1M317.5 100.8h.1M318.5 103h.1M314.3 103h.1M316.1 103.6h.1M317.6 102.5h.1M316 101.5h.1M320.7 103h.1M314.6 98h.1M318.8 102.1h.1M316.1 98.5h.1M317.3 103.2h.1M315.8 103.5h.1M318.1 102.6h.1M319.4 102.1h.1M318.2 107h.1M317 105.8h.1M313.3 105.1h.1M317.6 102.9h.1M313.3 104.5h.1M319.1 102.4h.1M315.1 104.5h.1M313.6 98.4h.1M314.1 103.7h.1M317.2 99h.1M315.5 102.6h.1M317.3 103.2h.1M314.7 105.7h.1M318.6 102.4h.1M320.1 101.4h.1M317.3 104h.1M315.2 104.3h.1M314.6 103.3h.1M315.6 101.8h.1M319.2 104h.1M315.9 100.1h.1M314.1 102.6h.1M322.2 101.5h.1M320.2 104.7h.1M320 100.9h.1M315.8 105.6h.1M318.6 106.4h.1M315.3 102.6h.1M316.2 99.7h.1M318.3 103.8h.1M314.9 101.7h.1M317.1 102.9h.1M314.5 103.7h.1M318.8 103.9h.1M316.3 103.3h.1M317.4 98.8h.1M317.5 102.7h.1M315.4 100.7h.1M315.9 103.4h.1M315.5 96.4h.1M313.9 100.1h.1M317.4 101.2h.1M318.8 98.9h.1M319.2 103.3h.1M317 104.1h.1M318.7 104.3h.1M315.3 101.9h.1M316.6 101.2h.1M313.3 105h.1M315.9 101h.1M318 106.4h.1M314.1 104.2h.1M316.9 101.7h.1M321.7 106.1h.1M318.8 105.5h.1M317.3 98.3h.1M319.6 103h.1M318.6 102h.1M316.2 102.1h.1M322.9 107h.1M319.1 105.6h.1M319.1 107.8h.1M319.3 105.1h.1M315.5 102.6h.1M316.9 101h.1M318.7 104h.1M316.6 104.2h.1M317.3 102.3h.1M316.2 101.7h.1M316.2 104.5h.1M319.5 103.2h.1M316.4 107.2h.1M320 101.8h.1M318.4 104.3h.1M314.2 103.4h.1M315.6 108.1h.1M315.8 102.2h.1M319.9 101.7h.1M316.7 103.4h.1M318.9 102.3h.1M319.7 106.1h.1M317.8 104.9h.1M315.7 103.7h.1M317.5 102.8h.1M318.8 97.6h.1M317 100.1h.1M318.7 101.7h.1M315.9 100.3h.1M314.6 104.3h.1M316.2 106.6h.1M317.7 101.4h.1M314.2 100.2h.1M317.6 103.1h.1M316 106.5h.1M314.2 102.1h.1M317.7 100.9h.1M319.9 103.9h.1M314.4 99.5h.1M321.9 100.5h.1M317.4 103.4h.1M315.5 99.9h.1M317.7 102.5h.1M317.3 103h.1M314.6 110.5h.1M319.5 104.7h.1M323.6 105.7h.1M319.5 101.4h.1M315.9 104.3h.1M316.7 100.7h.1M319.6 105.2h.1M317 98.5h.1M316.4 98.9h.1M315.8 109.6h.1M318.1 102.5h.1M318.4 106.4h.1M317.2 102.1h.1M319.6 106.5h.1M320.2 100.4h.1M321.9 100.2h.1M318.8 107.3h.1M319 105.6h.1M319.3 97.1h.1M316.9 101h.1M320.3 103.9h.1M313.3 108.6h.1M319.6 104.2h.1M316.4 103.9h.1M318.6 99.8h.1M321.7 107.7h.1M321.3 106.5h.1M323.2 97.9h.1M316 104.6h.1M320.5 95.1h.1M317.3 103.5h.1M321.5 101h.1M316.1 104.4h.1M319.4 99h.1M316 105h.1M316.8 99.7h.1M314 102.6h.1M318.2 101h.1M316.4 100.5h.1M316.6 107.1h.1M322.9 103.8h.1M315.6 107.4h.1M321.1 103.2h.1M317.2 104.6h.1M317.2 107.8h.1M318.5 103.1h.1M316.7 102.2h.1M325.4 100.8h.1M315.4 101.9h.1M317 106.2h.1M318.2 104.7h.1M321.1 103.3h.1M319.9 104.5h.1M319.5 106h.1M317 105.9h.1M318.4 100.7h.1M321.4 100.8h.1M322 108.8h.1M315.4 103.6h.1M314.5 105.7h.1M321 101.9h.1M318.5 99.8h.1M319.1 101.1h.1M315.1 106.6h.1M319.1 102.2h.1M319.4 106.7h.1M322.1 105.1h.1M324.7 99.7h.1M318.8 101h.1M318.7 104.2h.1M318.2 108.2h.1M318.7 105.8h.1M314.5 96.8h.1M316.8 105.2h.1M316.8 102.8h.1M322.9 104.2h.1M320.4 106.2h.1M316.1 100.5h.1M316.5 106.7h.1M316 103h.1M314.3 100.5h.1M319.6 105.2h.1M320.5 100.7h.1M316.9 100.8h.1M313.8 101.3h.1M317.9 105.1h.1M320.4 106.7h.1M317.1 102.1h.1M314.5 109.5h.1M311.7 127.3h.1M312.2 121.7h.1M312 127.4h.1M311.8 117.1h.1M311 116.3h.1M311.9 123.1h.1M311.4 111.9h.1M311.2 116.7h.1M311 129.9h.1M312 116.9h.1M311.5 121.3h.1M311.8 111.7h.1M311.4 126.9h.1M310.8 113.2h.1M311 113h.1M312.7 122.1h.1M312.2 114h.1M312 108.1h.1M312.2 113.7h.1M311 122.3h.1M312.4 117.7h.1M310.6 123.5h.1M311.3 125.4h.1M311.3 124.1h.1M311.4 129.7h.1M310.5 121.4h.1M312.5 128.9h.1M310.5 118.7h.1M312.3 129.2h.1M312 126.4h.1M311.9 127.5h.1M311.4 123h.1M311.2 125h.1M312.7 127h.1M311.4 127.3h.1M311.2 125.3h.1M312.4 125.6h.1M313.2 120.9h.1M310.9 117.2h.1M311.7 112.4h.1M311.6 121.5h.1M311 116.9h.1M310.9 111.6h.1M312.1 130.8h.1M311.6 128h.1M312.2 122.3h.1M310.7 113.2h.1M310.9 120.7h.1M311.1 121.5h.1M311.6 118h.1M311.9 130.4h.1M311.4 127.3h.1M310.3 113.8h.1M311.1 123.6h.1M312.8 110.3h.1M311.2 124.1h.1M312 125.5h.1M311.4 130h.1M312 104.9h.1M312.3 131.1h.1M310.5 115.1h.1M311.5 125.8h.1M312.7 114.7h.1M311.1 121.5h.1M311.2 124.4h.1M311.8 119.6h.1M312.1 124.6h.1M310.7 118.1h.1M312.4 116.6h.1M311.7 115.9h.1M311.8 111.3h.1M311.9 121h.1M311.6 117.2h.1M312.5 131h.1M311.7 117.9h.1M312 128.8h.1M311.7 103.8h.1M312 124h.1M311.9 123h.1M310.9 128.3h.1M312.3 132.6h.1M311 123.9h.1M312.2 131.8h.1M312 118.9h.1M311 117.7h.1M311.8 127.9h.1M311.5 123h.1M311.9 128.3h.1M311.2 115.5h.1M318.8 115.2h.1M320.2 112.6h.1M319.5 116.3h.1M321.7 119h.1M326.5 116.1h.1M319.1 113h.1M323 118.1h.1M319 108.7h.1M316 117.8h.1M316 110.6h.1M317.2 107.3h.1M314.6 112.8h.1M319.1 110.9h.1M321.1 110.8h.1M314.1 108.9h.1M318.5 114.3h.1M316.5 114.9h.1M322.5 109.7h.1M322.6 116h.1M320.3 111.8h.1M319.7 113.9h.1M318.5 116.3h.1M319.2 115.6h.1M323.3 120.4h.1M321.1 112.1h.1M320.1 115.2h.1M323.9 118.2h.1M320 112.8h.1M320.3 112.3h.1M318.4 109h.1M315.6 108.1h.1M319.7 121.2h.1M318.5 112.1h.1M321.6 116h.1M316.1 113.8h.1M316.3 111.9h.1M319.5 115.3h.1M317.6 115.6h.1M318.1 111.6h.1M319.4 118.9h.1M317 114.2h.1M319 113.2h.1M323.9 115.9h.1M319.6 119h.1M318.6 119.9h.1" stroke="#000" stroke-width=".8" stroke-linecap="square" fill="none"/>
<path d="M290.9 93.5H344.7V138.7H290.9Z M312.5 93.5V138.7 M290.9 111.3H344.7" class="ln"/>
<path d="M290.9 138.7v2.2M290.9 138.7h-2.2M294.9 138.7v1.2M290.9 135.3h-1.2M297.3 138.7v1.2M290.9 133.3h-1.2M299 138.7v1.2M290.9 131.9h-1.2M300.3 138.7v1.2M290.9 130.8h-1.2M301.4 138.7v1.2M290.9 129.9h-1.2M302.3 138.7v1.2M290.9 129.2h-1.2M303 138.7v1.2M290.9 128.5h-1.2M303.7 138.7v1.2M290.9 127.9h-1.2M304.3 138.7v2.2M290.9 127.4h-2.2M308.4 138.7v1.2M290.9 124h-1.2M310.8 138.7v1.2M290.9 122h-1.2M312.4 138.7v1.2M290.9 120.6h-1.2M313.8 138.7v1.2M290.9 119.5h-1.2M314.8 138.7v1.2M290.9 118.6h-1.2M315.7 138.7v1.2M290.9 117.9h-1.2M316.5 138.7v1.2M290.9 117.2h-1.2M317.2 138.7v1.2M290.9 116.6h-1.2M317.8 138.7v2.2M290.9 116.1h-2.2M321.8 138.7v1.2M290.9 112.7h-1.2M324.2 138.7v1.2M290.9 110.7h-1.2M325.9 138.7v1.2M290.9 109.3h-1.2M327.2 138.7v1.2M290.9 108.2h-1.2M328.3 138.7v1.2M290.9 107.3h-1.2M329.2 138.7v1.2M290.9 106.6h-1.2M329.9 138.7v1.2M290.9 105.9h-1.2M330.6 138.7v1.2M290.9 105.3h-1.2M331.2 138.7v2.2M290.9 104.8h-2.2M335.3 138.7v1.2M290.9 101.4h-1.2M337.7 138.7v1.2M290.9 99.4h-1.2M339.3 138.7v1.2M290.9 98h-1.2M340.7 138.7v1.2M290.9 96.9h-1.2M341.7 138.7v1.2M290.9 96h-1.2M342.6 138.7v1.2M290.9 95.3h-1.2M343.4 138.7v1.2M290.9 94.6h-1.2M344.1 138.7v1.2M290.9 94h-1.2M344.7 138.7v2.2M290.9 93.5h-2.2" class="tk"/>
<path d="M290.7 93.5V139.1" stroke="#000" stroke-width="1.3" fill="none" stroke-opacity=".6"/>
<path d="M290.3 139H344.7" stroke="#000" stroke-width="1.2" fill="none" stroke-opacity=".45"/>
<text x="288.7" y="148.5" class="s" font-size="6.1" textLength="5.5" lengthAdjust="spacingAndGlyphs">10</text>
<text x="294" y="144.8" class="s" font-size="4.6" textLength="2.3" lengthAdjust="spacingAndGlyphs">0</text>
<g transform="translate(287.5 138.7) rotate(-90)">
<text x="-4.1" y="0" class="s" font-size="6.1" textLength="5.4" lengthAdjust="spacingAndGlyphs">10</text>
<text x="2" y="-3.7" class="s" font-size="4.6" textLength="2.3" lengthAdjust="spacingAndGlyphs">0</text>
</g>
<text x="301.6" y="148.5" class="s" font-size="6.1" textLength="5.5" lengthAdjust="spacingAndGlyphs">10</text>
<text x="306.9" y="144.8" class="s" font-size="4.6" textLength="2.3" lengthAdjust="spacingAndGlyphs">1</text>
<g transform="translate(287.5 127.4) rotate(-90)">
<text x="-4.4" y="0" class="s" font-size="6.1" textLength="5.4" lengthAdjust="spacingAndGlyphs">10</text>
<text x="1.7" y="-3.7" class="s" font-size="4.6" textLength="2.3" lengthAdjust="spacingAndGlyphs">1</text>
</g>
<text x="314.5" y="148.5" class="s" font-size="6.1" textLength="5.5" lengthAdjust="spacingAndGlyphs">10</text>
<text x="319.8" y="144.8" class="s" font-size="4.6" textLength="2.3" lengthAdjust="spacingAndGlyphs">2</text>
<g transform="translate(287.5 116.1) rotate(-90)">
<text x="-4.7" y="0" class="s" font-size="6.1" textLength="5.4" lengthAdjust="spacingAndGlyphs">10</text>
<text x="1.4" y="-3.7" class="s" font-size="4.6" textLength="2.3" lengthAdjust="spacingAndGlyphs">2</text>
</g>
<text x="327.4" y="148.5" class="s" font-size="6.1" textLength="5.5" lengthAdjust="spacingAndGlyphs">10</text>
<text x="332.7" y="144.8" class="s" font-size="4.6" textLength="2.3" lengthAdjust="spacingAndGlyphs">3</text>
<g transform="translate(287.5 104.8) rotate(-90)">
<text x="-5" y="0" class="s" font-size="6.1" textLength="5.4" lengthAdjust="spacingAndGlyphs">10</text>
<text x="1.1" y="-3.7" class="s" font-size="4.6" textLength="2.3" lengthAdjust="spacingAndGlyphs">3</text>
</g>
<text x="340.3" y="148.5" class="s" font-size="6.1" textLength="5.5" lengthAdjust="spacingAndGlyphs">10</text>
<text x="345.6" y="144.8" class="s" font-size="4.6" textLength="2.3" lengthAdjust="spacingAndGlyphs">4</text>
<g transform="translate(287.5 93.5) rotate(-90)">
<text x="-5.3" y="0" class="s" font-size="6.1" textLength="5.4" lengthAdjust="spacingAndGlyphs">10</text>
<text x=".8" y="-3.7" class="s" font-size="4.6" textLength="2.3" lengthAdjust="spacingAndGlyphs">4</text>
</g>
<text x="317.8" y="153.8" class="sb" font-size="5.9" text-anchor="middle" textLength="16" lengthAdjust="spacingAndGlyphs">SSC-H</text>
<text x="274.8" y="115.5" class="r" font-size="6.2" text-anchor="middle" textLength="26" lengthAdjust="spacingAndGlyphs" transform="rotate(-90 274.8 115.5)">CD38 PE</text>
<text x="326.6" y="109.4" class="rb" font-size="5.4" textLength="16.4" lengthAdjust="spacingAndGlyphs">r = 694</text>
<path d="M406.8 122.7h.1M400.9 124.2h.1M405.6 124.4h.1M405.4 109.3h.1M399.6 126.3h.1M403.1 117.8h.1M401.9 130.3h.1M402 127.4h.1M401.6 125.6h.1M403.1 125.9h.1M400.2 125h.1M399 113.9h.1M403.1 127.6h.1M405.3 114.2h.1" stroke="#000" stroke-width=".7" stroke-linecap="square" fill="none" stroke-opacity=".4"/>
<path d="M400.2 98.1h.1M403.3 97h.1M405.4 99.8h.1M404.4 99.5h.1M405.1 102.4h.1M401.8 102.4h.1M401.3 103h.1M404.7 97.4h.1M401.5 102h.1M402.9 103.3h.1M403.9 101.8h.1M400.5 103.3h.1M398.4 102.1h.1M405 100.3h.1M402.4 103h.1M404.3 101.3h.1M403.6 97.3h.1M399.5 101.5h.1M403.2 98.2h.1M401.5 99.7h.1M402.1 96h.1M401.6 98.8h.1M402.6 101.7h.1M403.3 99.6h.1M401.1 96.3h.1M404 97.9h.1M406.5 103.2h.1M402.4 99.6h.1M405.6 101.8h.1M402.4 104.2h.1M401.9 101h.1M400.9 100.8h.1M405.2 104h.1M402.4 95.9h.1M401.1 101.1h.1M404.7 101.1h.1M402.1 101.7h.1M403.2 101.4h.1M399.2 99.4h.1M401.1 98.1h.1M402 103.3h.1M403.8 102.1h.1M403.7 96.8h.1M403.1 98.5h.1M401.6 102h.1M405.3 101.7h.1M402.2 99.5h.1M402.2 99.8h.1M399.8 99.7h.1M404.3 101.2h.1M404.5 99.7h.1M405 100h.1M401.3 97.8h.1M405.2 102.8h.1M403.5 98.4h.1M398.8 99.4h.1M403 100.2h.1M401.7 99.4h.1M403.8 97.6h.1M400.8 98.4h.1M400.1 99.2h.1M402 95.5h.1M407.4 100.8h.1M401.8 105.3h.1M401.4 98.5h.1M400.9 98.4h.1M399.6 100.2h.1M400.9 98.7h.1M404 97.7h.1M399.9 99.7h.1M401.3 98.7h.1M401.7 98.8h.1M403.7 101.7h.1M402.4 100.5h.1M401.9 101h.1M406.5 102.9h.1M405.7 101.3h.1M403.8 101.8h.1M400.9 99.9h.1M402.7 101.7h.1M398.7 103h.1M399.1 98.8h.1M400.9 100.6h.1M402.4 97.8h.1M403.4 99.6h.1M401.9 99.9h.1M399.7 101.1h.1M402.3 99.2h.1M402.3 103.1h.1M403.7 103.4h.1M404.4 101.9h.1M403.7 104.8h.1M405.1 98.4h.1M403.6 96.3h.1M402.7 99.2h.1M404.6 98.4h.1M403.4 98.2h.1M399.5 98.9h.1M404.1 101.3h.1M403.8 102.8h.1M400.7 99.4h.1M404.4 102.1h.1M400.3 99.9h.1M406.6 100.7h.1M398.7 102.9h.1M403.4 100.2h.1M401.3 100.8h.1M402 100.5h.1M404 98.4h.1M404.1 102.1h.1M404.4 105.3h.1M405.1 100.4h.1M400.6 102.1h.1M402.3 103.1h.1M402.1 100.8h.1M402.8 100.7h.1M398.7 99.4h.1M404.9 97.7h.1M403.7 99.3h.1M404.3 101.7h.1M403.6 102h.1M401.3 98.2h.1M400.9 103.6h.1M401.4 96.6h.1M399.5 97.8h.1M401 100.5h.1M402 97.9h.1M402.9 99.5h.1M401.4 101.2h.1M406.2 98.2h.1M401.4 97.5h.1M403 101.6h.1M403.1 103.5h.1M399.7 99.9h.1M403.2 102.7h.1M399.1 96.4h.1M401.5 98.5h.1M401.3 102.5h.1M401.6 101.4h.1M403.6 100.1h.1M405.2 98h.1M403.1 96.5h.1M404 102.1h.1M401.5 102h.1M400.9 100.3h.1M402.9 101.3h.1M400.7 99.9h.1M403 99.1h.1M404.7 98.8h.1M405.2 99h.1M405.4 98.6h.1M400.6 102.8h.1M404 101.1h.1M403.1 100.3h.1M402.3 103.1h.1M400.8 101.4h.1M403.1 100.5h.1M405.2 100.8h.1M403 101.4h.1M402.5 98.7h.1M405.8 100.7h.1M402.5 98.1h.1M402.9 98.9h.1M406.1 100.1h.1M406.6 99.1h.1M403 101h.1M402.6 101h.1M401.9 104.3h.1M401.4 100.4h.1M401.9 101.3h.1M404.5 99.1h.1M405.9 100.3h.1M401.3 100.3h.1M402.5 102.4h.1M403.5 100.7h.1M403.1 99.9h.1M401.4 98.7h.1M400.4 100.3h.1M399.4 102h.1M403 97.5h.1M403.4 102.9h.1M402.8 100.4h.1M404.1 97.9h.1M402.2 99.7h.1M402.3 102.2h.1M398.4 102.1h.1M405.8 98.7h.1M400.6 99.6h.1M404.3 103.5h.1M405.7 102h.1M403.1 104.1h.1M403.9 102.6h.1M403 99.7h.1M403.9 100.9h.1M402.5 98.9h.1M400 100.7h.1M402.4 102.5h.1M399.4 101.4h.1M403.6 99.3h.1M403 97.6h.1M404.6 100.6h.1M401.4 95.2h.1M400.2 99.8h.1M403.2 103.3h.1M402 100.1h.1M401.9 96.4h.1M400.8 99.8h.1M401.1 98.8h.1M403.9 102h.1M402.4 96.5h.1M403 100.4h.1M406.3 99h.1M404.9 102.4h.1M402.8 101h.1M404.8 98.5h.1M401.2 101.8h.1M401 99.5h.1M403 102.6h.1M403.4 101.3h.1M403 102h.1M406.2 99.8h.1M400.1 99.3h.1M404.3 99.3h.1M403.6 100.5h.1M404.1 95.7h.1M401.7 103.4h.1M401 100.2h.1M402.2 100.3h.1M402.4 97h.1M400.1 97.4h.1M403.8 97.8h.1M401 101.5h.1M399.7 98.2h.1M403.3 98.4h.1M402.6 101.7h.1M400.1 98.3h.1M401.6 96.1h.1M401.3 94.3h.1M400.9 99.9h.1M400.2 103.6h.1M402.4 101.4h.1M403.5 101.2h.1M401.5 97.7h.1M404.2 103.7h.1M403.1 98.8h.1M405.2 102.8h.1M403.2 105.3h.1M401.6 101.5h.1M403.1 97h.1M402.8 100.5h.1M400.1 98.6h.1M401 99.9h.1M403.7 102.2h.1M401.2 103.8h.1M404 102.6h.1M400 99.8h.1M402.9 101.1h.1M401.8 98.6h.1M400.6 100.7h.1M401.5 99.6h.1M401.3 102.1h.1M406.2 102.3h.1M404 100.9h.1M401.9 100.2h.1M405.7 99.7h.1M402.7 103h.1M402.2 101.8h.1M404.3 102.5h.1M403.2 99.3h.1M402.3 101.5h.1M401.3 100.3h.1M402 101.9h.1M401.5 105.3h.1M400.6 101.8h.1M401.5 101.3h.1M401.3 96.3h.1M400.3 99h.1M400.9 96.4h.1M404.1 99h.1M404.5 102.4h.1M402.8 103.9h.1M401.1 99.9h.1M401.6 95.8h.1M402.7 102.9h.1M404.3 102.3h.1M401.4 99.5h.1M400.4 95.5h.1M400.8 102.4h.1M402.3 99.8h.1M403.3 100.5h.1M405.1 95.9h.1M399 98.1h.1M401.4 103.2h.1M402.8 98h.1M400.1 101.3h.1M401.5 99.7h.1M399.4 100.1h.1M401.9 101.4h.1M404.2 98.4h.1M405.7 100.5h.1M401.4 100.1h.1M402.4 98.3h.1M404.9 100.8h.1M404.1 99.5h.1M403.7 97.4h.1M403.7 103.5h.1M402.2 101.9h.1M400.8 99.4h.1M401.9 101h.1M404.1 96.8h.1M402.6 99.8h.1M404 100.6h.1M403.9 101h.1M403.2 97.5h.1M403.6 99.7h.1M399.9 100.5h.1M401.6 97.7h.1M403.5 104.3h.1M401.8 98.9h.1M400.5 95.9h.1M402.5 99.2h.1M400.5 102.7h.1M404.5 96.7h.1M403.6 104h.1M402.3 101.9h.1M403.6 100.4h.1M401.9 100.7h.1M405.1 103.4h.1M401.2 97.6h.1M405 99.5h.1M402.7 98.9h.1M402.9 101.4h.1M401.4 98.7h.1M402.1 98.9h.1M403.7 99.4h.1M402.5 100.6h.1M402.1 101.7h.1M406.3 98.5h.1M400.9 99.8h.1M401.6 99.9h.1M400.4 101.2h.1M399.2 103.1h.1M403 98.8h.1M403.2 98.2h.1M401.1 99.2h.1M400.4 99.8h.1M403.6 102.2h.1M401.2 99.8h.1M406 101.9h.1M405.3 100.6h.1M403.5 103.6h.1M402.2 100.7h.1M403.7 103.7h.1M399.7 102.3h.1M404.1 97.2h.1M405.5 100.2h.1M399.7 98.6h.1M402 98.6h.1M404.1 100.4h.1M402.7 97.5h.1M402 101.6h.1M405.3 104.4h.1M403.2 104.2h.1M404.4 100.8h.1M401.9 101.4h.1M402.8 98.5h.1M400.3 100.9h.1M399.6 99h.1M400.9 99.8h.1M403.4 100.4h.1M404.6 101.5h.1M400.5 99.7h.1M404.8 103.6h.1M401.4 99.2h.1M400.1 102.1h.1M403.2 100.9h.1M403.4 99.5h.1M401.6 102.7h.1M402.9 100.8h.1M403.5 98.7h.1M403.6 102.1h.1M401.9 98.4h.1M401.4 100.3h.1M408.2 97.9h.1M403.7 101.1h.1M400.9 94.6h.1M403.4 97.5h.1M403.8 99.2h.1M404 101.2h.1M399.8 97.9h.1M402.1 102.6h.1M403.6 99.6h.1M404.4 99.5h.1M405.1 96.3h.1M403 102.2h.1M401.1 98.9h.1M406.6 99.6h.1M400.7 100.8h.1M402.8 102.4h.1M404.9 100.1h.1M402.5 102.5h.1M405.4 100.3h.1M403.8 99.4h.1M404.2 101h.1M405.2 104.7h.1M403.3 101.6h.1M400.1 98.6h.1M404.6 102h.1M404.1 101.9h.1M403.2 99.5h.1M403.4 101.4h.1M401.8 101.1h.1M401.3 97h.1M404 102.3h.1M401.2 96.9h.1M404.3 101.7h.1M402 98.4h.1M401.9 99.1h.1M400.9 100.1h.1M401.8 99.2h.1M403 101.4h.1M402.9 101.2h.1M403.1 104.3h.1M404 99h.1M402.1 99.8h.1M402.9 100.9h.1M401.6 99.1h.1M404.5 98.4h.1M404.8 99.6h.1M403.9 100.3h.1M406 105h.1M401.8 96.2h.1M401.5 99.8h.1M402.7 96.9h.1M407.3 105.2h.1M404 99.7h.1M403.8 102.1h.1M403 95.9h.1M404.9 101.3h.1M403.9 101h.1M405.3 101.8h.1M404.4 103.4h.1M405.8 101.9h.1M399.7 104h.1M402.3 100.5h.1M403 97.7h.1M400.3 101.5h.1M401.9 101.5h.1M404.9 98.7h.1M404 100.9h.1M405.3 100.7h.1M401.2 98.3h.1M405.4 98.1h.1M401.9 103.8h.1M404.5 101h.1M402.2 101.2h.1M405 103.1h.1M403.5 97.7h.1M402.3 99.1h.1M402.5 101h.1M403.5 102.7h.1M406.4 101.2h.1M401.5 100h.1M405 100.3h.1M403.7 100.2h.1M403.9 101.7h.1M404.4 96.1h.1M404.8 104h.1M402.8 97.9h.1M402.5 100.2h.1M401.8 101.3h.1M404.6 97.7h.1M405.4 98h.1M405.2 100h.1M403.9 99.5h.1M403.2 100.7h.1M401.9 99.7h.1M404 101.3h.1M402.4 100.9h.1M401.8 98.3h.1M401.7 99.5h.1M400.7 100.6h.1M403.6 97.9h.1M402.9 96.8h.1M405.5 99.3h.1M402.6 99h.1M408 97.4h.1M403.6 97.8h.1M402.3 103.8h.1M404.5 101.3h.1M402.4 100.2h.1M405.2 103.6h.1M401.5 103.5h.1M400.7 99.5h.1M407.5 105.2h.1M404.2 97.9h.1M403.8 95.7h.1M402 98.1h.1M401.8 101.6h.1M402.4 100.9h.1M403.6 105.3h.1M403.5 104.2h.1M399.8 100.2h.1M405.3 98.5h.1M404.2 97.6h.1M405 102.1h.1M400.6 98.1h.1M402.4 100.4h.1M401.9 99.4h.1M402.9 101.4h.1M399.5 104.9h.1M404.6 100.8h.1M401.9 104.2h.1M399 99.2h.1M404 97.3h.1M401.1 102.2h.1M404.8 93.7h.1M399.4 101.2h.1M401.9 98.6h.1M400.1 98.9h.1M403.8 97.6h.1M400.6 99.9h.1M400.5 97.8h.1M401.4 97.7h.1M401.3 99.9h.1M404.8 102.4h.1M402 100.7h.1M402 100.9h.1M402.9 97.1h.1M403 100.9h.1M403 99.5h.1M401.9 100.7h.1M402 99.6h.1M402 97.5h.1M402.7 100.3h.1M402.6 96.6h.1M405.1 101.7h.1M400.5 103.7h.1M400.5 102h.1M402.8 96.2h.1M403.1 98.3h.1M404.6 100.6h.1M403.8 99.1h.1M403.5 99.7h.1M406.5 100.9h.1M404.7 97.5h.1M401.3 100.6h.1M403.6 101.2h.1M401.2 101.5h.1M403 97.4h.1M401.9 100.6h.1M401.9 100.1h.1M401.1 101.6h.1M402.8 96.2h.1M403.5 97.7h.1M403.7 98h.1M403.1 101.3h.1M402.6 97.7h.1M403.4 95.9h.1M404.9 97.9h.1M404.8 98.9h.1M408.5 96.1h.1M406.9 107h.1M405 100.2h.1M399 97.8h.1M403.8 99h.1M403.2 98h.1M404.9 102.8h.1M402.7 98.9h.1M404.3 97.5h.1M400 102.4h.1M402.5 100.5h.1M401.5 107.2h.1M406.8 96.5h.1M399.9 94.1h.1M398.7 102.2h.1M403.8 99.7h.1M401.8 104.3h.1M408.2 99.9h.1M404.1 103.6h.1M403 98h.1M401 103h.1M403.9 96.9h.1M405.1 93.9h.1M402.4 97.7h.1M403.1 98.2h.1M403.7 104.7h.1M401.6 100.2h.1M400 102.6h.1M404.9 102.6h.1M405 94.9h.1M403.9 103.2h.1M403.5 99.6h.1M404.5 102.3h.1M401.2 101.9h.1M401.5 99.6h.1M404.5 102.7h.1M400 97.6h.1M403.2 96.8h.1M404.4 103.7h.1M400.9 98.9h.1M407 100.6h.1M404.7 102.2h.1M403.5 103.8h.1M401.2 98.7h.1M406.4 98.9h.1M401.5 104.3h.1M407.8 99.7h.1M408.3 102.4h.1M402.6 101.8h.1M406.4 100.5h.1M410 101.7h.1M405.2 101.1h.1M403.5 99.9h.1M406.2 106.3h.1M403.1 103.8h.1M404.8 99.4h.1M400.4 99.7h.1M402.3 97.4h.1M404.6 100.8h.1M403.9 98.4h.1M403.2 101.1h.1M401.1 98.8h.1M401.3 97.4h.1M404.6 98.6h.1M403.3 101.3h.1M404.9 102.4h.1M402.6 101.7h.1M402.2 100.7h.1M401.2 102.8h.1M405.8 101.9h.1M402.3 107.2h.1M401.1 101.8h.1M406.5 100.9h.1M401.5 102.4h.1M405.3 101h.1M406.8 101.7h.1M407.2 100h.1M398.4 97.1h.1M401.9 104.8h.1M404.2 96.5h.1M403.1 98.3h.1M401.7 103.1h.1M407.8 104.6h.1M401.1 101.2h.1M398.8 99.4h.1M401.7 100.6h.1M400.3 100.9h.1M402.5 100.1h.1M401.5 98.1h.1M396.9 115.4h.1M396.5 113.5h.1M397.1 122.9h.1M396.9 137.1h.1M396.5 109.6h.1M398 123.6h.1M396.1 116.4h.1M396.2 126.3h.1M398 124.8h.1M397.2 113.5h.1M397.1 113.9h.1M396.4 107.1h.1M395.7 111.8h.1M396.5 123.2h.1M394.8 127h.1M397.9 122.9h.1M397.1 114h.1M395.9 121.9h.1M396.3 109h.1M397.6 112.2h.1M396.6 124.3h.1M397.9 123.4h.1M397.3 119.5h.1M397.1 120.2h.1M398.1 114.1h.1M397.6 129.9h.1M397.3 127.9h.1M396.4 113h.1M398.9 127.2h.1M397 101.5h.1M396.6 125.6h.1M397.1 128.8h.1M397.2 118.6h.1M397.3 122.1h.1M398 112.2h.1M397.2 116.7h.1M397.6 131.8h.1M397.2 127.5h.1M397.2 125.9h.1M397.8 117.1h.1M395.6 114.9h.1M394.8 123.7h.1M397 113.2h.1M396 116h.1M395.8 121.3h.1M397.4 134.9h.1M396.6 110.8h.1M396.9 122.1h.1M397.1 114.1h.1M396.3 125.3h.1M397.4 125.5h.1M396.7 113.6h.1M396.5 132.5h.1M396.6 111.5h.1M397.9 111.5h.1M396.9 116.6h.1M397.3 127.8h.1M396.5 120.8h.1M396.7 126.5h.1M396.1 126.5h.1M397.3 111h.1M397 110.6h.1M396.7 124.2h.1M398.1 118.9h.1M396.8 123.8h.1M397.5 126.2h.1M397.9 125.5h.1M396.6 125.1h.1M397.7 122h.1M397.3 119.8h.1M397.5 133.1h.1M398.5 123.7h.1M396.4 127.3h.1M396.1 131.8h.1M397.8 123.3h.1M395.8 123.1h.1M396.4 117.1h.1M397 110.3h.1M397.2 119.1h.1M397 121.5h.1M396.5 112.5h.1M396.7 129.3h.1M397.3 125.7h.1M395.8 126h.1M397.1 117.6h.1M394.7 130.5h.1M396.9 136.6h.1M397.3 112.1h.1M396.2 132.9h.1M396.5 123.1h.1M397.5 125.7h.1M398 109.7h.1M396 125.8h.1M397.2 119.5h.1M397.3 119h.1M396.1 118h.1M397.1 118.3h.1M397.5 118h.1M397.8 120.3h.1M397.6 127.2h.1M398.2 116.5h.1M398.7 135.9h.1M396.2 115.4h.1M397.2 120.4h.1M395.8 122h.1M403.8 104.3h.1M403.2 115.6h.1M396.9 116.9h.1M408 112.5h.1M401.7 108.7h.1M401.8 115.2h.1M399.7 113.9h.1M404.3 103.9h.1M401.8 110.7h.1M403.6 112.4h.1M407.6 107.4h.1M407.9 111.7h.1M406.8 109.1h.1M405 111.7h.1M405.9 115.8h.1M404 116.9h.1M405.4 111.5h.1M404.2 111.6h.1M401 108h.1M408.8 112.1h.1M402.6 117.2h.1M401.5 110.8h.1M404.1 107h.1M408.2 110.7h.1M404.8 111.3h.1M402.4 113h.1M403.7 108.1h.1M409 116.7h.1M401 112.5h.1M401.7 109.6h.1M400 112h.1M405.2 117.5h.1M403.4 108.1h.1M405.4 111.3h.1M405.7 114.3h.1M403.5 112h.1M406.6 108.7h.1M404.4 110.4h.1M404.2 116.2h.1M406.7 113.2h.1M405.4 110.5h.1M399.7 108.7h.1M397.8 107.5h.1M407.6 109.3h.1M402.9 116.4h.1M402.7 110.5h.1M405.6 115.8h.1M407.6 112.3h.1M403.7 113.7h.1M406.6 113.3h.1M401.1 114.1h.1M400.2 116.7h.1M398.6 110.8h.1M405.6 107.4h.1M403.1 113.7h.1M404.3 118.4h.1M407.5 115h.1M400.3 110.4h.1M410.8 114.4h.1M404.6 105.9h.1" stroke="#000" stroke-width=".8" stroke-linecap="square" fill="none"/>
<path d="M376.2 92.7H430V138.3H376.2Z M397.9 92.7V138.3 M376.2 108.7H430" class="ln"/>
<path d="M376.2 138.3v2.2M376.2 138.3h-2.2M380.2 138.3v1.2M376.2 134.9h-1.2M382.6 138.3v1.2M376.2 132.9h-1.2M384.3 138.3v1.2M376.2 131.4h-1.2M385.6 138.3v1.2M376.2 130.3h-1.2M386.7 138.3v1.2M376.2 129.4h-1.2M387.6 138.3v1.2M376.2 128.7h-1.2M388.3 138.3v1.2M376.2 128h-1.2M389 138.3v1.2M376.2 127.4h-1.2M389.6 138.3v2.2M376.2 126.9h-2.2M393.7 138.3v1.2M376.2 123.5h-1.2M396.1 138.3v1.2M376.2 121.5h-1.2M397.7 138.3v1.2M376.2 120h-1.2M399.1 138.3v1.2M376.2 118.9h-1.2M400.1 138.3v1.2M376.2 118h-1.2M401 138.3v1.2M376.2 117.3h-1.2M401.8 138.3v1.2M376.2 116.6h-1.2M402.5 138.3v1.2M376.2 116h-1.2M403.1 138.3v2.2M376.2 115.5h-2.2M407.1 138.3v1.2M376.2 112.1h-1.2M409.5 138.3v1.2M376.2 110.1h-1.2M411.2 138.3v1.2M376.2 108.6h-1.2M412.5 138.3v1.2M376.2 107.5h-1.2M413.6 138.3v1.2M376.2 106.6h-1.2M414.5 138.3v1.2M376.2 105.9h-1.2M415.2 138.3v1.2M376.2 105.2h-1.2M415.9 138.3v1.2M376.2 104.6h-1.2M416.6 138.3v2.2M376.2 104.1h-2.2M420.6 138.3v1.2M376.2 100.7h-1.2M423 138.3v1.2M376.2 98.7h-1.2M424.6 138.3v1.2M376.2 97.2h-1.2M426 138.3v1.2M376.2 96.1h-1.2M427 138.3v1.2M376.2 95.2h-1.2M427.9 138.3v1.2M376.2 94.5h-1.2M428.7 138.3v1.2M376.2 93.8h-1.2M429.4 138.3v1.2M376.2 93.2h-1.2M430 138.3v2.2M376.2 92.7h-2.2" class="tk"/>
<path d="M376 92.7V138.7" stroke="#000" stroke-width="1.3" fill="none" stroke-opacity=".6"/>
<path d="M375.6 138.6H430" stroke="#000" stroke-width="1.2" fill="none" stroke-opacity=".45"/>
<text x="374" y="148.1" class="s" font-size="6.1" textLength="5.5" lengthAdjust="spacingAndGlyphs">10</text>
<text x="379.3" y="144.4" class="s" font-size="4.6" textLength="2.3" lengthAdjust="spacingAndGlyphs">0</text>
<g transform="translate(372.8 138.3) rotate(-90)">
<text x="-4.1" y="0" class="s" font-size="6.1" textLength="5.4" lengthAdjust="spacingAndGlyphs">10</text>
<text x="2" y="-3.7" class="s" font-size="4.6" textLength="2.3" lengthAdjust="spacingAndGlyphs">0</text>
</g>
<text x="386.9" y="148.1" class="s" font-size="6.1" textLength="5.5" lengthAdjust="spacingAndGlyphs">10</text>
<text x="392.2" y="144.4" class="s" font-size="4.6" textLength="2.3" lengthAdjust="spacingAndGlyphs">1</text>
<g transform="translate(372.8 126.9) rotate(-90)">
<text x="-4.4" y="0" class="s" font-size="6.1" textLength="5.4" lengthAdjust="spacingAndGlyphs">10</text>
<text x="1.7" y="-3.7" class="s" font-size="4.6" textLength="2.3" lengthAdjust="spacingAndGlyphs">1</text>
</g>
<text x="399.8" y="148.1" class="s" font-size="6.1" textLength="5.5" lengthAdjust="spacingAndGlyphs">10</text>
<text x="405.1" y="144.4" class="s" font-size="4.6" textLength="2.3" lengthAdjust="spacingAndGlyphs">2</text>
<g transform="translate(372.8 115.5) rotate(-90)">
<text x="-4.7" y="0" class="s" font-size="6.1" textLength="5.4" lengthAdjust="spacingAndGlyphs">10</text>
<text x="1.4" y="-3.7" class="s" font-size="4.6" textLength="2.3" lengthAdjust="spacingAndGlyphs">2</text>
</g>
<text x="412.7" y="148.1" class="s" font-size="6.1" textLength="5.5" lengthAdjust="spacingAndGlyphs">10</text>
<text x="418" y="144.4" class="s" font-size="4.6" textLength="2.3" lengthAdjust="spacingAndGlyphs">3</text>
<g transform="translate(372.8 104.1) rotate(-90)">
<text x="-5" y="0" class="s" font-size="6.1" textLength="5.4" lengthAdjust="spacingAndGlyphs">10</text>
<text x="1.1" y="-3.7" class="s" font-size="4.6" textLength="2.3" lengthAdjust="spacingAndGlyphs">3</text>
</g>
<text x="425.6" y="148.1" class="s" font-size="6.1" textLength="5.5" lengthAdjust="spacingAndGlyphs">10</text>
<text x="430.9" y="144.4" class="s" font-size="4.6" textLength="2.3" lengthAdjust="spacingAndGlyphs">4</text>
<g transform="translate(372.8 92.7) rotate(-90)">
<text x="-5.3" y="0" class="s" font-size="6.1" textLength="5.4" lengthAdjust="spacingAndGlyphs">10</text>
<text x=".8" y="-3.7" class="s" font-size="4.6" textLength="2.3" lengthAdjust="spacingAndGlyphs">4</text>
</g>
<text x="403.1" y="153.3" class="sb" font-size="5.9" text-anchor="middle" textLength="16" lengthAdjust="spacingAndGlyphs">SSC-H</text>
<text x="360.2" y="114" class="r" font-size="6.2" text-anchor="middle" textLength="25" lengthAdjust="spacingAndGlyphs" transform="rotate(-90 360.2 114)">CD38 PE</text>
<text x="410" y="105.9" class="rb" font-size="5.4" textLength="18" lengthAdjust="spacingAndGlyphs">r =1353</text>
<path d="M486 108.3h.1M488.3 122.6h.1M491.6 118.6h.1M493.8 109h.1M487.5 119.9h.1M486.7 126.2h.1M487.1 118h.1M495.6 121.3h.1M489.5 108.6h.1M492.9 128.2h.1M491.2 112.3h.1M491.9 106.2h.1M486.2 116.4h.1M492.9 112.4h.1" stroke="#000" stroke-width=".7" stroke-linecap="square" fill="none" stroke-opacity=".4"/>
<path d="M492.5 97.7h.1M488.6 94.4h.1M487.2 99.8h.1M488.7 97.7h.1M492.7 101h.1M486.8 99.4h.1M489.2 99.6h.1M488.8 100.3h.1M492 98.2h.1M487.4 100h.1M488.1 99.8h.1M487.7 98.4h.1M489.6 102.4h.1M487.2 101.7h.1M487.9 100.5h.1M486.6 98.9h.1M490 98.6h.1M489 99.6h.1M489.8 99.4h.1M485.5 101.2h.1M491.2 99.8h.1M489.3 99.3h.1M492.3 99.4h.1M492.6 99.1h.1M487.8 101.7h.1M489.4 99.1h.1M488 98.8h.1M489.2 101.5h.1M490.1 98h.1M488.9 96.3h.1M488.5 100.8h.1M492.4 101.3h.1M485.8 100.6h.1M489.2 97.7h.1M487.4 98.8h.1M487.8 95.8h.1M488.6 98.8h.1M489.6 99.5h.1M486.8 98h.1M491.4 100.5h.1M488.4 100.3h.1M488.5 98.9h.1M486.9 101h.1M489.5 98.9h.1M486.3 99.5h.1M487.8 101.8h.1M490.7 102.9h.1M491.2 96.2h.1M486.6 98.2h.1M485.7 96.5h.1M493.9 99.5h.1M489.7 99.2h.1M489 99.5h.1M487.9 96.2h.1M488.6 99.4h.1M487.8 97.2h.1M488.2 96.7h.1M486 98.7h.1M489.1 98.4h.1M488.5 100h.1M487.9 97.5h.1M487.6 101h.1M487.4 97.7h.1M490.3 97h.1M488.5 96.5h.1M486.9 98.4h.1M489.6 102.7h.1M489.1 99h.1M488.4 96.9h.1M491.5 96.8h.1M491.3 98.9h.1M490.1 96.3h.1M491.4 104.4h.1M492.8 98.7h.1M488.6 97.4h.1M489.6 99.9h.1M487.2 96.8h.1M488.8 97.4h.1M487.1 97.6h.1M489.7 97.8h.1M487.3 99h.1M489.3 98.6h.1M488 98.1h.1M487 101.3h.1M490 94.5h.1M485.3 100.7h.1M492.2 96.9h.1M489.5 101.3h.1M487 99.3h.1M488.3 95.8h.1M487.8 96.5h.1M488.5 98.3h.1M491.1 96.2h.1M489.9 97.6h.1M487.2 101.9h.1M486.2 97.7h.1M489.2 99.5h.1M490.7 98.4h.1M485.8 98.9h.1M490.2 99.3h.1M489.6 101.1h.1M489.9 102.3h.1M493.3 100.8h.1M489.9 94.8h.1M491.8 97.5h.1M489.4 101.8h.1M492.3 100.3h.1M488.3 99.8h.1M489.2 100.7h.1M489.6 97.8h.1M490.1 97.3h.1M489.2 97.5h.1M485.8 98.9h.1M490.3 99.8h.1M490.2 101.2h.1M492.5 100.3h.1M488.1 98.4h.1M490.5 100.8h.1M492.5 97.7h.1M489.8 99.9h.1M487.2 98.6h.1M486.7 98.8h.1M487.9 98.1h.1M489.8 99.5h.1M486.8 96.8h.1M490.5 98.1h.1M486.8 99.4h.1M490.2 100.6h.1M490.8 97.2h.1M487.6 101h.1M492.2 101.1h.1M488.4 100.4h.1M484.3 100.2h.1M489 101h.1M490 98.7h.1M488.2 95.8h.1M490.5 97.2h.1M492.1 101.1h.1M489.8 98.4h.1M490.2 101.9h.1M491.3 101h.1M489.3 98.2h.1M490.9 101.7h.1M488.9 94.3h.1M486.9 100.8h.1M489.8 100.1h.1M487.8 98.6h.1M489 97.6h.1M489.1 97.3h.1M489.7 97.2h.1M484.8 99.2h.1M489.1 98.5h.1M487 97.3h.1M487.1 97.5h.1M491.5 100.6h.1M486.8 99h.1M491.9 98.2h.1M487.7 101.3h.1M491 100.2h.1M490.5 98h.1M488.1 100.7h.1M491.1 97.9h.1M485.2 98.6h.1M489.6 100.5h.1M488.8 100.5h.1M490.7 98h.1M488.1 101.9h.1M489.9 100.6h.1M488.6 100.4h.1M490.5 99.5h.1M490.9 98.6h.1M486.4 98.5h.1M493 102.5h.1M489.1 100h.1M493.6 98.3h.1M488 98.7h.1M489.3 96.7h.1M492.1 98.4h.1M488.6 94.7h.1M491.3 95.7h.1M488.7 97.3h.1M489.5 103.3h.1M489 98.8h.1M489.7 100h.1M493.3 98.2h.1M487.9 103h.1M489.8 100.4h.1M488.6 98h.1M489.3 98.2h.1M489.2 99h.1M489.5 97h.1M490.3 98.6h.1M493.7 100.2h.1M486.3 95.9h.1M488.8 101.4h.1M490.2 101.5h.1M491.9 99.5h.1M486.6 100.2h.1M493.7 99.8h.1M490.6 98.1h.1M493.5 101h.1M491.1 99.7h.1M489.4 98.4h.1M488 96.3h.1M489.9 98.1h.1M489.8 101.2h.1M486.3 100.3h.1M489.5 98.2h.1M488.6 101.7h.1M490.1 98.6h.1M486.9 98.8h.1M487.4 98.7h.1M488.2 96.1h.1M489.8 99.8h.1M487.8 100.8h.1M485.3 98.5h.1M486.5 103.7h.1M491 96.6h.1M490.6 99.6h.1M488.8 98.5h.1M490.3 100.3h.1M487.5 99.2h.1M488.3 100h.1M488.5 97.5h.1M491.6 100h.1M489.3 100.5h.1M487.1 98.7h.1M488.7 95.7h.1M488 95.7h.1M491.2 97h.1M490.3 99h.1M490 96.2h.1M487.9 98.7h.1M490.9 99.1h.1M490.4 96.8h.1M485.9 100.1h.1M488.9 96.7h.1M489.9 99.6h.1M489.5 102.6h.1M489.6 96h.1M489.9 98.7h.1M491 101.6h.1M491 99.1h.1M489.5 97.2h.1M487.2 98.5h.1M484.6 95.8h.1M487 98.1h.1M488.5 99.1h.1M490 97.7h.1M493.2 98.7h.1M490.7 95.3h.1M486.5 101.3h.1M490.3 97.9h.1M487.8 99.1h.1M487.2 98.5h.1M488.3 98.5h.1M491 99.7h.1M488.7 99.8h.1M490.6 98.4h.1M489 97.2h.1M488.1 101.2h.1M489.3 95.7h.1M492.7 100.6h.1M489.1 96.7h.1M491.4 98.2h.1M492 100h.1M492.2 99.2h.1M489.7 98.3h.1M491.1 100.3h.1M490 99.4h.1M486.6 97.7h.1M488 98.1h.1M488.3 96.6h.1M492.9 99.1h.1M487 102.9h.1M487.2 99.7h.1M490.4 100.2h.1M490.4 98.2h.1M489.2 95.7h.1M486.9 98h.1M485.7 99.2h.1M492.4 97.4h.1M488.3 96.6h.1M489.9 98.9h.1M487.9 100.2h.1M487.1 97.3h.1M488.1 102.4h.1M491.8 98h.1M490.7 98.7h.1M494.1 96.8h.1M487.4 100.6h.1M488.4 95.3h.1M489.1 98.5h.1M491.1 99.5h.1M491.9 100.3h.1M487.2 100h.1M489.1 96.9h.1M487.6 100h.1M487.4 98.1h.1M490.8 94.8h.1M489.1 103h.1M490.1 99.8h.1M491.5 100.3h.1M490.7 101h.1M493.3 99h.1M491.4 97.8h.1M489.5 100h.1M488.2 100.9h.1M489.6 101.6h.1M490.9 96.6h.1M489.8 101h.1M487.2 95.6h.1M488.5 100.1h.1M487.4 97.7h.1M493.3 100.6h.1M491.2 100.8h.1M486.8 99.9h.1M488.9 100.8h.1M490.7 100.7h.1M490 99.4h.1M488.7 101.8h.1M484.5 98.7h.1M492 98h.1M487.4 99.4h.1M491.5 97.7h.1M491.3 99.1h.1M488.4 99h.1M488.8 102.5h.1M489.5 102.8h.1M488.6 96.3h.1M489 97.3h.1M488.7 100.7h.1M492.8 99.9h.1M491.1 102.8h.1M486.9 100.9h.1M486.8 98.7h.1M490 104.6h.1M490.7 96.2h.1M488.9 100.1h.1M484.5 101.4h.1M492.4 100.7h.1M486.4 97.6h.1M489.3 96.7h.1M488 100.7h.1M487.8 98.5h.1M486.8 98.8h.1M487.2 99.8h.1M490.8 98.9h.1M493.1 102.4h.1M489.4 101.9h.1M489.9 96.1h.1M490.4 100.3h.1M490.9 99h.1M488.2 96.1h.1M491.1 99.6h.1M488.8 99.3h.1M488.3 97.4h.1M485.5 99.5h.1M489.1 101.9h.1M486.1 97.4h.1M490 96.8h.1M489.9 97.8h.1M486.6 99.8h.1M489.2 102.2h.1M488.5 97.6h.1M488.2 97.2h.1M490.3 97.4h.1M489.9 97.8h.1M488 102.6h.1M485.7 100.6h.1M490.5 94.2h.1M486.4 97.8h.1M487.9 99h.1M489.1 97.3h.1M490.5 98.1h.1M490 98.1h.1M488.3 99.5h.1M490.2 102.1h.1M492.8 99.7h.1M489.6 102.2h.1M488.7 99.7h.1M486.4 98.7h.1M488.7 100.1h.1M486.9 101h.1M485.3 100.9h.1M487.4 100h.1M491.1 96.4h.1M491.2 100h.1M489 101h.1M487 97.1h.1M488 94.5h.1M486 99.6h.1M490.2 101.2h.1M490.5 96.5h.1M488.1 100.6h.1M488.5 97.1h.1M488.7 98.6h.1M487.4 100.4h.1M489.8 96.6h.1M486.7 99.9h.1M487.8 97.8h.1M491.3 102h.1M487.8 98.1h.1M490 99.3h.1M491.2 99.8h.1M490.5 98h.1M491 98.9h.1M489.7 98.3h.1M491.2 101.4h.1M489.1 97.7h.1M486.7 98h.1M488.9 97.6h.1M488.5 98.3h.1M485.9 99.9h.1M490 98.6h.1M490.8 98.4h.1M486.4 97.7h.1M487 98.4h.1M488.4 100.4h.1M488 98.2h.1M491.6 101.2h.1M488.1 103.4h.1M489.8 98.8h.1M486.7 101.9h.1M488.4 96.1h.1M490.1 98.4h.1M487.5 100.4h.1M484.5 99.7h.1M490 97.4h.1M490 100.5h.1M490.7 104.4h.1M491.5 100.6h.1M487.3 96.7h.1M486.9 97.3h.1M484.9 97.4h.1M490.1 99.5h.1M488.9 102.3h.1M488.3 100.8h.1M492.6 103.4h.1M488.9 99.6h.1M489 100.1h.1M488.1 102.3h.1M490.2 99.3h.1M487.9 102.1h.1M490.7 101.7h.1M492.3 97.4h.1M488.1 98.4h.1M491.5 98.8h.1M485.1 98.3h.1M489 99.5h.1M489 97.7h.1M489 101.9h.1M490.9 100.5h.1M494.2 101h.1M492.5 101h.1M490.9 96.9h.1M489.1 100.8h.1M487.7 97.7h.1M489.3 102.7h.1M488.4 96.1h.1M487.5 101.3h.1M489.7 97.3h.1M491.8 99.2h.1M486.8 100.5h.1M492 97h.1M490 98.1h.1M494.2 100.6h.1M487.9 96.2h.1M491.4 95.1h.1M486.7 99.6h.1M487.5 100.8h.1M489.3 102h.1M489.5 100h.1M490.6 99.7h.1M486.7 101.1h.1M488.6 99.2h.1M488.5 100.2h.1M489 93.7h.1M490.8 99.1h.1M492.4 97.5h.1M486.1 96.9h.1M489.9 99.2h.1M488.8 98.6h.1M489.5 102.4h.1M490.5 102.4h.1M490.2 100.9h.1M485.6 102.8h.1M491.2 99.3h.1M489.6 95.4h.1M487.6 96.5h.1M490.6 100.1h.1M489.2 99.3h.1M484.5 98.9h.1M489.8 98.9h.1M492.3 95.3h.1M489.2 99.9h.1M487.4 99.8h.1M491.1 100.4h.1M487.9 98.3h.1M491.1 98.2h.1M491.7 100.3h.1M489.3 95h.1M486.3 98.3h.1M491 98.4h.1M490.1 101.8h.1M488.2 101.8h.1M491.1 102.4h.1M489.4 98.8h.1M484.8 97.7h.1M490.2 99.5h.1M488 100.5h.1M487.8 98.5h.1M492.3 93.6h.1M488.1 99.7h.1M488.9 98.2h.1M487.4 95.6h.1M487.9 97.3h.1M489.4 98.6h.1M489.6 98h.1M491.6 98.6h.1M491.3 99.2h.1M487.2 96.8h.1M488.7 100.1h.1M489 98.2h.1M488.5 96h.1M488.3 96.9h.1M491.6 97.3h.1M489.9 100.7h.1M490.4 99.3h.1M490.1 98.2h.1M488.5 99h.1M486.4 97.9h.1M488.3 98.2h.1M488.7 100.1h.1M490.1 99.4h.1M487.8 98.9h.1M488.3 98.8h.1M488.1 98.2h.1M487.8 100.2h.1M492.1 98.8h.1M491.6 100.2h.1M492.1 95.7h.1M492 101.7h.1M486.9 98h.1M492 97h.1M488.5 100.5h.1M490.4 101.6h.1M488.3 101.2h.1M488.6 100.3h.1M486.1 98.8h.1M484.2 98.6h.1M488.1 101.8h.1M488.6 98.3h.1M489.6 100.3h.1M489.1 101.1h.1M490.5 100.8h.1M490 95.1h.1M489.1 99.1h.1M488.3 94.5h.1M488.7 100.8h.1M492.2 100.5h.1M487.8 98.1h.1M488.3 96.4h.1M490.4 97.8h.1M488.9 96.9h.1M489.7 99.8h.1M491.1 99h.1M488.6 102.3h.1M486.4 97.1h.1M490.6 96.2h.1M484.4 102.8h.1M490.9 97.5h.1M488.2 96h.1M488 100.1h.1M489.1 102h.1M486.5 99h.1M485.9 99.7h.1M485 100.3h.1M488.4 97.6h.1M490 102.3h.1M492.3 102.8h.1M488.6 99.1h.1M495.3 99.4h.1M485.8 94.1h.1M486.9 99.9h.1M488.5 104.5h.1M487.7 101.4h.1M488.7 103h.1M491.7 100.4h.1M495.1 98.2h.1M485.4 100h.1M487.5 103.4h.1M485.7 102.3h.1M490 97.7h.1M488 97.9h.1M487.4 101.9h.1M488.5 101.1h.1M490.7 104.5h.1M487.4 97.7h.1M489.8 94.9h.1M486.1 100.1h.1M494.5 96.1h.1M489.6 98.8h.1M493.9 99.1h.1M495.3 100.2h.1M490.2 106.1h.1M485.5 102.1h.1M491.1 99.3h.1M486.8 98.2h.1M492 103.5h.1M487.6 99.8h.1M491.4 96.8h.1M490.9 101.2h.1M485.6 97.4h.1M494.1 101.7h.1M498.2 104.9h.1M487 97.3h.1M489.7 101h.1M487.1 99.1h.1M490 99.2h.1M490 103.1h.1M491 94.4h.1M492.3 98.1h.1M491.7 103.8h.1M487.2 98.5h.1M484.5 97h.1M489.5 99h.1M489.5 100.6h.1M491.9 101.2h.1M494.3 102.4h.1M490.7 104h.1M488.6 102.2h.1M490.1 101.5h.1M488.6 101.7h.1M490.2 97.3h.1M488 101.9h.1M491.1 103.9h.1M487.6 98.9h.1M486.2 101.8h.1M490.4 102.6h.1M491.1 100.4h.1M491.2 100.6h.1M486.4 97.4h.1M484.9 98.5h.1M485.6 101.6h.1M493.5 104.8h.1M492.3 97.5h.1M491.3 103.9h.1M493.8 99.7h.1M492.8 97.8h.1M493.5 94.2h.1M489.9 99.3h.1M495.2 101.3h.1M494.2 96.6h.1M487.2 99.9h.1M492.2 100.3h.1M494.4 101.6h.1M496.8 101h.1M488.6 100.3h.1M491.1 102.4h.1M491.1 101.4h.1M487.4 99.5h.1M489.5 99.2h.1M490.3 99.6h.1M486 94.1h.1M490.7 100.3h.1M488.3 97.8h.1M487.4 102.3h.1M487.5 100.4h.1M493.4 112h.1M492.4 111.3h.1M493.4 108.8h.1M493 112.8h.1M491.5 111h.1M491.4 111.2h.1M491.5 113.4h.1M493.3 111h.1M493.4 113.5h.1M493 112h.1M493.7 109.7h.1M493.7 111.9h.1M491.8 111.3h.1M492.3 112.3h.1M492.8 111.8h.1M493.5 112.6h.1M493.6 113.1h.1M492.3 112.4h.1M494.3 113.7h.1M493.4 110.9h.1M493.3 112.1h.1M493 112.6h.1M493.4 112.6h.1M491.3 114.4h.1M492.3 111.8h.1M492.4 113.1h.1M493.6 112h.1M493.5 112.3h.1M492.7 110.5h.1M496.5 112.2h.1M490.6 111.4h.1M492.3 115.2h.1M494.7 111.4h.1M493.7 113h.1M491.5 114.2h.1M493.7 113.3h.1M493.4 111.2h.1M494.2 111.5h.1M494.1 114.1h.1M493 110.6h.1M492.4 112.3h.1M492.6 113.8h.1M492.7 110h.1M491.9 111.1h.1M493.1 110.9h.1M490.2 115.2h.1M492.8 114.1h.1M489.2 109.6h.1M490 115.4h.1M493.9 111.5h.1M493.7 108.9h.1M490.6 117.8h.1M489.3 117.9h.1M488.7 117.1h.1M492.1 108.9h.1M491.5 112.4h.1M493 114.3h.1M491.9 126.7h.1M492.2 119.3h.1M488.1 121.6h.1M492.9 116.5h.1M487.4 111.5h.1M494.8 126.8h.1M488.3 118.3h.1M490.6 118.5h.1M489 121.2h.1M494.2 116h.1M491.2 118.5h.1M492.9 110.4h.1M492.7 117.8h.1M489.1 110.4h.1M489.7 109.2h.1M488.8 118.8h.1M489.6 111.6h.1M492.9 114.1h.1M492.4 116.5h.1M492.8 116h.1M489.5 123.4h.1M489.2 116.3h.1M493.8 119.7h.1M492.1 120.7h.1M491.9 108.8h.1M491.1 109.3h.1M492.6 118.6h.1M494 114h.1M480.6 127.8h.1M482.1 121.2h.1M481.8 122.7h.1M481.1 124.4h.1M481.9 113.8h.1M479.3 126.3h.1M481.4 126.3h.1M482.2 119.8h.1M482 120h.1M481.5 124.5h.1M482.4 130.3h.1M481.9 120.1h.1M481.2 121.7h.1M481.6 120.9h.1M482 123.5h.1M481.9 126.9h.1M481 118.1h.1M479 111.9h.1M483.1 122.3h.1M481.2 131.4h.1M479.7 118.9h.1M480.6 127.6h.1M481.7 124.5h.1M479.9 117.7h.1M481.8 125h.1M481.3 119.9h.1M482.5 121.3h.1M480.8 121.9h.1M481.5 117.3h.1M482.6 122.7h.1" stroke="#000" stroke-width=".8" stroke-linecap="square" fill="none"/>
<path d="M460.8 92.2H514.4V137.6H460.8Z M483.7 92.2V137.6 M460.8 107.5H514.4" class="ln"/>
<path d="M460.8 137.6v2.2M460.8 137.6h-2.2M464.8 137.6v1.2M460.8 134.2h-1.2M467.2 137.6v1.2M460.8 132.2h-1.2M468.9 137.6v1.2M460.8 130.8h-1.2M470.2 137.6v1.2M460.8 129.7h-1.2M471.2 137.6v1.2M460.8 128.8h-1.2M472.1 137.6v1.2M460.8 128h-1.2M472.9 137.6v1.2M460.8 127.3h-1.2M473.6 137.6v1.2M460.8 126.8h-1.2M474.2 137.6v2.2M460.8 126.2h-2.2M478.2 137.6v1.2M460.8 122.8h-1.2M480.6 137.6v1.2M460.8 120.8h-1.2M482.3 137.6v1.2M460.8 119.4h-1.2M483.6 137.6v1.2M460.8 118.3h-1.2M484.6 137.6v1.2M460.8 117.4h-1.2M485.5 137.6v1.2M460.8 116.7h-1.2M486.3 137.6v1.2M460.8 116h-1.2M487 137.6v1.2M460.8 115.4h-1.2M487.6 137.6v2.2M460.8 114.9h-2.2M491.6 137.6v1.2M460.8 111.5h-1.2M494 137.6v1.2M460.8 109.5h-1.2M495.7 137.6v1.2M460.8 108.1h-1.2M497 137.6v1.2M460.8 107h-1.2M498 137.6v1.2M460.8 106.1h-1.2M498.9 137.6v1.2M460.8 105.3h-1.2M499.7 137.6v1.2M460.8 104.6h-1.2M500.4 137.6v1.2M460.8 104.1h-1.2M501 137.6v2.2M460.8 103.5h-2.2M505 137.6v1.2M460.8 100.1h-1.2M507.4 137.6v1.2M460.8 98.1h-1.2M509.1 137.6v1.2M460.8 96.7h-1.2M510.4 137.6v1.2M460.8 95.6h-1.2M511.4 137.6v1.2M460.8 94.7h-1.2M512.3 137.6v1.2M460.8 94h-1.2M513.1 137.6v1.2M460.8 93.3h-1.2M513.8 137.6v1.2M460.8 92.7h-1.2M514.4 137.6v2.2M460.8 92.2h-2.2" class="tk"/>
<path d="M460.6 92.2V138" stroke="#000" stroke-width="1.3" fill="none" stroke-opacity=".6"/>
<path d="M460.2 137.9H514.4" stroke="#000" stroke-width="1.2" fill="none" stroke-opacity=".45"/>
<text x="458.6" y="147.3" class="s" font-size="6.1" textLength="5.5" lengthAdjust="spacingAndGlyphs">10</text>
<text x="463.9" y="143.6" class="s" font-size="4.6" textLength="2.3" lengthAdjust="spacingAndGlyphs">0</text>
<g transform="translate(457.4 137.6) rotate(-90)">
<text x="-4.1" y="0" class="s" font-size="6.1" textLength="5.4" lengthAdjust="spacingAndGlyphs">10</text>
<text x="2" y="-3.7" class="s" font-size="4.6" textLength="2.3" lengthAdjust="spacingAndGlyphs">0</text>
</g>
<text x="471.4" y="147.3" class="s" font-size="6.1" textLength="5.5" lengthAdjust="spacingAndGlyphs">10</text>
<text x="476.8" y="143.6" class="s" font-size="4.6" textLength="2.3" lengthAdjust="spacingAndGlyphs">1</text>
<g transform="translate(457.4 126.2) rotate(-90)">
<text x="-4.4" y="0" class="s" font-size="6.1" textLength="5.4" lengthAdjust="spacingAndGlyphs">10</text>
<text x="1.7" y="-3.7" class="s" font-size="4.6" textLength="2.3" lengthAdjust="spacingAndGlyphs">1</text>
</g>
<text x="484.3" y="147.3" class="s" font-size="6.1" textLength="5.5" lengthAdjust="spacingAndGlyphs">10</text>
<text x="489.6" y="143.6" class="s" font-size="4.6" textLength="2.3" lengthAdjust="spacingAndGlyphs">2</text>
<g transform="translate(457.4 114.9) rotate(-90)">
<text x="-4.7" y="0" class="s" font-size="6.1" textLength="5.4" lengthAdjust="spacingAndGlyphs">10</text>
<text x="1.4" y="-3.7" class="s" font-size="4.6" textLength="2.3" lengthAdjust="spacingAndGlyphs">2</text>
</g>
<text x="497.1" y="147.3" class="s" font-size="6.1" textLength="5.5" lengthAdjust="spacingAndGlyphs">10</text>
<text x="502.4" y="143.6" class="s" font-size="4.6" textLength="2.3" lengthAdjust="spacingAndGlyphs">3</text>
<g transform="translate(457.4 103.5) rotate(-90)">
<text x="-5" y="0" class="s" font-size="6.1" textLength="5.4" lengthAdjust="spacingAndGlyphs">10</text>
<text x="1.1" y="-3.7" class="s" font-size="4.6" textLength="2.3" lengthAdjust="spacingAndGlyphs">3</text>
</g>
<text x="510" y="147.3" class="s" font-size="6.1" textLength="5.5" lengthAdjust="spacingAndGlyphs">10</text>
<text x="515.3" y="143.6" class="s" font-size="4.6" textLength="2.3" lengthAdjust="spacingAndGlyphs">4</text>
<g transform="translate(457.4 92.2) rotate(-90)">
<text x="-5.3" y="0" class="s" font-size="6.1" textLength="5.4" lengthAdjust="spacingAndGlyphs">10</text>
<text x=".8" y="-3.7" class="s" font-size="4.6" textLength="2.3" lengthAdjust="spacingAndGlyphs">4</text>
</g>
<text x="487.6" y="152.6" class="sb" font-size="5.9" text-anchor="middle" textLength="16" lengthAdjust="spacingAndGlyphs">SSC-H</text>
<text x="446.5" y="113.5" class="r" font-size="6.2" text-anchor="middle" textLength="25" lengthAdjust="spacingAndGlyphs" transform="rotate(-90 446.5 113.5)">CD38 PE</text>
<text x="493.4" y="105.9" class="rb" font-size="5.4" textLength="19.4" lengthAdjust="spacingAndGlyphs">r =1154</text>
<path d="M212.3 206.1h.1M209.2 206.9h.1M212.3 205.9h.1M211 200.7h.1M212.1 201.4h.1M212.4 205.7h.1M211.4 203h.1M215.7 211.1h.1M217.2 205.1h.1M218.5 207.3h.1M214.7 213.1h.1M209.9 203.8h.1M213.6 210.4h.1M214 210.6h.1M213.7 210.8h.1M218.4 204.4h.1M212.5 202.5h.1M218.1 203.4h.1M216.9 201.3h.1M215.5 200.2h.1M212.2 205.2h.1M213.3 200.9h.1M213.3 204.9h.1M210.7 209.9h.1M217.8 202h.1M216 200.5h.1M213.3 202h.1M209.8 200.3h.1M216.5 211.7h.1M209.7 203.7h.1M209.5 205.3h.1M214.5 207.2h.1M209.7 202.8h.1M209 206.8h.1M211.5 207.2h.1M215.7 204.4h.1M213.6 199.6h.1M216 212.4h.1M218.7 199h.1M211.7 206.7h.1M211.6 199.1h.1M218 200.5h.1M211.4 206.1h.1M216.1 208.2h.1M217.4 206.7h.1M209.2 199.4h.1M214.9 210h.1M211.3 204h.1M213.4 201.6h.1M213.3 201.3h.1M215.6 208.5h.1M217.7 200.1h.1M211.1 202h.1M215.4 199.5h.1M213.7 206.9h.1M214.1 196.9h.1M229.7 192.7h.1M212.2 198h.1M224.9 196.6h.1M223.2 200.8h.1M223.9 194.2h.1M222.9 198.7h.1M229.9 196.2h.1M226.7 200.5h.1M221.2 198.6h.1M223.6 194.1h.1M227.7 195.4h.1M231.2 203.8h.1M217.3 200.7h.1M221.8 198.7h.1M215.1 197.1h.1M219.8 197.4h.1M222.2 196.2h.1M217.6 196.2h.1M221.1 197.7h.1M227.2 199h.1M220.9 192.9h.1" stroke="#000" stroke-width=".7" stroke-linecap="square" fill="none" stroke-opacity=".4"/>
<path d="M228.7 208.7h.1M228.4 209.6h.1M221.6 212.1h.1M222.5 212.4h.1M228.3 209.3h.1M219.6 211.1h.1M226.7 208.4h.1M222.1 210.6h.1M223.9 208.6h.1M223.3 211.3h.1M227.2 209.1h.1M228.7 210.1h.1M223.2 210.7h.1M228.3 208.6h.1M226.5 209h.1M222 212.1h.1M222.6 209.9h.1M225.8 210.2h.1M223.8 213h.1M223.7 212.7h.1M227.4 209.9h.1M225.9 210.6h.1M221.2 212.4h.1M228.3 210.3h.1M226.8 209.5h.1M226.3 209h.1M226.6 207.7h.1M220.8 213.6h.1M225.2 212.2h.1M222.5 213.5h.1M223.7 210.8h.1M229.8 210.4h.1M223.5 212.5h.1M229.3 210.2h.1M224.1 212.9h.1M224.8 210.9h.1M227.3 208.8h.1M226.5 212.7h.1M220.4 210.1h.1M226.1 211.2h.1M222.9 210.6h.1M224 212.3h.1M225.8 209.1h.1M223.3 210.7h.1M219.1 211.2h.1M224.8 212.1h.1M224.4 209.8h.1M223 209.2h.1M221.6 210.1h.1M224.5 210.5h.1M224.9 210.4h.1M223.8 209.2h.1M227.8 212.1h.1M224.4 207.9h.1M225.2 210h.1M220.7 210.7h.1M224 210h.1M231.4 208.3h.1M219.3 210.1h.1M227.3 208.4h.1M225.5 209.6h.1M224.5 209.1h.1M224.5 211.3h.1M225.2 209h.1M220.4 213.7h.1M229.3 207.3h.1M226 212.6h.1M228.7 208.9h.1M226.3 213.2h.1M226.9 210.2h.1M227 210.1h.1M225.6 211.2h.1M229.5 204.2h.1M225.9 208.5h.1M225.8 209.2h.1M223 209h.1M224.3 211.7h.1M228.5 213.6h.1M223.5 207h.1M227.3 208.4h.1M225 210.7h.1M220.6 210.7h.1M227.1 211h.1M225 210.1h.1M224.7 211.6h.1M228 211.9h.1M225.9 210.4h.1M221.9 212.4h.1M225.8 209.8h.1M223 209.5h.1M222.5 211.9h.1M229.7 209.1h.1M218.6 211.8h.1M223.6 210h.1M223.4 209.8h.1M227.2 210.4h.1M228.3 209.4h.1M222.8 209h.1M217.3 212.4h.1M230.3 210.7h.1M222.6 212.6h.1M224.2 210.4h.1M224 211.2h.1M223.9 210.2h.1M225.4 213.4h.1M222.2 212.2h.1M226.6 209.6h.1M227.2 211.4h.1M222.8 210.5h.1M222.5 210.6h.1M228.2 207.4h.1M229.1 208h.1M226.7 208.9h.1M227.4 208.8h.1M219.1 210.8h.1M225.7 210.3h.1M225.5 209.1h.1M224.8 212.9h.1M227.6 209.1h.1M228 207.7h.1M225 211.4h.1M224.4 210.6h.1M229.4 209.2h.1M223.7 210.3h.1M223.3 213.1h.1M227.7 208.6h.1M224.7 212.1h.1M230 209.1h.1M229.9 210.3h.1M227.9 209.8h.1M225.7 213.3h.1M225.5 209.7h.1M224 211.3h.1M231.4 208.3h.1M225.9 210.4h.1M226.4 208.7h.1M225.9 209.5h.1M225.2 208.9h.1M221.4 210.3h.1M226.5 210.7h.1M228 210.3h.1M221.9 211.8h.1M219.3 212.1h.1M223.6 209.7h.1M224.6 211h.1M226.7 208.6h.1M223 209.1h.1M226.2 211.7h.1M222.5 211.6h.1M219.5 212.1h.1M228.3 212.2h.1M225 210.3h.1M223.5 213.1h.1M222.9 209.8h.1M226.8 208h.1M221.1 209.9h.1M225.6 211.5h.1M228.5 210.4h.1M223.8 210.7h.1M227.2 207.6h.1M229.3 208.2h.1M231.7 209.5h.1M228 210.2h.1M222.4 209.9h.1M221.1 211.8h.1M224.5 214.1h.1M230.7 208.5h.1M224.6 208.5h.1M227.8 209.5h.1M226.7 210.7h.1M231.3 210.9h.1M225.1 210.7h.1M224.6 208.9h.1M223.3 210.7h.1M226.1 211.9h.1M226.5 209.1h.1M225.7 212h.1M227.1 208h.1M226 210.2h.1M223.9 210.8h.1M225 209h.1M224.3 211h.1M226.1 211.5h.1M225.5 209.9h.1M230.5 208.2h.1M225.8 210.9h.1M222.5 212.7h.1M224.5 212.3h.1M220.5 211.5h.1M224.6 210h.1M226.3 211.6h.1M223.8 212.2h.1M229 212.2h.1M225.6 210.5h.1M223.1 211.7h.1M227.5 209.6h.1M227.2 209.1h.1M226.3 210.7h.1M222.6 210.6h.1M228.4 209.6h.1M220.6 212h.1M224.3 209.6h.1M221.7 209.2h.1M224.9 209.3h.1M220.1 211h.1M225.7 210.7h.1M225 211.1h.1M221.4 208.2h.1M226.1 208.3h.1M220.2 210.4h.1M223.5 213.3h.1M225.1 211.2h.1M224 210.1h.1M226.8 209.5h.1M221.1 211.3h.1M220.3 209.5h.1M229.1 210.8h.1M221 212.6h.1M229.8 209.4h.1M226.7 210h.1M227.5 209.3h.1M224.6 209.9h.1M222.4 209.2h.1M224.8 211.5h.1M225.1 208.9h.1M223.4 210.9h.1M221.7 210.9h.1M226.7 209.4h.1M223.1 211.7h.1M227.2 209.6h.1M226.1 208.6h.1M229.3 210.2h.1M227.7 211.7h.1M218.5 212.7h.1M226.2 210.6h.1M225.3 210.1h.1M232.1 210.8h.1M224.4 211.3h.1M224.2 209.5h.1M224.2 212.3h.1M224.7 213.4h.1M223.1 211.5h.1M230.2 207.5h.1M226.2 207.6h.1M226.6 208.6h.1M228.8 212.7h.1M221.2 210.4h.1M229.7 207.3h.1M224.2 210.6h.1M226.2 211.2h.1M223.5 210.6h.1M223.2 210.5h.1M223.7 211.3h.1M226.3 212h.1M226.4 210.8h.1M225.7 209.6h.1M228.3 208.9h.1M223.9 211.1h.1M221.2 210.1h.1M222.3 211.6h.1M224 212.9h.1M228.1 209.3h.1M227.3 209.3h.1M227.6 210.4h.1M226.8 208.7h.1M223 213.1h.1M223.6 212.5h.1M219.3 213.5h.1M225.4 210.7h.1M222.9 211.5h.1M225.7 211h.1M225.9 208.6h.1M223.2 210.2h.1M230.9 208.3h.1M224.1 212.4h.1M222.3 214.2h.1M228.7 209.3h.1M223 211.5h.1M230.2 209.3h.1M227.4 209h.1M221.3 210.8h.1M224.4 210.9h.1M228 211.4h.1M226.8 208.1h.1M227.7 211h.1M227.1 208.2h.1M226.6 211.2h.1M224.1 210.5h.1M224.2 209.1h.1M226 208.1h.1M227.2 209.4h.1M227.2 211.1h.1M222.9 210.1h.1M223.7 211.1h.1M231.8 207.2h.1M227 208.5h.1M224.2 210h.1M221.6 209.9h.1M225.5 210.6h.1M226.3 207.7h.1M224.2 212.9h.1M221.9 210.6h.1M229.2 208.2h.1M224.3 212.1h.1M226.1 209.6h.1M226.2 211.7h.1M223.7 209.5h.1M227.2 208.6h.1M223.2 209.8h.1M223.2 213.4h.1M230.3 206.3h.1M225.4 210.5h.1M226 212.8h.1M222.8 210.2h.1M227.2 211.5h.1M226.3 211.1h.1M225.3 211.3h.1M227.1 210h.1M226.3 209.6h.1M221.7 210.3h.1M224.8 210.8h.1M223.3 211.9h.1M222.1 210.9h.1M226.7 211.5h.1M218.7 213.4h.1M226.1 210.6h.1M224.3 210.2h.1M229 210.2h.1M227.4 210.1h.1M227.2 212.9h.1M226.4 210.5h.1M219.9 212.9h.1M223.6 209h.1M222 211.6h.1M225.3 212.8h.1M225.9 210.9h.1M223.9 212.2h.1M223.1 210.6h.1M225.3 209.7h.1M224 211.2h.1M223.6 209.3h.1M231.4 208.1h.1M223.7 214.1h.1M223.1 210.9h.1M225 209.6h.1M224.9 212.5h.1M227.5 210.4h.1M230.6 208.2h.1M221.6 211.6h.1M230.2 208.8h.1M226.2 209.3h.1M223.5 211.2h.1M222.6 211.4h.1M229 208.6h.1M220.9 211.2h.1M222.9 213.2h.1M228.9 211.7h.1M218.6 212.6h.1M222.8 207.7h.1M228.6 209.5h.1M225.4 208.3h.1M224 210.1h.1M227.1 207.6h.1M219.6 214.7h.1M221.7 211.4h.1M226.6 212.1h.1M223.3 207.8h.1M219.4 214.6h.1M231.6 208.9h.1M224.7 212h.1M227.1 209.6h.1M226.3 209.5h.1M225.1 207.3h.1M223.2 210.6h.1M224.8 207.5h.1M219.1 211.5h.1M222.4 209.1h.1M227.7 209.1h.1M224.2 213.8h.1M228.2 207.8h.1M227.5 206.9h.1M227.5 206.3h.1M225 208.1h.1M222.5 213.3h.1M229.2 207.2h.1M226.8 209.8h.1M221 209.3h.1M231.1 209.7h.1M232.3 210.8h.1M225.2 209.8h.1M229.4 206.6h.1M225.2 206.5h.1M228.9 209.1h.1M223.3 208.8h.1M222.7 214h.1M229.8 208.7h.1M231.4 204.2h.1M227.7 206.4h.1M229 205.5h.1M230.2 209h.1M228.1 211.8h.1M239.1 204.5h.1M231.2 205.5h.1M225.2 212.1h.1M225.4 208.9h.1M226.4 209.6h.1M227.6 205.6h.1M222.8 210.6h.1M226.9 209.6h.1M223.2 207.5h.1M224.4 211.5h.1M231.5 208.4h.1M227.8 209.9h.1M225.7 201.4h.1M230 211.4h.1M228.8 207h.1M231.4 206.5h.1M229.7 204.7h.1M221.9 209.8h.1M226.9 208.1h.1M220.3 213.8h.1M232 204.1h.1M226.7 209.3h.1M224.4 210.6h.1M226.3 208.4h.1M222 210.5h.1M226.7 209.5h.1M232.2 202.9h.1M224.3 208.9h.1M226.9 207.3h.1M225.6 209.5h.1M228.8 212.5h.1M230.8 205.1h.1M225.7 207.8h.1M221.8 210.8h.1M222.5 211.5h.1M229.1 203.7h.1M232.1 210.2h.1M223.5 210.4h.1M229.6 208.1h.1M226.9 208h.1M227.4 209.3h.1M222.2 207.5h.1M229 209.3h.1M229.2 207.4h.1M224.6 209.1h.1M223.6 209.5h.1M229.3 209.7h.1M229.2 206.6h.1M228.1 209.9h.1M231 207.6h.1M227 204.2h.1M227.1 209.4h.1M224.4 210.5h.1M227.6 206.9h.1M227.2 207.1h.1M233.5 205.8h.1M230.7 208.2h.1M224.3 210.6h.1M221.5 207.6h.1M221.7 210.7h.1M225.8 206h.1M222.6 210.7h.1M222.5 211.1h.1M223.2 208.4h.1M225.7 208.4h.1M221 205.9h.1M221 210h.1M228.3 203.3h.1M225.1 208.9h.1M226.2 209.4h.1M232.2 206.6h.1M222.7 212.4h.1M226 209.5h.1M234.3 206.2h.1M232.8 205.7h.1M231.1 208.6h.1M219.8 210.3h.1M223.5 213.7h.1M226.5 208.3h.1M221.4 212h.1M221.9 210.5h.1M231.7 208.7h.1M218.6 210.4h.1M222.4 211.4h.1M223.2 208.4h.1M236.3 208.4h.1M226.4 205h.1M229 202h.1M228.3 203h.1M228 200.9h.1M230.6 201.1h.1M229.7 201.8h.1M228.1 204.1h.1M227.3 201.8h.1M229.4 201.1h.1M229.8 203.4h.1M225.3 202.4h.1M229.6 201.5h.1" stroke="#000" stroke-width=".8" stroke-linecap="square" fill="none"/>
<path d="M207.3 170.4H261.1V215.4H207.3Z M219.5 170.4V215.4 M207.3 198.6H261.1" class="ln"/>
<path d="M207.3 215.4v2.2M207.3 215.4h-2.2M211.3 215.4v1.2M207.3 212h-1.2M213.7 215.4v1.2M207.3 210h-1.2M215.4 215.4v1.2M207.3 208.6h-1.2M216.7 215.4v1.2M207.3 207.5h-1.2M217.8 215.4v1.2M207.3 206.6h-1.2M218.7 215.4v1.2M207.3 205.9h-1.2M219.4 215.4v1.2M207.3 205.2h-1.2M220.1 215.4v1.2M207.3 204.7h-1.2M220.8 215.4v2.2M207.3 204.2h-2.2M224.8 215.4v1.2M207.3 200.8h-1.2M227.2 215.4v1.2M207.3 198.8h-1.2M228.8 215.4v1.2M207.3 197.4h-1.2M230.2 215.4v1.2M207.3 196.3h-1.2M231.2 215.4v1.2M207.3 195.4h-1.2M232.1 215.4v1.2M207.3 194.6h-1.2M232.9 215.4v1.2M207.3 194h-1.2M233.6 215.4v1.2M207.3 193.4h-1.2M234.2 215.4v2.2M207.3 192.9h-2.2M238.2 215.4v1.2M207.3 189.5h-1.2M240.6 215.4v1.2M207.3 187.5h-1.2M242.3 215.4v1.2M207.3 186.1h-1.2M243.6 215.4v1.2M207.3 185h-1.2M244.7 215.4v1.2M207.3 184.1h-1.2M245.6 215.4v1.2M207.3 183.4h-1.2M246.3 215.4v1.2M207.3 182.7h-1.2M247 215.4v1.2M207.3 182.2h-1.2M247.7 215.4v2.2M207.3 181.7h-2.2M251.7 215.4v1.2M207.3 178.3h-1.2M254.1 215.4v1.2M207.3 176.3h-1.2M255.7 215.4v1.2M207.3 174.9h-1.2M257.1 215.4v1.2M207.3 173.8h-1.2M258.1 215.4v1.2M207.3 172.9h-1.2M259 215.4v1.2M207.3 172.1h-1.2M259.8 215.4v1.2M207.3 171.5h-1.2M260.5 215.4v1.2M207.3 170.9h-1.2M261.1 215.4v2.2M207.3 170.4h-2.2" class="tk"/>
<path d="M207.1 170.4V215.8" stroke="#000" stroke-width="1.3" fill="none" stroke-opacity=".6"/>
<path d="M206.7 215.7H261.1" stroke="#000" stroke-width="1.2" fill="none" stroke-opacity=".45"/>
<text x="205.1" y="224" class="s" font-size="6.1" textLength="5.5" lengthAdjust="spacingAndGlyphs">10</text>
<text x="210.4" y="220.3" class="s" font-size="4.6" textLength="2.3" lengthAdjust="spacingAndGlyphs">0</text>
<g transform="translate(203.9 215.4) rotate(-90)">
<text x="-4.1" y="0" class="s" font-size="6.1" textLength="5.4" lengthAdjust="spacingAndGlyphs">10</text>
<text x="2" y="-3.7" class="s" font-size="4.6" textLength="2.3" lengthAdjust="spacingAndGlyphs">0</text>
</g>
<text x="218" y="224" class="s" font-size="6.1" textLength="5.5" lengthAdjust="spacingAndGlyphs">10</text>
<text x="223.3" y="220.3" class="s" font-size="4.6" textLength="2.3" lengthAdjust="spacingAndGlyphs">1</text>
<g transform="translate(203.9 204.2) rotate(-90)">
<text x="-4.4" y="0" class="s" font-size="6.1" textLength="5.4" lengthAdjust="spacingAndGlyphs">10</text>
<text x="1.7" y="-3.7" class="s" font-size="4.6" textLength="2.3" lengthAdjust="spacingAndGlyphs">1</text>
</g>
<text x="230.9" y="224" class="s" font-size="6.1" textLength="5.5" lengthAdjust="spacingAndGlyphs">10</text>
<text x="236.2" y="220.3" class="s" font-size="4.6" textLength="2.3" lengthAdjust="spacingAndGlyphs">2</text>
<g transform="translate(203.9 192.9) rotate(-90)">
<text x="-4.7" y="0" class="s" font-size="6.1" textLength="5.4" lengthAdjust="spacingAndGlyphs">10</text>
<text x="1.4" y="-3.7" class="s" font-size="4.6" textLength="2.3" lengthAdjust="spacingAndGlyphs">2</text>
</g>
<text x="243.8" y="224" class="s" font-size="6.1" textLength="5.5" lengthAdjust="spacingAndGlyphs">10</text>
<text x="249.1" y="220.3" class="s" font-size="4.6" textLength="2.3" lengthAdjust="spacingAndGlyphs">3</text>
<g transform="translate(203.9 181.7) rotate(-90)">
<text x="-5" y="0" class="s" font-size="6.1" textLength="5.4" lengthAdjust="spacingAndGlyphs">10</text>
<text x="1.1" y="-3.7" class="s" font-size="4.6" textLength="2.3" lengthAdjust="spacingAndGlyphs">3</text>
</g>
<text x="256.7" y="224" class="s" font-size="6.1" textLength="5.5" lengthAdjust="spacingAndGlyphs">10</text>
<text x="262" y="220.3" class="s" font-size="4.6" textLength="2.3" lengthAdjust="spacingAndGlyphs">4</text>
<g transform="translate(203.9 170.4) rotate(-90)">
<text x="-5.3" y="0" class="s" font-size="6.1" textLength="5.4" lengthAdjust="spacingAndGlyphs">10</text>
<text x=".8" y="-3.7" class="s" font-size="4.6" textLength="2.3" lengthAdjust="spacingAndGlyphs">4</text>
</g>
<text x="234.2" y="231.4" class="r" font-size="6.2" text-anchor="middle" textLength="29.8" lengthAdjust="spacingAndGlyphs">CD19 FITC</text>
<text x="193.6" y="194.4" class="r" font-size="6.2" text-anchor="middle" textLength="28" lengthAdjust="spacingAndGlyphs" transform="rotate(-90 193.6 194.4)">CD49e PE</text>
<path d="M492.3 207.4h.1M494.4 207.6h.1M493.8 208.5h.1M497.9 206.7h.1M494.5 209.1h.1M498 209.5h.1M495.7 204.5h.1M489.4 211.2h.1M494.5 206.8h.1M495.4 207.2h.1M495.8 205.7h.1M497.9 209.8h.1M493.3 208h.1M494.1 209h.1M493 208.4h.1M495.5 208.2h.1M492.5 209.5h.1M492.7 210.7h.1M492.5 211.7h.1M494 207.5h.1M491.9 206.8h.1M498 208.9h.1M492.9 209.5h.1M491.9 208.8h.1M495.5 210.7h.1M497.1 205.3h.1M491 205.4h.1M494.5 208.5h.1M493.8 208.4h.1M490.9 207.3h.1M491.3 206.5h.1M496.3 206.2h.1M493.5 208.6h.1M494.1 207.6h.1M492.7 208.6h.1M494.3 207.5h.1M492.5 210.1h.1M496.8 207h.1M495.2 207.2h.1M495.9 205.3h.1M494.7 209.5h.1M491.1 206.9h.1M499.9 203.9h.1M492.5 210h.1M494.2 206.6h.1M492 209.7h.1M494.1 208.3h.1M492.3 207.2h.1M495.3 209.1h.1M497.7 206.4h.1M490.3 203h.1M468.5 209.8h.1M473.3 203.4h.1M487 202.3h.1M472.8 202.8h.1M477.4 208.4h.1M481.3 202.2h.1M475.9 203.2h.1M479.3 206.6h.1M479.2 199.8h.1M473.7 203.2h.1M475.6 204.2h.1M463.5 210.2h.1M470.5 204.5h.1M471.5 205.6h.1M478.9 200.7h.1M467.6 207.5h.1M473.2 205.2h.1M465.1 209.7h.1M475.1 208.5h.1M484.1 197.9h.1M478.3 205.7h.1M478.1 205.8h.1M467 212.6h.1M468.8 209h.1M480.1 200.8h.1M477.5 200.7h.1M494.4 197.4h.1M482.9 201.3h.1M480.7 201h.1M479.8 198.8h.1M481 203.8h.1M478.6 205.3h.1M469.1 209.5h.1M480.5 198.9h.1M481.1 203.9h.1M471.4 209.4h.1M475.2 201.4h.1M473.6 208.2h.1M475.6 207.8h.1M478.6 203.5h.1M469.1 206.1h.1M475.9 209.6h.1M466.5 207.2h.1M483.7 202h.1M478 206.6h.1M479 204.6h.1M473.4 199.4h.1M478.7 202h.1M463.5 211.3h.1M475.2 203.4h.1M475.7 208.5h.1M473.6 205.8h.1M469.5 212.9h.1M486.8 199.7h.1M479.7 195.4h.1M478.1 200h.1M474 210.4h.1M474.2 184.6h.1M474.8 185h.1" stroke="#000" stroke-width=".7" stroke-linecap="square" fill="none" stroke-opacity=".4"/>
<path d="M499.2 204.4h.1M496.4 207.3h.1M500.7 204h.1M498.7 206.6h.1M498.6 204.8h.1M503.4 202.2h.1M493 207.7h.1M499.9 205.6h.1M499 204.2h.1M499.9 204h.1M498.6 203.8h.1M497.7 203.8h.1M499.4 200.9h.1M500.5 207h.1M501 204.9h.1M498 204.1h.1M500.6 203h.1M498.9 202.4h.1M497.6 206.5h.1M501.1 203.6h.1M500.2 204.6h.1M501.2 202.1h.1M498.8 205.5h.1M495.5 206.9h.1M501.8 200.6h.1M499.1 206.1h.1M497 205.1h.1M496.2 207.4h.1M500.9 204.1h.1M500 205.1h.1M501.7 203.8h.1M499.6 204.1h.1M497.4 203.2h.1M498 205.8h.1M500.4 207.1h.1M496.7 205.7h.1M498.8 205.6h.1M498 205.4h.1M498.2 204.6h.1M507.2 198.9h.1M494.2 210h.1M500 205h.1M496.5 206.4h.1M504.6 201h.1M498.5 201.7h.1M498.8 202.4h.1M500.4 200.2h.1M500.9 202.9h.1M498.9 206.4h.1M502.5 203.6h.1M499.4 203.4h.1M502 203.1h.1M498.4 205.4h.1M496.9 208h.1M498 203h.1M497.1 203.9h.1M495.2 207.2h.1M497.3 204.8h.1M496.3 204.2h.1M500.8 202.8h.1M503.3 204.2h.1M496.5 206.6h.1M499.6 202.9h.1M497 207.3h.1M501.8 200.8h.1M502.7 201.8h.1M497.9 204.9h.1M501.1 203.5h.1M494.7 207.6h.1M500.2 204.4h.1M501.6 201.7h.1M500 203.9h.1M501.1 204.2h.1M502.3 200.7h.1M505.5 201.3h.1M499.6 204.4h.1M499.3 202.3h.1M501.1 204h.1M497.4 205.9h.1M501.6 201.2h.1M497 206.5h.1M499.6 202h.1M497.2 204.3h.1M496.3 205.3h.1M499.4 204.8h.1M497 208.4h.1M496.3 206.2h.1M498.6 205.4h.1M496.9 206.4h.1M499.9 204.4h.1M500.6 204.7h.1M500.4 203.2h.1M504 201.7h.1M499.1 205.2h.1M498.3 204h.1M499.8 204.5h.1M497.9 207.3h.1M495.8 203.8h.1M500.6 202.7h.1M497.1 207.4h.1M497.1 206.9h.1M498.3 205.1h.1M499.4 204.8h.1M498 204.2h.1M493.5 209h.1M499.3 204.7h.1M499.9 204.4h.1M500.1 202.9h.1M503.7 201.4h.1M496.8 203.6h.1M504 201.9h.1M500.3 205.7h.1M497.5 204h.1M503.9 200.9h.1M498.7 202.2h.1M502 203.5h.1M496.4 205.6h.1M502.1 202.2h.1M501.7 201.5h.1M498.6 203.2h.1M503.2 202.2h.1M495.9 207h.1M505 201.4h.1M495.6 207.8h.1M500.1 202.4h.1M499.4 206.6h.1M491 207.2h.1M500 204.6h.1M498.3 205.9h.1M496.5 208.2h.1M497.4 203.7h.1M495.1 207.7h.1M501.8 200.8h.1M496.4 209.3h.1M498.3 201.8h.1M502.8 202.1h.1M503.9 201.7h.1M495.3 206.1h.1M500.2 202.4h.1M502.7 205.8h.1M502.1 201.6h.1M496 206h.1M498 205.7h.1M499.9 203.8h.1M501.7 200.2h.1M501.3 201.2h.1M495.7 205.6h.1M501.1 202.3h.1M502.1 202.7h.1M503.2 201h.1M500.6 203h.1M497 206.6h.1M500.2 203.2h.1M500.1 204.1h.1M496 207.4h.1M495.9 206.4h.1M500.9 202.9h.1M502.7 203.4h.1M499.4 205.3h.1M499.8 208.2h.1M497.6 206.3h.1M498.4 205.3h.1M500.7 204.5h.1M501.4 203.5h.1M499.1 205.7h.1M493.5 208h.1M499.5 203.1h.1M495.7 204.2h.1M494.3 209.2h.1M497.6 203.6h.1M503.3 203.6h.1M495.3 206.1h.1M499.4 202.8h.1M499.9 202.7h.1M502.8 201.1h.1M497.5 206.4h.1M499.3 204.5h.1M496.5 205.6h.1M497.3 208.8h.1M500.7 200.5h.1M502 202.7h.1M494.1 208.7h.1M493.8 209.1h.1M497.6 208.2h.1M502 202.7h.1M497 203.6h.1M502 204.4h.1M498.6 203.6h.1M497.6 204.3h.1M500.9 203.7h.1M499.4 203.1h.1M500 203.3h.1M493.7 208.8h.1M499.6 202.4h.1M499.5 205h.1M507.8 196.4h.1M498.9 203.6h.1M499.6 201.7h.1M502.2 203.1h.1M502 203.8h.1M500.8 203.4h.1M502.3 202.2h.1M494 206.7h.1M498.7 207.3h.1M497.7 204.7h.1M499.5 203.7h.1M494.8 208.1h.1M501.1 202h.1M498.3 203.2h.1M500.8 206.1h.1M499.3 204.2h.1M500.3 202.5h.1M502.2 202.7h.1M497.3 204.2h.1M495.2 205h.1M499.1 201h.1M497.3 206h.1M498.9 207h.1M497.6 203.3h.1M493.4 208.9h.1M496.6 204.2h.1M497.1 207.7h.1M500 203.8h.1M501 204.2h.1M502.8 201.1h.1M499.9 202.7h.1M504.2 200.2h.1M503.6 202.2h.1M498.3 205.1h.1M498.3 203.5h.1M496.4 208.8h.1M499.2 204.9h.1M498.4 205.2h.1M500.6 203h.1M504.1 200.8h.1M505.2 200.7h.1M501.1 201.9h.1M497 210.4h.1M500.2 203.3h.1M500.6 201.8h.1M497.3 206.8h.1M498.9 203.9h.1M501.5 201.8h.1M497.9 203.1h.1M496.6 205.3h.1M498.7 204.6h.1M500 201.7h.1M502.7 201.9h.1M497.3 207.7h.1M501.3 203.4h.1M499.6 203.9h.1M500.5 202h.1M500.1 205.3h.1M497.2 205.6h.1M492.8 211.4h.1M496.8 203.7h.1M500.2 203.2h.1M499.6 204.3h.1M500.1 203.8h.1M498.8 205.2h.1M499.5 205.1h.1M498.3 201.9h.1M502.7 204.1h.1M495.5 207.9h.1M497.4 207.9h.1M496.8 206.6h.1M498.8 204.8h.1M501.1 199.3h.1M503.9 201.5h.1M502 200.6h.1M501.8 204.4h.1M503 200.5h.1M502 203h.1M501.9 203.3h.1M497 205.8h.1M497.7 204.4h.1M501 207.1h.1M499.6 202.1h.1M498.5 204h.1M502.2 200.8h.1M498.1 206.8h.1M500.3 204.7h.1M499.2 204h.1M496.8 205h.1M503.9 200.6h.1M495 208.4h.1M496.1 208.7h.1M498.2 204.5h.1M502.9 201.7h.1M502.7 205h.1M497.5 207.9h.1M500.9 203.6h.1M498.7 204.4h.1M496.7 206.8h.1M500.1 203.1h.1M499.4 204.7h.1M497.8 206.1h.1M501.3 203.7h.1M501.7 203h.1M496.8 207.6h.1M503.6 202.4h.1M500.8 203.3h.1M498.9 203.5h.1M503.4 200.9h.1M501.4 205.3h.1M501.7 203.4h.1M501.5 204.9h.1M498.7 203.6h.1M500.8 204.8h.1M499.1 208h.1M497.4 204.5h.1M496.9 208.1h.1M500.7 202.7h.1M501.9 202.5h.1M495.5 206.3h.1M503.7 201h.1M501.2 203.1h.1M501.8 200.9h.1M498.6 205.7h.1M501 202.6h.1M501.2 202.1h.1M495.9 209.4h.1M501.9 203.4h.1M505.1 199.2h.1M497.4 205.8h.1M494.7 207h.1M497.4 203.3h.1M501.6 203.9h.1M500.5 201.4h.1M496.9 205.7h.1M497.8 202.5h.1M494.8 208.2h.1M499.7 203.6h.1M493.8 208.7h.1M498.8 204.7h.1M495.8 207.1h.1M498.9 204.6h.1M501 202h.1M498.9 201.9h.1M499.9 206.5h.1M500.1 203.1h.1M498.6 207h.1M497.3 206.9h.1M494.8 207.1h.1M500.1 202.9h.1M503 202.4h.1M504.8 201.2h.1M494.5 207.9h.1M496.9 206.3h.1M500.8 203.9h.1M504.2 200.2h.1M496.5 204.5h.1M499.7 204.9h.1M500 202.7h.1M497.8 206h.1M498.9 204.2h.1M498.2 203.5h.1M495.4 205.4h.1M504 199.6h.1M500 203.4h.1M498.1 204.9h.1M502.4 203.1h.1M498.7 204.2h.1M502.4 201.5h.1M497.6 204.1h.1M502.3 202.7h.1M501.1 201.5h.1M497.6 204.9h.1M501.4 203.5h.1M502 203.6h.1M499.5 205.4h.1M496.4 207.4h.1M496.2 206.9h.1M499 204.5h.1M500 205.5h.1M492.7 208.8h.1M501.2 200.8h.1M500.6 203.9h.1M503.6 200.7h.1M498.7 205.6h.1M498.5 204.6h.1M500.4 202.6h.1M495.8 207.6h.1M499.5 204.1h.1M494.7 206.4h.1M497.2 203.7h.1M499.7 202.7h.1M499.3 205.7h.1M496.4 208.6h.1M500.4 204.6h.1M499.3 202.9h.1M500.9 202.4h.1M497.4 205.5h.1M498.4 205.6h.1M500.4 202.3h.1M496.3 207.6h.1M500.2 204.9h.1M497 205h.1M503.7 200.3h.1M497.1 206.8h.1M500.7 204.7h.1M494 209h.1M498.5 203.3h.1M499.8 201.6h.1M498.6 205.1h.1M497.8 206.8h.1M496.4 207.4h.1M499.2 203h.1M498.5 205.5h.1M499 205.3h.1M497.4 204.7h.1M495.9 204.9h.1M501.7 205.6h.1M502.8 202.5h.1M502.1 203.5h.1M500.1 206.9h.1M499.9 204.7h.1M498.8 203.7h.1M499.4 203.8h.1M499.4 206.2h.1M496.8 206.3h.1M496 206h.1M500 206.4h.1M496.3 206.9h.1M503.1 202.3h.1M498.4 206.4h.1M501.1 200.8h.1M499.7 203.6h.1M498.6 205.2h.1M499.8 203.8h.1M499.6 205.2h.1M495.8 209.2h.1M495.7 208.2h.1M497.9 206.8h.1M497.8 205.9h.1M494.8 207.4h.1M498.4 207.5h.1M500.8 202.7h.1M497.2 204.4h.1M495.8 205.6h.1M502.1 201.9h.1M502.4 202.4h.1M497.5 206.4h.1M499.8 206.6h.1M496.5 206.4h.1M497.8 206.5h.1M495.2 208h.1M497.7 209.2h.1M501.3 203.9h.1M498.4 205.4h.1M499.8 204.8h.1M494.5 207.1h.1M499.1 201.7h.1M497.9 206.6h.1M499.8 207.4h.1M495.9 204.3h.1M498.2 205.9h.1M493.8 210.9h.1M496.4 208h.1M500.7 206.2h.1M498.3 203.6h.1M495.6 207h.1M500.5 204.3h.1M499.1 204.3h.1M497.7 203.8h.1M498.7 203.6h.1M497.3 203.4h.1M499.4 203.2h.1M502 203.1h.1M493.7 206.8h.1M498.7 204.3h.1M492.2 208.1h.1M497.8 207h.1M496 203.7h.1M499.3 205.4h.1M498.4 203.5h.1M500.1 207.1h.1M498.4 205.1h.1M500.3 204.8h.1M494.7 208h.1M494.8 209.3h.1M493.7 205.2h.1M496.7 206.2h.1M496.1 204.8h.1M501 207.2h.1M500.4 202.5h.1M498.9 206.2h.1M498 204.7h.1M499.8 207.2h.1M495.6 206h.1M499.4 203.6h.1M496.6 207.9h.1M501.5 202.6h.1M498.1 204.2h.1M498 209.2h.1M496.6 209.8h.1M499.4 203.9h.1M500.2 204.1h.1M501 208.2h.1M497.2 206.6h.1M498.8 204.7h.1M497 205.6h.1M498.8 205.2h.1M498.3 205.2h.1M496.8 205.1h.1M496.8 204.9h.1M500.9 204.7h.1M499.8 204.6h.1M497.4 205.4h.1M497.5 207.1h.1M499.5 206.9h.1M497 206.1h.1M499.4 201.9h.1M498.7 206.3h.1M496.7 209.5h.1M492.7 205.2h.1M500.8 205.3h.1M500.2 203.4h.1M493.6 210.3h.1M498.3 202h.1M495.9 205.1h.1M498.8 204.9h.1M502.3 203h.1M503.8 203.7h.1M499.4 207.4h.1M499.8 203.2h.1M496.9 204.3h.1M499.5 208.4h.1M499.4 205.9h.1M500.1 201.9h.1M497.7 200.7h.1M496.6 206.8h.1M500 204.1h.1M499.8 206.9h.1M497.6 205.6h.1M497.2 208.2h.1M493.1 210.7h.1M494.5 205.2h.1M497.6 204.5h.1M498.5 205h.1M494.8 206.9h.1M497.1 205.5h.1M496.5 208.3h.1M496.7 207h.1M500.4 206.2h.1M500.3 202.7h.1M493.6 203.3h.1M500.1 203.5h.1M498.7 203.9h.1M497 205.9h.1M499.5 204.2h.1M498.2 204.1h.1M500.6 205.2h.1M498.4 205.1h.1M496.4 205.4h.1M495.9 206.9h.1M500.4 203h.1M493.2 211.7h.1M498.7 207.1h.1M503.5 200.7h.1M499.4 201.7h.1M498.9 205.2h.1M496.4 205.6h.1M493.8 206.3h.1M497.1 204h.1M500.7 202.4h.1M490.5 212.4h.1M495.2 207.8h.1M496.6 206.2h.1M497.2 204.3h.1M494.5 205.3h.1M499.7 203h.1M495 206.4h.1M498.1 203.1h.1M494.3 206.7h.1M498.3 206h.1M496.7 204.4h.1M493.7 204.4h.1M497 208.3h.1M499.7 203.3h.1M500 204.5h.1M500 206.8h.1M495.7 207.3h.1M500.5 204.2h.1M498 204.9h.1M498.8 202.9h.1M499.9 204h.1M494.3 207.7h.1M499.4 206.5h.1M494.9 205.2h.1M499.4 205.6h.1M497.2 208.1h.1M499.2 205.7h.1M496.8 207.7h.1M496.3 204.7h.1M499.2 203.6h.1M497.1 208.2h.1M501.3 206.2h.1M497.3 206h.1M501.4 202.4h.1M494.8 208.1h.1M499.8 203.2h.1M497.3 205.8h.1M499.7 208.3h.1M496.4 207.7h.1M498.5 206.1h.1M498.9 204.5h.1M496 202.7h.1M498.4 206.5h.1M497 205.7h.1M495.3 207.9h.1M499.7 201.9h.1M497.4 205.5h.1M494.2 208.3h.1M498.9 207h.1M497.1 204.8h.1M497.9 202.5h.1M498 205.2h.1M498.7 205.2h.1M496.1 207.6h.1M496.2 206.5h.1M500.1 206.1h.1M496.5 206h.1M497.4 203.8h.1M493.5 208.4h.1M498.9 204.7h.1M497.8 205.6h.1M498.5 206.6h.1M500.6 205.3h.1M499.1 204.7h.1M506 197.9h.1M507.1 196.9h.1M505.1 199.3h.1M502.3 201.1h.1M505.5 198.3h.1M505 199h.1M505.4 198h.1M499.8 203h.1M501.4 202.7h.1M502.6 200.4h.1M504 199.4h.1M503.3 199.7h.1M503.2 199.6h.1M503.3 199.5h.1M503.8 200.5h.1M503.2 201.1h.1M502.8 199.7h.1M504.4 199.6h.1M505.2 198.9h.1M504.2 200h.1M503 200.5h.1M504.1 200.2h.1M507.8 197.1h.1M504.8 197.5h.1M503.4 201.6h.1M505.1 199h.1M502.8 201.2h.1M503.4 201.1h.1M506.8 197.6h.1M507.3 196.1h.1M504.5 199.8h.1M503.6 200.7h.1M507.1 196.7h.1M505 198.6h.1M506.6 195.2h.1M502.3 201.2h.1M503.4 200.2h.1M503.1 199.5h.1M501.2 201.4h.1M499.6 203.3h.1M506 197.1h.1M504.3 199.7h.1M504.2 198.5h.1M504.7 199.1h.1M504.5 198.4h.1M505.3 198.7h.1M503.1 199.7h.1M507.8 196.4h.1M504.9 198.8h.1M503.6 198.9h.1M502.3 201.1h.1M505.2 198.6h.1M506.6 197.1h.1M503.5 199.6h.1M504.3 199.8h.1M502.5 200.6h.1M502.1 201.4h.1M508.9 195.1h.1M504.2 199h.1M504.9 198.2h.1M507.5 196.6h.1M505.3 198.1h.1M506.8 196.9h.1M501.6 201.6h.1M507.8 196.6h.1M505 197.3h.1M507.4 196h.1M504.2 199.1h.1M504.6 199.3h.1M506 197.4h.1" stroke="#000" stroke-width=".8" stroke-linecap="square" fill="none"/>
<path d="M460.9 168.8H515.2V213.8H460.9Z M490 168.8V213.8 M460.9 194.2H515.2" class="ln"/>
<path d="M460.9 213.8v2.2M460.9 213.8h-2.2M465 213.8v1.2M460.9 210.4h-1.2M467.4 213.8v1.2M460.9 208.4h-1.2M469.1 213.8v1.2M460.9 207h-1.2M470.4 213.8v1.2M460.9 205.9h-1.2M471.5 213.8v1.2M460.9 205h-1.2M472.4 213.8v1.2M460.9 204.3h-1.2M473.2 213.8v1.2M460.9 203.6h-1.2M473.9 213.8v1.2M460.9 203.1h-1.2M474.5 213.8v2.2M460.9 202.6h-2.2M478.6 213.8v1.2M460.9 199.2h-1.2M481 213.8v1.2M460.9 197.2h-1.2M482.6 213.8v1.2M460.9 195.8h-1.2M484 213.8v1.2M460.9 194.7h-1.2M485 213.8v1.2M460.9 193.8h-1.2M485.9 213.8v1.2M460.9 193h-1.2M486.7 213.8v1.2M460.9 192.4h-1.2M487.4 213.8v1.2M460.9 191.8h-1.2M488.1 213.8v2.2M460.9 191.3h-2.2M492.1 213.8v1.2M460.9 187.9h-1.2M494.5 213.8v1.2M460.9 185.9h-1.2M496.2 213.8v1.2M460.9 184.5h-1.2M497.5 213.8v1.2M460.9 183.4h-1.2M498.6 213.8v1.2M460.9 182.5h-1.2M499.5 213.8v1.2M460.9 181.8h-1.2M500.3 213.8v1.2M460.9 181.1h-1.2M501 213.8v1.2M460.9 180.6h-1.2M501.6 213.8v2.2M460.9 180.1h-2.2M505.7 213.8v1.2M460.9 176.7h-1.2M508.1 213.8v1.2M460.9 174.7h-1.2M509.8 213.8v1.2M460.9 173.3h-1.2M511.1 213.8v1.2M460.9 172.2h-1.2M512.2 213.8v1.2M460.9 171.3h-1.2M513.1 213.8v1.2M460.9 170.5h-1.2M513.9 213.8v1.2M460.9 169.9h-1.2M514.6 213.8v1.2M460.9 169.3h-1.2M515.2 213.8v2.2M460.9 168.8h-2.2" class="tk"/>
<path d="M460.7 168.8V214.2" stroke="#000" stroke-width="1.3" fill="none" stroke-opacity=".6"/>
<path d="M460.3 214.1H515.2" stroke="#000" stroke-width="1.2" fill="none" stroke-opacity=".45"/>
<text x="458.7" y="223.1" class="s" font-size="6.1" textLength="5.5" lengthAdjust="spacingAndGlyphs">10</text>
<text x="464" y="219.4" class="s" font-size="4.6" textLength="2.3" lengthAdjust="spacingAndGlyphs">0</text>
<g transform="translate(457.5 213.8) rotate(-90)">
<text x="-4.1" y="0" class="s" font-size="6.1" textLength="5.4" lengthAdjust="spacingAndGlyphs">10</text>
<text x="2" y="-3.7" class="s" font-size="4.6" textLength="2.3" lengthAdjust="spacingAndGlyphs">0</text>
</g>
<text x="471.7" y="223.1" class="s" font-size="6.1" textLength="5.5" lengthAdjust="spacingAndGlyphs">10</text>
<text x="477" y="219.4" class="s" font-size="4.6" textLength="2.3" lengthAdjust="spacingAndGlyphs">1</text>
<g transform="translate(457.5 202.6) rotate(-90)">
<text x="-4.4" y="0" class="s" font-size="6.1" textLength="5.4" lengthAdjust="spacingAndGlyphs">10</text>
<text x="1.7" y="-3.7" class="s" font-size="4.6" textLength="2.3" lengthAdjust="spacingAndGlyphs">1</text>
</g>
<text x="484.8" y="223.1" class="s" font-size="6.1" textLength="5.5" lengthAdjust="spacingAndGlyphs">10</text>
<text x="490.1" y="219.4" class="s" font-size="4.6" textLength="2.3" lengthAdjust="spacingAndGlyphs">2</text>
<g transform="translate(457.5 191.3) rotate(-90)">
<text x="-4.7" y="0" class="s" font-size="6.1" textLength="5.4" lengthAdjust="spacingAndGlyphs">10</text>
<text x="1.4" y="-3.7" class="s" font-size="4.6" textLength="2.3" lengthAdjust="spacingAndGlyphs">2</text>
</g>
<text x="497.8" y="223.1" class="s" font-size="6.1" textLength="5.5" lengthAdjust="spacingAndGlyphs">10</text>
<text x="503.1" y="219.4" class="s" font-size="4.6" textLength="2.3" lengthAdjust="spacingAndGlyphs">3</text>
<g transform="translate(457.5 180.1) rotate(-90)">
<text x="-5" y="0" class="s" font-size="6.1" textLength="5.4" lengthAdjust="spacingAndGlyphs">10</text>
<text x="1.1" y="-3.7" class="s" font-size="4.6" textLength="2.3" lengthAdjust="spacingAndGlyphs">3</text>
</g>
<text x="510.8" y="223.1" class="s" font-size="6.1" textLength="5.5" lengthAdjust="spacingAndGlyphs">10</text>
<text x="516.1" y="219.4" class="s" font-size="4.6" textLength="2.3" lengthAdjust="spacingAndGlyphs">4</text>
<g transform="translate(457.5 168.8) rotate(-90)">
<text x="-5.3" y="0" class="s" font-size="6.1" textLength="5.4" lengthAdjust="spacingAndGlyphs">10</text>
<text x=".8" y="-3.7" class="s" font-size="4.6" textLength="2.3" lengthAdjust="spacingAndGlyphs">4</text>
</g>
<text x="488.1" y="230.2" class="r" font-size="6.2" text-anchor="middle" textLength="29.6" lengthAdjust="spacingAndGlyphs">CD38 FITC</text>
<text x="445.8" y="192.6" class="r" font-size="6.2" text-anchor="middle" textLength="28" lengthAdjust="spacingAndGlyphs" transform="rotate(-90 445.8 192.6)">CD49e PE</text>
<path d="M209.3 285.6L209.8 284.4L210.3 282L210.8 279L211.3 275.3L211.8 271.3L212.3 267.6L212.8 263.8L213.3 260.3L213.8 256.9L214.3 255.1L214.8 254.9L215.3 255.8L215.8 258.2L216.3 261.4L216.8 264.8L217.3 267.7L217.8 270.6L218.3 273.5L218.8 275.8L219.3 277.8L219.8 279.4L220.3 280.5L220.8 281.5L221.3 282.3L221.8 282.7L222.3 282.7L222.8 282.6L223.3 282.2L223.8 281.4L224.3 280.6L224.8 279.8L225.3 278.4L225.8 277.4L226.3 276.8L226.8 276.5L227.3 277L227.8 277.7L228.3 278.8L228.8 279.4L229.3 280.2L229.8 280.9L230.3 281.5L230.8 282.2L231.3 282.6L231.8 283.1L232.3 283.3L232.8 283.7L233.3 284.2L233.8 284.4L234.3 284.8L234.8 285L235.3 285.4L235.8 285.5L236.3 285.7L236.8 285.9L237.3 286L237.8 286.2L238.3 286.4L238.8 286.3L239.3 286.7L239.8 286.6L240.3 286.6L240.8 286.7L241.3 286.8L241.8 286.7L242.3 286.8L242.8 286.7L243.3 286.9L243.8 286.9L244.3 286.9L244.8 286.9L245.3 286.9L245.8 286.7L246.3 286.9L246.8 287.1L247.3 286.8L247.8 287L248.3 286.6L248.8 287L249.3 286.9L249.8 287L250.3 286.8L250.8 286.9" stroke="#111" stroke-width=".9" fill="none" stroke-linejoin="round"/>
<path d="M208.8 251.5H251.1V287.4H208.8Z" class="ln"/>
<path d="M208.2 251.5V287.9" stroke="#000" stroke-width="2" fill="none" stroke-opacity=".8"/>
<path d="M208.8 287.4h-2.4M208.8 283.8h-2.4M208.8 280.2h-2.4M208.8 276.6h-2.4M208.8 273h-2.4M208.8 269.4h-2.4M208.8 265.9h-2.4M208.8 262.3h-2.4M208.8 258.7h-2.4M208.8 255.1h-2.4M208.8 251.5h-2.4M208.8 287.4v2M212 287.4v1M213.8 287.4v1M215.2 287.4v1M216.2 287.4v1M217 287.4v1M217.7 287.4v1M218.4 287.4v1M218.9 287.4v1M219.4 287.4v2M222.6 287.4v1M224.4 287.4v1M225.7 287.4v1M226.8 287.4v1M227.6 287.4v1M228.3 287.4v1M228.9 287.4v1M229.5 287.4v1M229.9 287.4v2M233.1 287.4v1M235 287.4v1M236.3 287.4v1M237.3 287.4v1M238.2 287.4v1M238.9 287.4v1M239.5 287.4v1M240 287.4v1M240.5 287.4v2M243.7 287.4v1M245.6 287.4v1M246.9 287.4v1M247.9 287.4v1M248.8 287.4v1M249.5 287.4v1M250.1 287.4v1M250.6 287.4v1M251.1 287.4v2" class="tk"/>
<text x="204.6" y="253.4" class="s" font-size="5.4" text-anchor="middle" textLength="4.8" lengthAdjust="spacingAndGlyphs" transform="rotate(-90 204.6 253.4)">50</text>
<text x="204.6" y="286.2" class="s" font-size="5.4" text-anchor="middle" textLength="2.5" lengthAdjust="spacingAndGlyphs" transform="rotate(-90 204.6 286.2)">0</text>
<text x="197.2" y="270.9" class="s" font-size="5.4" text-anchor="middle" textLength="17" lengthAdjust="spacingAndGlyphs" transform="rotate(-90 197.2 270.9)">Counts</text>
<text x="205.6" y="296.9" class="s" font-size="6.1" textLength="5.5" lengthAdjust="spacingAndGlyphs">10</text>
<text x="210.9" y="293.2" class="s" font-size="4.6" textLength="2.3" lengthAdjust="spacingAndGlyphs">0</text>
<text x="246.4" y="296.9" class="s" font-size="6.1" textLength="5.5" lengthAdjust="spacingAndGlyphs">10</text>
<text x="251.7" y="293.2" class="s" font-size="4.6" textLength="2.3" lengthAdjust="spacingAndGlyphs">4</text>
<text x="227.9" y="301.8" class="r" font-size="6.5" text-anchor="middle" textLength="33.5" lengthAdjust="spacingAndGlyphs">c lambda PE</text>
<text x="230" y="248.1" class="t" font-size="7" text-anchor="middle">D0</text>
<path d="M219.7 272H240.4M219.7 266.8V276.3M240.4 266.8V276.3" class="ln"/>
<text x="223.6" y="262.8" class="rb" font-size="5.4" textLength="13.8" lengthAdjust="spacingAndGlyphs">r = 16</text>
<path d="M280.5 285.9L281 284.9L281.5 283.5L282 281.2L282.5 278.2L283 274.7L283.5 271.5L284 267.3L284.5 263.7L285 260.3L285.5 258.5L286 258L286.5 259.1L287 260.8L287.5 263.5L288 266.4L288.5 269.3L289 272.5L289.5 274.8L290 277.2L290.5 279.3L291 280.5L291.5 281.5L292 282.3L292.5 283.8L293 283.4L293.5 284.3L294 284.6L294.5 285.4L295 285.3L295.5 285.1L296 284.7L296.5 284.5L297 284.5L297.5 284.4L298 285.2L298.5 284.7L299 285.4L299.5 284.7L300 284.8L300.5 284.1L301 283.5L301.5 283.2L302 282.6L302.5 282.3L303 280.8L303.5 280.3L304 279.5L304.5 278.3L305 276.1L305.5 275.3L306 274.5L306.5 274.5L307 275.3L307.5 276.4L308 277.7L308.5 279.3L309 280.1L309.5 281.9L310 282.6L310.5 283.5L311 284.5L311.5 284.7L312 284.8L312.5 285.2L313 285.5L313.5 286L314 286L314.5 286.3L315 286.2L315.5 286.7L316 285.9L316.5 286.2L317 286.9L317.5 286.7L318 286.8L318.5 286.6L319 286.7L319.5 286.5L320 286.4L320.5 286.9L321 286.4L321.5 286.9L322 286.1" stroke="#111" stroke-width=".9" fill="none" stroke-linejoin="round"/>
<path d="M280 251H322.2V287.2H280Z" class="ln"/>
<path d="M279.4 251V287.7" stroke="#000" stroke-width="2" fill="none" stroke-opacity=".8"/>
<path d="M280 287.2h-2.4M280 283.6h-2.4M280 280h-2.4M280 276.3h-2.4M280 272.7h-2.4M280 269.1h-2.4M280 265.5h-2.4M280 261.9h-2.4M280 258.2h-2.4M280 254.6h-2.4M280 251h-2.4M280 287.2v2M283.2 287.2v1M285 287.2v1M286.4 287.2v1M287.4 287.2v1M288.2 287.2v1M288.9 287.2v1M289.5 287.2v1M290.1 287.2v1M290.6 287.2v2M293.7 287.2v1M295.6 287.2v1M296.9 287.2v1M297.9 287.2v1M298.8 287.2v1M299.5 287.2v1M300.1 287.2v1M300.6 287.2v1M301.1 287.2v2M304.3 287.2v1M306.1 287.2v1M307.5 287.2v1M308.5 287.2v1M309.3 287.2v1M310 287.2v1M310.6 287.2v1M311.2 287.2v1M311.6 287.2v2M314.8 287.2v1M316.7 287.2v1M318 287.2v1M319 287.2v1M319.9 287.2v1M320.6 287.2v1M321.2 287.2v1M321.7 287.2v1M322.2 287.2v2" class="tk"/>
<text x="275.7" y="252.6" class="s" font-size="5.4" text-anchor="middle" textLength="4.8" lengthAdjust="spacingAndGlyphs" transform="rotate(-90 275.7 252.6)">20</text>
<text x="275.7" y="286" class="s" font-size="5.4" text-anchor="middle" textLength="2.5" lengthAdjust="spacingAndGlyphs" transform="rotate(-90 275.7 286)">0</text>
<text x="268.4" y="270.6" class="s" font-size="5.4" text-anchor="middle" textLength="17" lengthAdjust="spacingAndGlyphs" transform="rotate(-90 268.4 270.6)">Counts</text>
<text x="276.8" y="296.4" class="s" font-size="6.1" textLength="5.5" lengthAdjust="spacingAndGlyphs">10</text>
<text x="282.1" y="292.7" class="s" font-size="4.6" textLength="2.3" lengthAdjust="spacingAndGlyphs">0</text>
<text x="317.5" y="296.4" class="s" font-size="6.1" textLength="5.5" lengthAdjust="spacingAndGlyphs">10</text>
<text x="322.8" y="292.7" class="s" font-size="4.6" textLength="2.3" lengthAdjust="spacingAndGlyphs">4</text>
<text x="300.6" y="301.2" class="r" font-size="6.5" text-anchor="middle" textLength="33.5" lengthAdjust="spacingAndGlyphs">c lambda PE</text>
<text x="298.6" y="247.6" class="t" font-size="7" text-anchor="middle">D2</text>
<path d="M293.5 268.2H314.2M293.5 263V273.2M314.2 263V273.2" class="ln"/>
<text x="296.6" y="260.9" class="rb" font-size="5.4" textLength="13.6" lengthAdjust="spacingAndGlyphs">r = 75</text>
<path d="M352.4 261L352.9 258.3L353.4 256.2L353.9 256.2L354.4 258L354.9 260.7L355.4 263.4L355.9 267L356.4 269.7L356.9 272.6L357.4 275.2L357.9 277.6L358.4 279L358.9 279.9L359.4 281.1L359.9 281.4L360.4 282.3L360.9 283.2L361.4 283.4L361.9 283.9L362.4 284L362.9 283.7L363.4 284.4L363.9 284.8L364.4 284.4L364.9 284.4L365.4 284L365.9 283.7L366.4 283.5L366.9 284.5L367.4 284.1L367.9 284.6L368.4 283.9L368.9 284.1L369.4 283.2L369.9 283.3L370.4 282.5L370.9 281.9L371.4 281.5L371.9 280.9L372.4 280.3L372.9 278.8L373.4 278L373.9 276.6L374.4 276.3L374.9 276.4L375.4 276.9L375.9 277L376.4 276.7L376.9 276.3L377.4 277.3L377.9 278.3L378.4 279.2L378.9 280.5L379.4 281.8L379.9 282.9L380.4 283.8L380.9 284.2L381.4 284.7L381.9 285.1L382.4 285.9L382.9 286.3L383.4 286.4L383.9 286.2L384.4 286L384.9 286.3L385.4 286.3L385.9 286.1L386.4 286.3L386.9 286L387.4 286.4L387.9 286.1L388.4 286.4L388.9 286.4L389.4 285.9L389.9 286.1L390.4 286.4L390.9 286.4L391.4 286.1L391.9 286.4L392.4 286.4L392.9 286.4" stroke="#111" stroke-width=".9" fill="none" stroke-linejoin="round"/>
<path d="M352 250.8H393.5V286.7H352Z" class="ln"/>
<path d="M351.4 250.8V287.2" stroke="#000" stroke-width="2" fill="none" stroke-opacity=".8"/>
<path d="M352 286.7h-2.4M352 283.1h-2.4M352 279.5h-2.4M352 275.9h-2.4M352 272.3h-2.4M352 268.8h-2.4M352 265.2h-2.4M352 261.6h-2.4M352 258h-2.4M352 254.4h-2.4M352 250.8h-2.4M352 286.7v2M355.1 286.7v1M357 286.7v1M358.2 286.7v1M359.3 286.7v1M360.1 286.7v1M360.8 286.7v1M361.4 286.7v1M361.9 286.7v1M362.4 286.7v2M365.5 286.7v1M367.3 286.7v1M368.6 286.7v1M369.6 286.7v1M370.4 286.7v1M371.1 286.7v1M371.7 286.7v1M372.3 286.7v1M372.8 286.7v2M375.9 286.7v1M377.7 286.7v1M379 286.7v1M380 286.7v1M380.8 286.7v1M381.5 286.7v1M382.1 286.7v1M382.7 286.7v1M383.1 286.7v2M386.2 286.7v1M388.1 286.7v1M389.4 286.7v1M390.4 286.7v1M391.2 286.7v1M391.9 286.7v1M392.5 286.7v1M393 286.7v1M393.5 286.7v2" class="tk"/>
<text x="347.8" y="255.8" class="s" font-size="5.4" text-anchor="middle" textLength="4.8" lengthAdjust="spacingAndGlyphs" transform="rotate(-90 347.8 255.8)">30</text>
<text x="347.8" y="265.8" class="s" font-size="5.4" text-anchor="middle" textLength="4.8" lengthAdjust="spacingAndGlyphs" transform="rotate(-90 347.8 265.8)">20</text>
<text x="347.8" y="276.2" class="s" font-size="5.4" text-anchor="middle" textLength="4.8" lengthAdjust="spacingAndGlyphs" transform="rotate(-90 347.8 276.2)">10</text>
<text x="347.8" y="285.6" class="s" font-size="5.4" text-anchor="middle" textLength="2.5" lengthAdjust="spacingAndGlyphs" transform="rotate(-90 347.8 285.6)">0</text>
<text x="340.4" y="270.2" class="s" font-size="5.4" text-anchor="middle" textLength="17" lengthAdjust="spacingAndGlyphs" transform="rotate(-90 340.4 270.2)">Counts</text>
<text x="348.8" y="295.9" class="s" font-size="6.1" textLength="5.5" lengthAdjust="spacingAndGlyphs">10</text>
<text x="354.1" y="292.2" class="s" font-size="4.6" textLength="2.3" lengthAdjust="spacingAndGlyphs">0</text>
<text x="388.8" y="295.9" class="s" font-size="6.1" textLength="5.5" lengthAdjust="spacingAndGlyphs">10</text>
<text x="394.1" y="292.2" class="s" font-size="4.6" textLength="2.3" lengthAdjust="spacingAndGlyphs">4</text>
<text x="372.9" y="301" class="r" font-size="6.5" text-anchor="middle" textLength="34" lengthAdjust="spacingAndGlyphs">c lambda PE</text>
<text x="371.4" y="246.9" class="t" font-size="7" text-anchor="middle">D4</text>
<path d="M363.2 270.8H384M363.2 266.2V275.7M384 266.2V275.7" class="ln"/>
<text x="366.3" y="261.6" class="rb" font-size="5.4" textLength="13.2" lengthAdjust="spacingAndGlyphs">r = 74</text>
<path d="M209.2 349.5L209.7 349.6L210.2 348.9L210.7 348.5L211.2 348.5L211.7 347.6L212.2 345.4L212.7 343L213.2 339.7L213.7 334.3L214.2 329.4L214.7 323.4L215.2 319.2L215.7 316.7L216.2 316.5L216.7 318.7L217.2 322L217.7 326.4L218.2 331.8L218.7 336.1L219.2 339.9L219.7 342.9L220.2 344.9L220.7 346.2L221.2 347.8L221.7 348.2L222.2 348.6L222.7 349.1L223.2 349.1L223.7 349.4L224.2 349.5L224.7 349.8L225.2 349.4L225.7 349.5L226.2 349.8L226.7 349.7L227.2 349.6L227.7 349.8L228.2 349.6L228.7 349.7L229.2 349.8L229.7 349.7L230.2 349.7L230.7 350.1L231.2 349.4L231.7 349.8L232.2 349.8L232.7 350.1L233.2 349.9L233.7 350L234.2 350.1L234.7 350.1L235.2 349.7L235.7 349.8L236.2 350L236.7 350.1L237.2 349.9L237.7 349.9L238.2 350.1L238.7 350.2L239.2 350L239.7 350.2L240.2 350.2L240.7 350.2L241.2 350.1L241.7 350.1L242.2 350L242.7 350.2L243.2 350L243.7 349.9L244.2 350L244.7 350L245.2 350L245.7 350.2L246.2 350.2L246.7 349.9L247.2 350.1L247.7 350.1L248.2 349.6L248.7 350L249.2 350.1L249.7 350.1L250.2 350L250.7 350.2" stroke="#222" stroke-width=".7" fill="none" stroke-linejoin="round"/>
<path d="M209.2 345.4L209.7 346.8L210.2 348.5L210.7 347.9L211.2 348.1L211.7 348.8L212.2 347.6L212.7 346.9L213.2 347.2L213.7 346.5L214.2 346L214.7 344.8L215.2 344L215.7 342.5L216.2 342.3L216.7 342.4L217.2 341.5L217.7 340.4L218.2 339.7L218.7 339.9L219.2 338.6L219.7 337.8L220.2 337.4L220.7 336.6L221.2 335.6L221.7 334.3L222.2 334.2L222.7 332.5L223.2 330.5L223.7 330.2L224.2 327.8L224.7 325.1L225.2 323.8L225.7 321.4L226.2 320.6L226.7 321.6L227.2 324L227.7 326.8L228.2 330.9L228.7 333L229.2 333.9L229.7 336.7L230.2 337.6L230.7 338.6L231.2 339.6L231.7 341L232.2 341.2L232.7 342.7L233.2 343.1L233.7 344.1L234.2 344L234.7 344.7L235.2 343.3L235.7 344.4L236.2 344.4L236.7 344.2L237.2 344.9L237.7 345.5L238.2 344.7L238.7 345L239.2 346.2L239.7 346.4L240.2 348L240.7 348.1L241.2 348.9L241.7 348.4L242.2 349.4L242.7 349.4L243.2 349.8L243.7 350L244.2 349.5L244.7 349.3L245.2 349.2L245.7 350.2L246.2 349.5L246.7 350.2L247.2 349.7L247.7 349.9L248.2 349.7L248.7 349.9L249.2 349.5L249.7 349.5L250.2 350.2L250.7 350.1" stroke="#000" stroke-width="1.4" fill="none" stroke-linejoin="round"/>
<path d="M208.8 314.7H251.2V350.5H208.8Z" class="ln"/>
<path d="M208.2 314.7V351" stroke="#000" stroke-width="2" fill="none" stroke-opacity=".8"/>
<path d="M208.8 350.5h-2.4M208.8 346.9h-2.4M208.8 343.3h-2.4M208.8 339.8h-2.4M208.8 336.2h-2.4M208.8 332.6h-2.4M208.8 329h-2.4M208.8 325.4h-2.4M208.8 321.9h-2.4M208.8 318.3h-2.4M208.8 314.7h-2.4M208.8 350.5v2M212 350.5v1M213.9 350.5v1M215.2 350.5v1M216.2 350.5v1M217 350.5v1M217.8 350.5v1M218.4 350.5v1M218.9 350.5v1M219.4 350.5v2M222.6 350.5v1M224.5 350.5v1M225.8 350.5v1M226.8 350.5v1M227.6 350.5v1M228.4 350.5v1M229 350.5v1M229.5 350.5v1M230 350.5v2M233.2 350.5v1M235.1 350.5v1M236.4 350.5v1M237.4 350.5v1M238.2 350.5v1M239 350.5v1M239.6 350.5v1M240.1 350.5v1M240.6 350.5v2M243.8 350.5v1M245.7 350.5v1M247 350.5v1M248 350.5v1M248.8 350.5v1M249.6 350.5v1M250.2 350.5v1M250.7 350.5v1M251.2 350.5v2" class="tk"/>
<text x="205.4" y="322.3" class="s" font-size="5.4" text-anchor="middle" textLength="4.8" lengthAdjust="spacingAndGlyphs" transform="rotate(-90 205.4 322.3)">30</text>
<text x="205.4" y="330.8" class="s" font-size="5.4" text-anchor="middle" textLength="4.8" lengthAdjust="spacingAndGlyphs" transform="rotate(-90 205.4 330.8)">20</text>
<text x="205.4" y="339.3" class="s" font-size="5.4" text-anchor="middle" textLength="4.8" lengthAdjust="spacingAndGlyphs" transform="rotate(-90 205.4 339.3)">10</text>
<text x="205.4" y="348.4" class="s" font-size="5.4" text-anchor="middle" textLength="2.5" lengthAdjust="spacingAndGlyphs" transform="rotate(-90 205.4 348.4)">0</text>
<text x="197.2" y="334.1" class="s" font-size="5.4" text-anchor="middle" textLength="17" lengthAdjust="spacingAndGlyphs" transform="rotate(-90 197.2 334.1)">Counts</text>
<text x="205.6" y="359.1" class="s" font-size="6.1" textLength="5.5" lengthAdjust="spacingAndGlyphs">10</text>
<text x="210.9" y="355.4" class="s" font-size="4.6" textLength="2.3" lengthAdjust="spacingAndGlyphs">0</text>
<text x="246.5" y="359.1" class="s" font-size="6.1" textLength="5.5" lengthAdjust="spacingAndGlyphs">10</text>
<text x="251.8" y="355.4" class="s" font-size="4.6" textLength="2.3" lengthAdjust="spacingAndGlyphs">4</text>
<text x="229.7" y="363.5" class="r" font-size="6.5" text-anchor="middle" textLength="34.2" lengthAdjust="spacingAndGlyphs">HLA-DR PE</text>
<text x="239.8" y="321.7" class="t" font-size="6" textLength="6.6" lengthAdjust="spacingAndGlyphs">D0</text>
<path d="M280.8 348.8L281.3 348.9L281.8 348.9L282.3 348.7L282.8 348.9L283.3 348.9L283.8 348.7L284.3 348.2L284.8 347.8L285.3 347.4L285.8 346.2L286.3 344.3L286.8 340.9L287.3 336.6L287.8 331.8L288.3 326.5L288.8 321.7L289.3 317.7L289.8 316.1L290.3 317.4L290.8 321.2L291.3 325.5L291.8 329.8L292.3 333.8L292.8 337.1L293.3 339.5L293.8 341.4L294.3 342.5L294.8 343.6L295.3 345.1L295.8 345.8L296.3 346.7L296.8 346.6L297.3 347.4L297.8 347.7L298.3 348.1L298.8 348L299.3 348.2L299.8 348.8L300.3 348.9L300.8 349L301.3 349.1L301.8 348.9L302.3 348.9L302.8 349.2L303.3 349.2L303.8 349L304.3 349.6L304.8 349.5L305.3 349.2L305.8 349L306.3 348.8L306.8 349L307.3 349.3L307.8 349L308.3 349.4L308.8 349.2L309.3 349.2L309.8 349.1L310.3 349.2L310.8 348.9L311.3 349L311.8 349.4L312.3 349.1L312.8 349.1L313.3 349.1L313.8 349.5L314.3 349.4L314.8 349.1L315.3 349.6L315.8 349.3L316.3 349.5L316.8 349.3L317.3 349.4L317.8 349.3L318.3 349.2L318.8 349.2L319.3 349.3L319.8 349.2L320.3 349.4L320.8 349.1L321.3 349.4L321.8 349.1" stroke="#222" stroke-width=".7" fill="none" stroke-linejoin="round"/>
<path d="M280.8 349.6L281.3 349.1L281.8 349.1L282.3 349.5L282.8 349L283.3 348.8L283.8 349.2L284.3 349.4L284.8 349.3L285.3 349.4L285.8 349L286.3 349L286.8 348L287.3 348L287.8 347.5L288.3 347.6L288.8 345.3L289.3 343.6L289.8 340.7L290.3 336.8L290.8 333.3L291.3 330.4L291.8 327.1L292.3 328.3L292.8 332.5L293.3 333L293.8 333.8L294.3 330.7L294.8 329L295.3 327.2L295.8 332.5L296.3 334.1L296.8 335.3L297.3 332.6L297.8 329.7L298.3 326.8L298.8 324.7L299.3 327.5L299.8 331.7L300.3 335L300.8 336.9L301.3 338.3L301.8 338.9L302.3 339.5L302.8 340.5L303.3 341L303.8 342.7L304.3 343.2L304.8 344.6L305.3 344.8L305.8 345.9L306.3 346L306.8 346.7L307.3 346.9L307.8 347.3L308.3 347.3L308.8 347.9L309.3 348.6L309.8 348.6L310.3 348.3L310.8 348.3L311.3 348.3L311.8 347.7L312.3 348L312.8 347.8L313.3 349L313.8 348.3L314.3 349L314.8 348.8L315.3 348.9L315.8 349.1L316.3 349.1L316.8 348.6L317.3 348.7L317.8 349.4L318.3 348.8L318.8 349.6L319.3 348.9L319.8 349.2L320.3 348.8L320.8 349.1L321.3 348.5L321.8 349.6" stroke="#000" stroke-width="1.4" fill="none" stroke-linejoin="round"/>
<path d="M280.4 314.2H322.7V349.9H280.4Z" class="ln"/>
<path d="M279.8 314.2V350.4" stroke="#000" stroke-width="2" fill="none" stroke-opacity=".8"/>
<path d="M280.4 349.9h-2.4M280.4 346.3h-2.4M280.4 342.8h-2.4M280.4 339.2h-2.4M280.4 335.6h-2.4M280.4 332h-2.4M280.4 328.5h-2.4M280.4 324.9h-2.4M280.4 321.3h-2.4M280.4 317.8h-2.4M280.4 314.2h-2.4M280.4 349.9v2M283.6 349.9v1M285.4 349.9v1M286.8 349.9v1M287.8 349.9v1M288.6 349.9v1M289.3 349.9v1M290 349.9v1M290.5 349.9v1M291 349.9v2M294.2 349.9v1M296 349.9v1M297.3 349.9v1M298.4 349.9v1M299.2 349.9v1M299.9 349.9v1M300.5 349.9v1M301.1 349.9v1M301.5 349.9v2M304.7 349.9v1M306.6 349.9v1M307.9 349.9v1M308.9 349.9v1M309.8 349.9v1M310.5 349.9v1M311.1 349.9v1M311.6 349.9v1M312.1 349.9v2M315.3 349.9v1M317.2 349.9v1M318.5 349.9v1M319.5 349.9v1M320.4 349.9v1M321.1 349.9v1M321.7 349.9v1M322.2 349.9v1M322.7 349.9v2" class="tk"/>
<text x="276.6" y="315.8" class="s" font-size="5.4" text-anchor="middle" textLength="4.8" lengthAdjust="spacingAndGlyphs" transform="rotate(-90 276.6 315.8)">20</text>
<text x="276.6" y="323.2" class="s" font-size="5.4" text-anchor="middle" textLength="4.8" lengthAdjust="spacingAndGlyphs" transform="rotate(-90 276.6 323.2)">15</text>
<text x="276.6" y="330.8" class="s" font-size="5.4" text-anchor="middle" textLength="4.8" lengthAdjust="spacingAndGlyphs" transform="rotate(-90 276.6 330.8)">10</text>
<text x="276.6" y="340.8" class="s" font-size="5.4" text-anchor="middle" textLength="2.5" lengthAdjust="spacingAndGlyphs" transform="rotate(-90 276.6 340.8)">5</text>
<text x="276.6" y="347.8" class="s" font-size="5.4" text-anchor="middle" textLength="2.5" lengthAdjust="spacingAndGlyphs" transform="rotate(-90 276.6 347.8)">0</text>
<text x="269.4" y="333.5" class="s" font-size="5.4" text-anchor="middle" textLength="17" lengthAdjust="spacingAndGlyphs" transform="rotate(-90 269.4 333.5)">Counts</text>
<text x="277.2" y="358.7" class="s" font-size="6.1" textLength="5.5" lengthAdjust="spacingAndGlyphs">10</text>
<text x="282.5" y="355" class="s" font-size="4.6" textLength="2.3" lengthAdjust="spacingAndGlyphs">0</text>
<text x="318" y="358.7" class="s" font-size="6.1" textLength="5.5" lengthAdjust="spacingAndGlyphs">10</text>
<text x="323.3" y="355" class="s" font-size="4.6" textLength="2.3" lengthAdjust="spacingAndGlyphs">4</text>
<text x="301.2" y="363.2" class="r" font-size="6.5" text-anchor="middle" textLength="34.2" lengthAdjust="spacingAndGlyphs">HLA-DR PE</text>
<text x="310.9" y="321.7" class="t" font-size="6" textLength="6.8" lengthAdjust="spacingAndGlyphs">D4</text>
<path d="M352.4 346.4L352.9 345.1L353.4 342.8L353.9 339.8L354.4 335.8L354.9 332.2L355.4 329.1L355.9 326.3L356.4 324.2L356.9 323.2L357.4 322.6L357.9 322.7L358.4 324L358.9 325.7L359.4 328.3L359.9 331L360.4 333.9L360.9 336.6L361.4 339.2L361.9 341.9L362.4 344.4L362.9 345.7L363.4 347L363.9 347.9L364.4 348.3L364.9 348.3L365.4 348.5L365.9 348.6L366.4 348.8L366.9 348.7L367.4 348.9L367.9 348.8L368.4 348.5L368.9 348.7L369.4 348.8L369.9 348.9L370.4 348.7L370.9 348.7L371.4 348.9L371.9 348.8L372.4 349.1L372.9 348.8L373.4 348.9L373.9 348.8L374.4 348.7L374.9 348.9L375.4 348.8L375.9 349L376.4 348.9L376.9 348.6L377.4 348.9L377.9 348.8L378.4 348.8L378.9 348.8L379.4 348.7L379.9 349.1L380.4 348.5L380.9 348.9L381.4 348.7L381.9 348.7L382.4 348.7L382.9 348.8L383.4 348.7L383.9 348.9L384.4 348.9L384.9 348.8L385.4 348.6L385.9 348.9L386.4 349L386.9 348.8L387.4 349L387.9 349L388.4 348.8L388.9 349.1L389.4 349L389.9 349.1L390.4 348.9L390.9 349.1L391.4 349L391.9 348.9L392.4 348.7L392.9 348.9L393.4 348.8L393.9 348.8" stroke="#222" stroke-width=".7" fill="none" stroke-linejoin="round"/>
<path d="M352.4 344.2L352.9 346L353.4 347.4L353.9 347.9L354.4 347.1L354.9 347.4L355.4 346.5L355.9 346.1L356.4 346L356.9 345.6L357.4 345.5L357.9 345.1L358.4 344.6L358.9 344.3L359.4 343.4L359.9 342.8L360.4 342.5L360.9 342.1L361.4 341L361.9 339.5L362.4 338.7L362.9 337.3L363.4 336.5L363.9 336.2L364.4 336.4L364.9 337.3L365.4 337.8L365.9 338.3L366.4 338L366.9 339.2L367.4 338.7L367.9 339.5L368.4 338.7L368.9 340.3L369.4 341.1L369.9 341.6L370.4 342.1L370.9 342.7L371.4 344L371.9 345L372.4 345.8L372.9 346.1L373.4 347.2L373.9 347.6L374.4 348.2L374.9 348.2L375.4 348.6L375.9 348.5L376.4 348.8L376.9 348.5L377.4 348.2L377.9 348.8L378.4 348.7L378.9 348.5L379.4 348.7L379.9 348.7L380.4 349L380.9 348.7L381.4 348.8L381.9 349.1L382.4 348.4L382.9 348.8L383.4 349.1L383.9 348.6L384.4 349L384.9 348.6L385.4 348.8L385.9 348.9L386.4 349L386.9 349.1L387.4 348.7L387.9 348.8L388.4 348.9L388.9 349.1L389.4 348.6L389.9 348.8L390.4 348.7L390.9 349.1L391.4 349.1L391.9 348.2L392.4 348.8L392.9 349.1L393.4 348.8L393.9 348.4" stroke="#000" stroke-width="1.4" fill="none" stroke-linejoin="round"/>
<path d="M352 313.8H394V349.4H352Z" class="ln"/>
<path d="M351.4 313.8V349.9" stroke="#000" stroke-width="2" fill="none" stroke-opacity=".8"/>
<path d="M352 349.4h-2.4M352 345.8h-2.4M352 342.3h-2.4M352 338.7h-2.4M352 335.2h-2.4M352 331.6h-2.4M352 328h-2.4M352 324.5h-2.4M352 320.9h-2.4M352 317.4h-2.4M352 313.8h-2.4M352 349.4v2M355.2 349.4v1M357 349.4v1M358.3 349.4v1M359.3 349.4v1M360.2 349.4v1M360.9 349.4v1M361.5 349.4v1M362 349.4v1M362.5 349.4v2M365.7 349.4v1M367.5 349.4v1M368.8 349.4v1M369.8 349.4v1M370.7 349.4v1M371.4 349.4v1M372 349.4v1M372.5 349.4v1M373 349.4v2M376.2 349.4v1M378 349.4v1M379.3 349.4v1M380.3 349.4v1M381.2 349.4v1M381.9 349.4v1M382.5 349.4v1M383 349.4v1M383.5 349.4v2M386.7 349.4v1M388.5 349.4v1M389.8 349.4v1M390.8 349.4v1M391.7 349.4v1M392.4 349.4v1M393 349.4v1M393.5 349.4v1M394 349.4v2" class="tk"/>
<text x="348.8" y="314.4" class="s" font-size="5.4" text-anchor="middle" textLength="4.8" lengthAdjust="spacingAndGlyphs" transform="rotate(-90 348.8 314.4)">40</text>
<text x="348.8" y="322.8" class="s" font-size="5.4" text-anchor="middle" textLength="4.8" lengthAdjust="spacingAndGlyphs" transform="rotate(-90 348.8 322.8)">30</text>
<text x="348.8" y="331.2" class="s" font-size="5.4" text-anchor="middle" textLength="4.8" lengthAdjust="spacingAndGlyphs" transform="rotate(-90 348.8 331.2)">20</text>
<text x="348.8" y="339.4" class="s" font-size="5.4" text-anchor="middle" textLength="4.8" lengthAdjust="spacingAndGlyphs" transform="rotate(-90 348.8 339.4)">10</text>
<text x="348.8" y="347.2" class="s" font-size="5.4" text-anchor="middle" textLength="2.5" lengthAdjust="spacingAndGlyphs" transform="rotate(-90 348.8 347.2)">0</text>
<text x="341.4" y="333.1" class="s" font-size="5.4" text-anchor="middle" textLength="17" lengthAdjust="spacingAndGlyphs" transform="rotate(-90 341.4 333.1)">Counts</text>
<text x="348.8" y="358.1" class="s" font-size="6.1" textLength="5.5" lengthAdjust="spacingAndGlyphs">10</text>
<text x="354.1" y="354.4" class="s" font-size="4.6" textLength="2.3" lengthAdjust="spacingAndGlyphs">0</text>
<text x="389.3" y="358.1" class="s" font-size="6.1" textLength="5.5" lengthAdjust="spacingAndGlyphs">10</text>
<text x="394.6" y="354.4" class="s" font-size="4.6" textLength="2.3" lengthAdjust="spacingAndGlyphs">4</text>
<text x="372.7" y="363" class="r" font-size="6.5" text-anchor="middle" textLength="34.2" lengthAdjust="spacingAndGlyphs">HLA-DR PE</text>
<text x="382" y="320.8" class="t" font-size="6" textLength="6.8" lengthAdjust="spacingAndGlyphs">D0</text>
<path d="M425 349L425.5 348.9L426 348.6L426.5 348.4L427 348.3L427.5 348.2L428 347.8L428.5 346.8L429 345.2L429.5 342.4L430 338L430.5 332.4L431 326.5L431.5 320.4L432 316.7L432.5 316.3L433 318.4L433.5 322.7L434 327.2L434.5 331.8L435 335.8L435.5 338.6L436 341L436.5 343.1L437 344.5L437.5 345.6L438 346.4L438.5 347.3L439 347.4L439.5 347.9L440 348.3L440.5 348.6L441 348.3L441.5 348.4L442 348.6L442.5 348.9L443 348.5L443.5 348.4L444 348.4L444.5 348.7L445 348.5L445.5 348.8L446 348.4L446.5 348.5L447 348.6L447.5 348.5L448 348.5L448.5 348.7L449 348.5L449.5 348.4L450 348.5L450.5 348.7L451 348.7L451.5 348.8L452 348.6L452.5 348.7L453 348.7L453.5 348.7L454 348.6L454.5 348.4L455 348.9L455.5 349L456 348.7L456.5 348.8L457 348.7L457.5 348.7L458 349L458.5 348.6L459 349L459.5 348.9L460 348.5L460.5 348.8L461 349L461.5 348.8L462 348.9L462.5 348.6L463 348.9L463.5 348.9L464 349L464.5 348.7L465 348.9L465.5 348.9L466 348.8L466.5 348.9L467 349.1" stroke="#222" stroke-width=".7" fill="none" stroke-linejoin="round"/>
<path d="M425 348.9L425.5 348.5L426 348.8L426.5 348.6L427 348.5L427.5 348.9L428 348.5L428.5 348.1L429 347.5L429.5 347.1L430 346.6L430.5 345L431 342.9L431.5 339.7L432 337.4L432.5 333.8L433 331.2L433.5 328.5L434 326L434.5 324.5L435 325.3L435.5 326.7L436 329L436.5 331.6L437 334.5L437.5 337.3L438 339.5L438.5 341.8L439 342.5L439.5 344.3L440 345.9L440.5 346.4L441 346.4L441.5 347.4L442 347.4L442.5 347.7L443 347.9L443.5 347.9L444 348.3L444.5 348.6L445 348.5L445.5 348.3L446 348.4L446.5 348L447 348.1L447.5 347.9L448 348.2L448.5 347.9L449 348.9L449.5 348.3L450 348.9L450.5 348.7L451 348.7L451.5 348.2L452 349L452.5 348.5L453 348.7L453.5 348.8L454 349L454.5 348.2L455 348.8L455.5 348.8L456 348.5L456.5 348.7L457 348.8L457.5 348.9L458 348.5L458.5 348.6L459 349.1L459.5 348.8L460 348.5L460.5 349.1L461 348.9L461.5 348.9L462 348.7L462.5 349.1L463 348.5L463.5 348.8L464 349.1L464.5 348.8L465 348.7L465.5 349.1L466 349L466.5 348.9L467 348.6" stroke="#000" stroke-width="1.4" fill="none" stroke-linejoin="round"/>
<path d="M424.8 313.8H467V349.4H424.8Z" class="ln"/>
<path d="M424.2 313.8V349.9" stroke="#000" stroke-width="2" fill="none" stroke-opacity=".8"/>
<path d="M424.8 349.4h-2.4M424.8 345.8h-2.4M424.8 342.3h-2.4M424.8 338.7h-2.4M424.8 335.2h-2.4M424.8 331.6h-2.4M424.8 328h-2.4M424.8 324.5h-2.4M424.8 320.9h-2.4M424.8 317.4h-2.4M424.8 313.8h-2.4M424.8 349.4v2M428 349.4v1M429.8 349.4v1M431.2 349.4v1M432.2 349.4v1M433 349.4v1M433.7 349.4v1M434.3 349.4v1M434.9 349.4v1M435.4 349.4v2M438.5 349.4v1M440.4 349.4v1M441.7 349.4v1M442.7 349.4v1M443.6 349.4v1M444.3 349.4v1M444.9 349.4v1M445.4 349.4v1M445.9 349.4v2M449.1 349.4v1M450.9 349.4v1M452.3 349.4v1M453.3 349.4v1M454.1 349.4v1M454.8 349.4v1M455.4 349.4v1M456 349.4v1M456.4 349.4v2M459.6 349.4v1M461.5 349.4v1M462.8 349.4v1M463.8 349.4v1M464.7 349.4v1M465.4 349.4v1M466 349.4v1M466.5 349.4v1M467 349.4v2" class="tk"/>
<text x="420.6" y="314.6" class="s" font-size="5.4" text-anchor="middle" textLength="4.8" lengthAdjust="spacingAndGlyphs" transform="rotate(-90 420.6 314.6)">40</text>
<text x="420.6" y="323" class="s" font-size="5.4" text-anchor="middle" textLength="4.8" lengthAdjust="spacingAndGlyphs" transform="rotate(-90 420.6 323)">30</text>
<text x="420.6" y="331.2" class="s" font-size="5.4" text-anchor="middle" textLength="4.8" lengthAdjust="spacingAndGlyphs" transform="rotate(-90 420.6 331.2)">20</text>
<text x="420.6" y="339.4" class="s" font-size="5.4" text-anchor="middle" textLength="4.8" lengthAdjust="spacingAndGlyphs" transform="rotate(-90 420.6 339.4)">10</text>
<text x="420.6" y="347.2" class="s" font-size="5.4" text-anchor="middle" textLength="2.5" lengthAdjust="spacingAndGlyphs" transform="rotate(-90 420.6 347.2)">0</text>
<text x="413.2" y="333.1" class="s" font-size="5.4" text-anchor="middle" textLength="17" lengthAdjust="spacingAndGlyphs" transform="rotate(-90 413.2 333.1)">Counts</text>
<text x="421.6" y="357.8" class="s" font-size="6.1" textLength="5.5" lengthAdjust="spacingAndGlyphs">10</text>
<text x="426.9" y="354.1" class="s" font-size="4.6" textLength="2.3" lengthAdjust="spacingAndGlyphs">0</text>
<text x="462.3" y="357.8" class="s" font-size="6.1" textLength="5.5" lengthAdjust="spacingAndGlyphs">10</text>
<text x="467.6" y="354.1" class="s" font-size="4.6" textLength="2.3" lengthAdjust="spacingAndGlyphs">4</text>
<text x="445.6" y="362.8" class="r" font-size="6.5" text-anchor="middle" textLength="34.4" lengthAdjust="spacingAndGlyphs">HLA-DR PE</text>
<text x="455.8" y="320.8" class="t" font-size="6" textLength="6.6" lengthAdjust="spacingAndGlyphs">D7</text>
</g>
</svg>
</body>
</html>
